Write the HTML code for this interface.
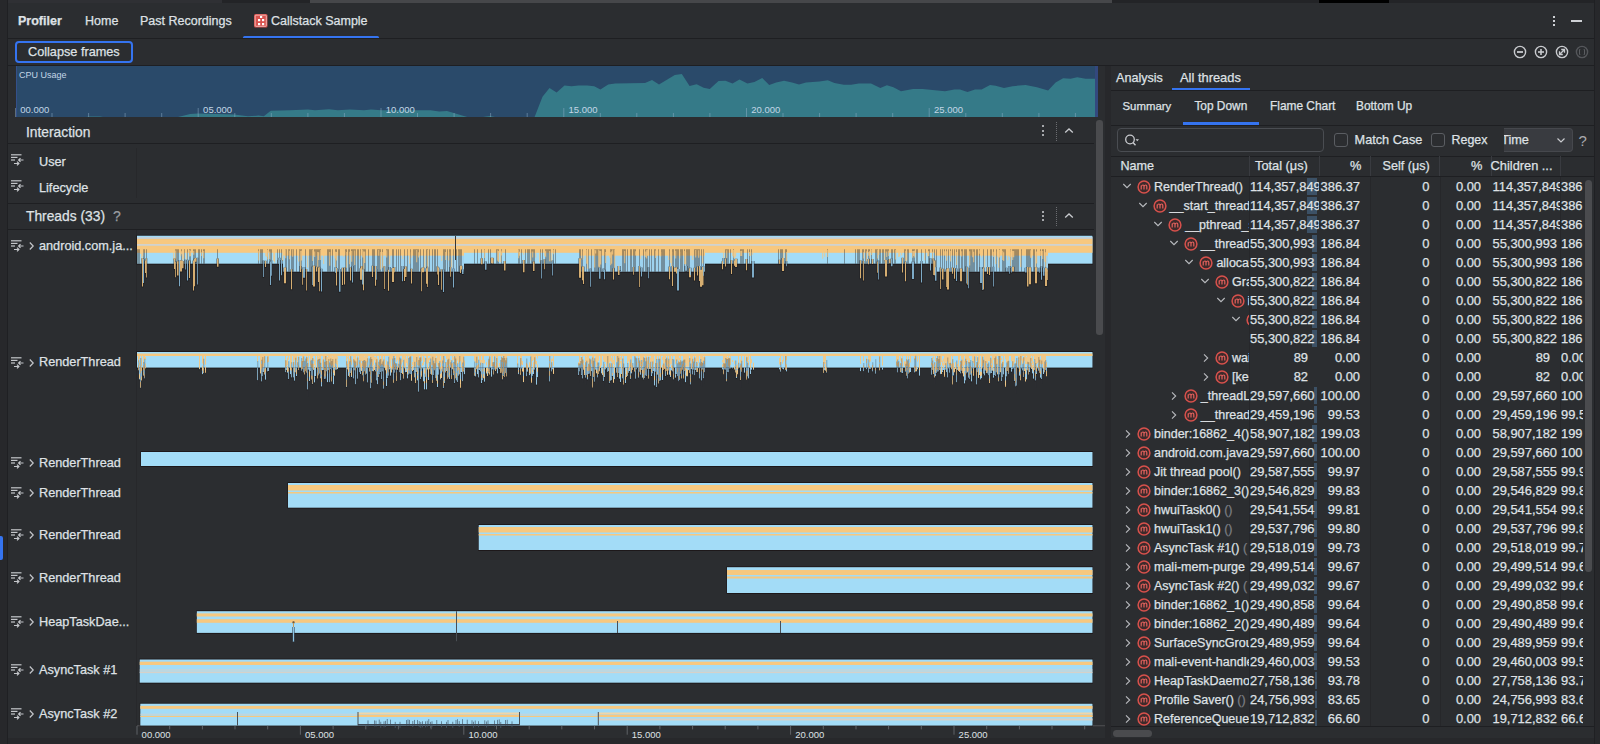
<!DOCTYPE html>
<html><head><meta charset="utf-8"><style>*{box-sizing:border-box;margin:0;padding:0}
html,body{width:1600px;height:744px;overflow:hidden;background:#2b2d30;font-family:"Liberation Sans",sans-serif;color:#dfe1e5;-webkit-text-stroke:0.25px currentColor}
.a{position:absolute}
.t{position:absolute;white-space:nowrap;line-height:1}
.hl{position:absolute;height:1px;background:#1e1f22}
.vl{position:absolute;width:1px;background:#1e1f22}
</style></head><body>
<div class="a" style="left:0;top:0;width:7px;height:744px;background:#27282b"></div>
<div class="vl" style="left:7px;top:0;height:744px;background:#1f2023"></div>
<div class="vl" style="left:1594px;top:0;height:744px;background:#1f2023"></div>
<div class="a" style="left:1595px;top:0;width:5px;height:744px;background:#27282b"></div>
<div class="a" style="left:8px;top:0;width:214px;height:3px;background:#2f3034"></div>
<div class="a" style="left:222px;top:0;width:88px;height:3px;background:#232427"></div>
<div class="a" style="left:310px;top:0;width:802px;height:3px;background:#46474a"></div>
<div class="a" style="left:1112px;top:0;width:207px;height:3px;background:#232427"></div>
<div class="a" style="left:1319px;top:0;width:70px;height:3px;background:#000"></div>
<div class="a" style="left:1389px;top:0;width:205px;height:3px;background:#232427"></div>
<div class="a" style="left:8px;top:738px;width:1586px;height:6px;background:#27282b"></div>
<div class="a" style="left:0;top:536px;width:2.5px;height:24px;background:#3574f0;border-radius:0 2px 2px 0"></div>
<div class="t" style="left:18px;top:15.3px;font-size:12.5px;font-weight:bold">Profiler</div>
<div class="t" style="left:85px;top:15.3px;font-size:12.5px">Home</div>
<div class="t" style="left:140px;top:15.3px;font-size:12.5px">Past Recordings</div>
<svg class="a" style="left:253px;top:13px" width="16" height="16" viewBox="0 0 16 16">
<rect x="1" y="1" width="13.5" height="13.5" rx="1.5" fill="#d9534f"/>
<rect x="2.2" y="2.2" width="11.1" height="11.1" rx="0.8" fill="none" stroke="#f4c6c4" stroke-width="0.8"/>
<rect x="5" y="6" width="2.2" height="2.2" fill="#fff"/><rect x="9" y="6" width="2.2" height="2.2" fill="#fff"/>
<rect x="5" y="10" width="2.2" height="2.2" fill="#fff"/><rect x="9" y="10" width="2.2" height="2.2" fill="#fff"/>
<rect x="7" y="3" width="2.2" height="2" fill="#fff"/></svg>
<div class="t" style="left:271px;top:15.3px;font-size:12.5px">Callstack Sample</div>
<div class="a" style="left:243px;top:36px;width:136px;height:3px;border-radius:2px;background:#3574f0"></div>
<div class="hl" style="left:8px;top:38px;width:1586px"></div>
<div class="a" style="left:1553px;top:16px;width:2px;height:2px;background:#cfd1d5"></div>
<div class="a" style="left:1553px;top:20px;width:2px;height:2px;background:#cfd1d5"></div>
<div class="a" style="left:1553px;top:24px;width:2px;height:2px;background:#cfd1d5"></div>
<div class="a" style="left:1571px;top:20px;width:11px;height:1.5px;background:#cfd1d5"></div>
<div class="a" style="left:15px;top:41px;width:118px;height:22px;border:2px solid #3574f0;border-radius:4px"></div>
<div class="t" style="left:28px;top:46px;font-size:12.7px">Collapse frames</div>
<div class="hl" style="left:8px;top:65px;width:1586px"></div>
<svg class="a" style="left:1512px;top:44px" width="16" height="16" viewBox="0 0 16 16"><circle cx="8" cy="8" r="5.6" fill="none" stroke="#c9cbcf" stroke-width="1.4"/><line x1="5" y1="8" x2="11" y2="8" stroke="#c9cbcf" stroke-width="1.8"/></svg>
<svg class="a" style="left:1533px;top:44px" width="16" height="16" viewBox="0 0 16 16"><circle cx="8" cy="8" r="5.6" fill="none" stroke="#c9cbcf" stroke-width="1.4"/><line x1="5" y1="8" x2="11" y2="8" stroke="#c9cbcf" stroke-width="1.6"/><line x1="8" y1="5" x2="8" y2="11" stroke="#c9cbcf" stroke-width="1.6"/></svg>
<svg class="a" style="left:1554px;top:44px" width="16" height="16" viewBox="0 0 16 16"><circle cx="8" cy="8" r="5.6" fill="none" stroke="#c9cbcf" stroke-width="1.4"/><path d="M5.5 10.5 L10.5 5.5 M7.2 5.5 H10.5 V8.8 M5.5 7.2 V10.5 H8.8" fill="none" stroke="#c9cbcf" stroke-width="1.3"/></svg>
<svg class="a" style="left:1574px;top:44px" width="16" height="16" viewBox="0 0 16 16"><circle cx="8" cy="8" r="5.6" fill="none" stroke="#55575b" stroke-width="1.4"/><path d="M6.3 5.5 H5.5 V10.5 H6.3 M9.7 5.5 H10.5 V10.5 H9.7" fill="none" stroke="#5b5d61" stroke-width="1"/></svg>
<svg class="a" style="left:0;top:0" width="1100" height="120" viewBox="0 0 1100 120">
<rect x="16" y="66" width="1082" height="51" fill="#2a4a6a"/>
<rect x="16" y="66" width="1" height="51" fill="#34508a"/>
<polygon fill="#357a88" points="16.0,117.0 86.0,117.0 89.0,116.5 100.0,116.5 103.0,117.0 178.0,117.0 190.2,113.9 198.0,113.4 234.0,114.6 248.0,116.3 258.5,115.6 263.8,116.3 270.8,110.8 290.0,110.2 308.0,109.5 315.0,110.2 329.0,109.3 337.8,110.2 350.0,109.5 364.0,110.2 371.0,109.5 381.5,110.2 430.5,110.2 439.2,111.6 447.0,111.1 467.2,116.9 483.0,116.9 490.0,116.0 495.0,116.9 534.6,116.9 542.5,96.8 549.5,88.0 556.6,92.4 564.5,85.4 571.5,86.2 578.5,85.4 587.2,85.4 594.2,86.2 600.4,89.4 608.2,84.5 615.2,83.6 645.0,83.1 652.0,80.1 659.0,84.5 674.8,74.9 681.8,74.0 689.6,85.9 696.6,84.2 703.6,87.7 709.8,88.9 718.5,81.0 725.5,80.7 732.5,83.6 739.5,79.6 747.4,83.6 754.4,81.9 762.2,78.0 769.2,85.0 776.2,82.4 784.1,80.7 792.0,82.4 799.0,84.5 806.0,82.4 819.4,81.6 827.8,80.2 834.4,82.9 843.8,84.8 851.2,84.8 858.8,83.4 871.0,83.4 880.3,88.1 886.9,85.3 893.4,87.2 901.0,91.3 913.0,89.0 922.5,89.0 945.0,91.3 954.4,89.4 960.0,89.4 967.5,91.9 975.0,89.4 981.6,89.6 990.0,84.9 995.6,85.7 1004.0,88.1 1012.5,86.2 1025.6,84.9 1036.9,87.2 1048.1,90.4 1055.6,82.5 1063.1,78.2 1070.6,78.8 1077.2,77.2 1085.6,78.8 1095.0,78.8 1095.0,117.0"/>
<rect x="1095" y="66" width="3" height="51" fill="#33487e"/>
<g stroke="#8fb0c8" stroke-opacity="0.5" stroke-width="1"><line x1="15.5" y1="108" x2="15.5" y2="117"/><line x1="52.0" y1="113" x2="52.0" y2="117"/><line x1="88.6" y1="113" x2="88.6" y2="117"/><line x1="125.1" y1="113" x2="125.1" y2="117"/><line x1="161.7" y1="113" x2="161.7" y2="117"/><line x1="198.2" y1="108" x2="198.2" y2="117"/><line x1="234.8" y1="113" x2="234.8" y2="117"/><line x1="271.3" y1="113" x2="271.3" y2="117"/><line x1="307.9" y1="113" x2="307.9" y2="117"/><line x1="344.4" y1="113" x2="344.4" y2="117"/><line x1="381.0" y1="108" x2="381.0" y2="117"/><line x1="417.5" y1="113" x2="417.5" y2="117"/><line x1="454.1" y1="113" x2="454.1" y2="117"/><line x1="490.6" y1="113" x2="490.6" y2="117"/><line x1="527.2" y1="113" x2="527.2" y2="117"/><line x1="563.8" y1="108" x2="563.8" y2="117"/><line x1="600.3" y1="113" x2="600.3" y2="117"/><line x1="636.8" y1="113" x2="636.8" y2="117"/><line x1="673.4" y1="113" x2="673.4" y2="117"/><line x1="709.9" y1="113" x2="709.9" y2="117"/><line x1="746.5" y1="108" x2="746.5" y2="117"/><line x1="783.0" y1="113" x2="783.0" y2="117"/><line x1="819.6" y1="113" x2="819.6" y2="117"/><line x1="856.1" y1="113" x2="856.1" y2="117"/><line x1="892.7" y1="113" x2="892.7" y2="117"/><line x1="929.2" y1="108" x2="929.2" y2="117"/><line x1="965.8" y1="113" x2="965.8" y2="117"/><line x1="1002.3" y1="113" x2="1002.3" y2="117"/><line x1="1038.9" y1="113" x2="1038.9" y2="117"/><line x1="1075.4" y1="113" x2="1075.4" y2="117"/></g>
<g font-family="Liberation Sans" font-size="9.5" fill="#c3d6e6"><text x="20.3" y="113.4">00.000</text><text x="203.1" y="113.4">05.000</text><text x="385.8" y="113.4">10.000</text><text x="568.5" y="113.4">15.000</text><text x="751.3" y="113.4">20.000</text><text x="934.0" y="113.4">25.000</text><text x="19" y="78" font-size="9">CPU Usage</text></g>
</svg>
<div class="t" style="left:26px;top:126px;font-size:13.8px">Interaction</div>
<div class="a" style="left:1042px;top:125.2px;width:2px;height:2px;background:#d0d2d6;border-radius:1px"></div><div class="a" style="left:1042px;top:129.5px;width:2px;height:2px;background:#d0d2d6;border-radius:1px"></div><div class="a" style="left:1042px;top:133.8px;width:2px;height:2px;background:#d0d2d6;border-radius:1px"></div><div class="a" style="left:1056px;top:121.5px;width:1px;height:19px;border-left:1px dotted #6b6d71"></div><svg class="a" style="left:1063px;top:126.5px" width="12" height="8" viewBox="0 0 12 8"><path d="M2.2 5.5 L6 2 L9.8 5.5" fill="none" stroke="#c9cbcf" stroke-width="1.3"/></svg>
<div class="hl" style="left:8px;top:143px;width:1086px"></div>
<svg class="a" style="left:10px;top:153px" width="15" height="14" viewBox="0 0 15 14">
<g stroke="#c4c6ca" stroke-width="1.2" fill="none">
<line x1="1" y1="1.8" x2="11.5" y2="1.8"/><line x1="1" y1="4.4" x2="7.5" y2="4.4"/><line x1="1" y1="7" x2="5" y2="7"/>
<path d="M13.5 7 H8.6 M10.5 5.1 L8.6 7 L10.5 8.9"/>
<path d="M4 10.5 H8.9 M7 8.6 L8.9 10.5 L7 12.4"/></g></svg>
<div class="t" style="left:39px;top:155.5px;font-size:12.7px">User</div>
<svg class="a" style="left:10px;top:179px" width="15" height="14" viewBox="0 0 15 14">
<g stroke="#c4c6ca" stroke-width="1.2" fill="none">
<line x1="1" y1="1.8" x2="11.5" y2="1.8"/><line x1="1" y1="4.4" x2="7.5" y2="4.4"/><line x1="1" y1="7" x2="5" y2="7"/>
<path d="M13.5 7 H8.6 M10.5 5.1 L8.6 7 L10.5 8.9"/>
<path d="M4 10.5 H8.9 M7 8.6 L8.9 10.5 L7 12.4"/></g></svg>
<div class="t" style="left:39px;top:181.5px;font-size:12.7px">Lifecycle</div>
<div class="vl" style="left:136px;top:148px;height:50px;background:#27282b"></div>
<div class="hl" style="left:8px;top:203px;width:1086px"></div>
<div class="t" style="left:26px;top:210px;font-size:13.8px">Threads (33)</div>
<div class="t" style="left:113px;top:209px;font-size:14px;color:#9a9da1">?</div>
<div class="a" style="left:1042px;top:210.7px;width:2px;height:2px;background:#d0d2d6;border-radius:1px"></div><div class="a" style="left:1042px;top:215.0px;width:2px;height:2px;background:#d0d2d6;border-radius:1px"></div><div class="a" style="left:1042px;top:219.3px;width:2px;height:2px;background:#d0d2d6;border-radius:1px"></div><div class="a" style="left:1056px;top:207px;width:1px;height:19px;border-left:1px dotted #6b6d71"></div><svg class="a" style="left:1063px;top:212px" width="12" height="8" viewBox="0 0 12 8"><path d="M2.2 5.5 L6 2 L9.8 5.5" fill="none" stroke="#c9cbcf" stroke-width="1.3"/></svg>
<div class="hl" style="left:8px;top:229px;width:1086px"></div>
<div class="vl" style="left:136px;top:230px;height:496px;background:#27282b"></div>
<svg class="a" style="left:10px;top:239px" width="15" height="14" viewBox="0 0 15 14">
<g stroke="#c4c6ca" stroke-width="1.2" fill="none">
<line x1="1" y1="1.8" x2="11.5" y2="1.8"/><line x1="1" y1="4.4" x2="7.5" y2="4.4"/><line x1="1" y1="7" x2="5" y2="7"/>
<path d="M13.5 7 H8.6 M10.5 5.1 L8.6 7 L10.5 8.9"/>
<path d="M4 10.5 H8.9 M7 8.6 L8.9 10.5 L7 12.4"/></g></svg>
<svg class="a" style="left:27.5px;top:241.0px" width="7" height="10" viewBox="0 0 7 10"><path d="M1.8 1.5 L5.2 5 L1.8 8.5" fill="none" stroke="#c4c6ca" stroke-width="1.2"/></svg>
<div class="t" style="left:39px;top:239.5px;font-size:12.7px">android.com.ja...</div>
<svg class="a" style="left:10px;top:356px" width="15" height="14" viewBox="0 0 15 14">
<g stroke="#c4c6ca" stroke-width="1.2" fill="none">
<line x1="1" y1="1.8" x2="11.5" y2="1.8"/><line x1="1" y1="4.4" x2="7.5" y2="4.4"/><line x1="1" y1="7" x2="5" y2="7"/>
<path d="M13.5 7 H8.6 M10.5 5.1 L8.6 7 L10.5 8.9"/>
<path d="M4 10.5 H8.9 M7 8.6 L8.9 10.5 L7 12.4"/></g></svg>
<svg class="a" style="left:27.5px;top:357.7px" width="7" height="10" viewBox="0 0 7 10"><path d="M1.8 1.5 L5.2 5 L1.8 8.5" fill="none" stroke="#c4c6ca" stroke-width="1.2"/></svg>
<div class="t" style="left:39px;top:356.2px;font-size:12.7px">RenderThread</div>
<svg class="a" style="left:10px;top:456px" width="15" height="14" viewBox="0 0 15 14">
<g stroke="#c4c6ca" stroke-width="1.2" fill="none">
<line x1="1" y1="1.8" x2="11.5" y2="1.8"/><line x1="1" y1="4.4" x2="7.5" y2="4.4"/><line x1="1" y1="7" x2="5" y2="7"/>
<path d="M13.5 7 H8.6 M10.5 5.1 L8.6 7 L10.5 8.9"/>
<path d="M4 10.5 H8.9 M7 8.6 L8.9 10.5 L7 12.4"/></g></svg>
<svg class="a" style="left:27.5px;top:458.0px" width="7" height="10" viewBox="0 0 7 10"><path d="M1.8 1.5 L5.2 5 L1.8 8.5" fill="none" stroke="#c4c6ca" stroke-width="1.2"/></svg>
<div class="t" style="left:39px;top:456.5px;font-size:12.7px">RenderThread</div>
<svg class="a" style="left:10px;top:486px" width="15" height="14" viewBox="0 0 15 14">
<g stroke="#c4c6ca" stroke-width="1.2" fill="none">
<line x1="1" y1="1.8" x2="11.5" y2="1.8"/><line x1="1" y1="4.4" x2="7.5" y2="4.4"/><line x1="1" y1="7" x2="5" y2="7"/>
<path d="M13.5 7 H8.6 M10.5 5.1 L8.6 7 L10.5 8.9"/>
<path d="M4 10.5 H8.9 M7 8.6 L8.9 10.5 L7 12.4"/></g></svg>
<svg class="a" style="left:27.5px;top:488.0px" width="7" height="10" viewBox="0 0 7 10"><path d="M1.8 1.5 L5.2 5 L1.8 8.5" fill="none" stroke="#c4c6ca" stroke-width="1.2"/></svg>
<div class="t" style="left:39px;top:486.5px;font-size:12.7px">RenderThread</div>
<svg class="a" style="left:10px;top:528px" width="15" height="14" viewBox="0 0 15 14">
<g stroke="#c4c6ca" stroke-width="1.2" fill="none">
<line x1="1" y1="1.8" x2="11.5" y2="1.8"/><line x1="1" y1="4.4" x2="7.5" y2="4.4"/><line x1="1" y1="7" x2="5" y2="7"/>
<path d="M13.5 7 H8.6 M10.5 5.1 L8.6 7 L10.5 8.9"/>
<path d="M4 10.5 H8.9 M7 8.6 L8.9 10.5 L7 12.4"/></g></svg>
<svg class="a" style="left:27.5px;top:530.0px" width="7" height="10" viewBox="0 0 7 10"><path d="M1.8 1.5 L5.2 5 L1.8 8.5" fill="none" stroke="#c4c6ca" stroke-width="1.2"/></svg>
<div class="t" style="left:39px;top:528.5px;font-size:12.7px">RenderThread</div>
<svg class="a" style="left:10px;top:571px" width="15" height="14" viewBox="0 0 15 14">
<g stroke="#c4c6ca" stroke-width="1.2" fill="none">
<line x1="1" y1="1.8" x2="11.5" y2="1.8"/><line x1="1" y1="4.4" x2="7.5" y2="4.4"/><line x1="1" y1="7" x2="5" y2="7"/>
<path d="M13.5 7 H8.6 M10.5 5.1 L8.6 7 L10.5 8.9"/>
<path d="M4 10.5 H8.9 M7 8.6 L8.9 10.5 L7 12.4"/></g></svg>
<svg class="a" style="left:27.5px;top:573.0px" width="7" height="10" viewBox="0 0 7 10"><path d="M1.8 1.5 L5.2 5 L1.8 8.5" fill="none" stroke="#c4c6ca" stroke-width="1.2"/></svg>
<div class="t" style="left:39px;top:571.5px;font-size:12.7px">RenderThread</div>
<svg class="a" style="left:10px;top:615px" width="15" height="14" viewBox="0 0 15 14">
<g stroke="#c4c6ca" stroke-width="1.2" fill="none">
<line x1="1" y1="1.8" x2="11.5" y2="1.8"/><line x1="1" y1="4.4" x2="7.5" y2="4.4"/><line x1="1" y1="7" x2="5" y2="7"/>
<path d="M13.5 7 H8.6 M10.5 5.1 L8.6 7 L10.5 8.9"/>
<path d="M4 10.5 H8.9 M7 8.6 L8.9 10.5 L7 12.4"/></g></svg>
<svg class="a" style="left:27.5px;top:617.0px" width="7" height="10" viewBox="0 0 7 10"><path d="M1.8 1.5 L5.2 5 L1.8 8.5" fill="none" stroke="#c4c6ca" stroke-width="1.2"/></svg>
<div class="t" style="left:39px;top:615.5px;font-size:12.7px">HeapTaskDae...</div>
<svg class="a" style="left:10px;top:663px" width="15" height="14" viewBox="0 0 15 14">
<g stroke="#c4c6ca" stroke-width="1.2" fill="none">
<line x1="1" y1="1.8" x2="11.5" y2="1.8"/><line x1="1" y1="4.4" x2="7.5" y2="4.4"/><line x1="1" y1="7" x2="5" y2="7"/>
<path d="M13.5 7 H8.6 M10.5 5.1 L8.6 7 L10.5 8.9"/>
<path d="M4 10.5 H8.9 M7 8.6 L8.9 10.5 L7 12.4"/></g></svg>
<svg class="a" style="left:27.5px;top:665.0px" width="7" height="10" viewBox="0 0 7 10"><path d="M1.8 1.5 L5.2 5 L1.8 8.5" fill="none" stroke="#c4c6ca" stroke-width="1.2"/></svg>
<div class="t" style="left:39px;top:663.5px;font-size:12.7px">AsyncTask #1</div>
<svg class="a" style="left:10px;top:707px" width="15" height="14" viewBox="0 0 15 14">
<g stroke="#c4c6ca" stroke-width="1.2" fill="none">
<line x1="1" y1="1.8" x2="11.5" y2="1.8"/><line x1="1" y1="4.4" x2="7.5" y2="4.4"/><line x1="1" y1="7" x2="5" y2="7"/>
<path d="M13.5 7 H8.6 M10.5 5.1 L8.6 7 L10.5 8.9"/>
<path d="M4 10.5 H8.9 M7 8.6 L8.9 10.5 L7 12.4"/></g></svg>
<svg class="a" style="left:27.5px;top:709.0px" width="7" height="10" viewBox="0 0 7 10"><path d="M1.8 1.5 L5.2 5 L1.8 8.5" fill="none" stroke="#c4c6ca" stroke-width="1.2"/></svg>
<div class="t" style="left:39px;top:707.5px;font-size:12.7px">AsyncTask #2</div>
<svg class="a" style="left:0;top:0" width="1110" height="744" viewBox="0 0 1110 744"><rect x="137.00" y="725.10" width="968.00" height="1.20" fill="#4a4b4e"/><rect x="136.50" y="234.90" width="956.50" height="29.60" fill="#1b1516"/><rect x="137.00" y="235.70" width="955.50" height="28.00" fill="#a3dcf7"/><rect x="137.00" y="237.10" width="955.50" height="1.70" fill="#c7d2da"/><rect x="137.00" y="238.80" width="955.50" height="5.30" fill="#f7c87f"/><rect x="137.00" y="244.10" width="955.50" height="1.70" fill="#d5d1ca"/><rect x="137.00" y="245.80" width="955.50" height="7.00" fill="#f7c87f"/><rect x="283.00" y="263.70" width="181.00" height="8.80" fill="#1b1516"/><rect x="283.00" y="249.30" width="181.00" height="6.50" fill="#f7c87f"/><rect x="283.00" y="255.80" width="181.00" height="15.90" fill="#9ed3f0"/><rect x="580.00" y="263.70" width="125.00" height="8.80" fill="#1b1516"/><rect x="580.00" y="249.30" width="125.00" height="6.50" fill="#f7c87f"/><rect x="580.00" y="255.80" width="125.00" height="15.90" fill="#9ed3f0"/><rect x="935.00" y="263.70" width="113.00" height="8.80" fill="#1b1516"/><rect x="935.00" y="249.30" width="113.00" height="6.50" fill="#f7c87f"/><rect x="935.00" y="255.80" width="113.00" height="15.90" fill="#9ed3f0"/><path fill="#3a3936" opacity="0.55" d="M137.0 249.3h0.8v14.4h-0.8zM138.0 249.3h0.8v14.4h-0.8zM139.0 249.3h0.8v14.4h-0.8zM143.0 249.3h0.8v14.4h-0.8zM144.0 249.3h0.8v14.4h-0.8zM146.0 249.3h0.8v14.4h-0.8zM175.0 249.3h0.8v14.4h-0.8zM176.0 249.3h0.8v14.4h-0.8zM177.0 249.3h0.8v14.4h-0.8zM178.0 249.3h0.8v14.4h-0.8zM181.0 249.3h0.8v14.4h-0.8zM184.0 249.3h0.8v14.4h-0.8zM187.0 249.3h0.8v14.4h-0.8zM189.0 249.3h0.8v14.4h-0.8zM190.0 249.3h0.8v14.4h-0.8zM193.0 249.3h0.8v14.4h-0.8zM194.0 249.3h0.8v14.4h-0.8zM195.0 249.3h0.8v14.4h-0.8zM198.0 249.3h0.8v14.4h-0.8zM199.0 249.3h0.8v14.4h-0.8zM201.0 249.3h0.8v14.4h-0.8zM203.0 249.3h0.8v14.4h-0.8zM204.0 249.3h0.8v14.4h-0.8zM217.0 249.3h0.8v14.4h-0.8zM258.0 249.3h0.8v14.4h-0.8zM260.0 249.3h0.8v14.4h-0.8zM261.0 249.3h0.8v14.4h-0.8zM262.0 249.3h0.8v14.4h-0.8zM267.0 249.3h0.8v14.4h-0.8zM269.0 249.3h0.8v14.4h-0.8zM270.0 249.3h0.8v14.4h-0.8zM271.0 249.3h0.8v14.4h-0.8zM277.0 249.3h0.8v14.4h-0.8zM279.0 249.3h0.8v14.4h-0.8zM281.0 249.3h0.8v14.4h-0.8zM285.0 249.3h0.8v22.4h-0.8zM286.0 249.3h0.8v22.4h-0.8zM288.0 249.3h0.8v22.4h-0.8zM289.0 249.3h0.8v22.4h-0.8zM291.0 249.3h0.8v22.4h-0.8zM292.0 249.3h0.8v22.4h-0.8zM293.0 249.3h0.8v22.4h-0.8zM296.0 249.3h0.8v22.4h-0.8zM299.0 249.3h0.8v22.4h-0.8zM300.0 249.3h0.8v22.4h-0.8zM301.0 249.3h0.8v22.4h-0.8zM305.0 249.3h0.8v22.4h-0.8zM309.0 249.3h0.8v22.4h-0.8zM310.0 249.3h0.8v22.4h-0.8zM311.0 249.3h0.8v22.4h-0.8zM312.0 249.3h0.8v22.4h-0.8zM314.0 249.3h0.8v22.4h-0.8zM315.0 249.3h0.8v22.4h-0.8zM316.0 249.3h0.8v22.4h-0.8zM317.0 249.3h0.8v22.4h-0.8zM318.0 249.3h0.8v22.4h-0.8zM319.0 249.3h0.8v22.4h-0.8zM320.0 249.3h0.8v22.4h-0.8zM327.0 249.3h0.8v22.4h-0.8zM328.0 249.3h0.8v22.4h-0.8zM329.0 249.3h0.8v22.4h-0.8zM330.0 249.3h0.8v22.4h-0.8zM332.0 249.3h0.8v22.4h-0.8zM335.0 249.3h0.8v22.4h-0.8zM336.0 249.3h0.8v22.4h-0.8zM338.0 249.3h0.8v22.4h-0.8zM339.0 249.3h0.8v22.4h-0.8zM345.0 249.3h0.8v22.4h-0.8zM346.0 249.3h0.8v22.4h-0.8zM348.0 249.3h0.8v22.4h-0.8zM349.0 249.3h0.8v22.4h-0.8zM351.0 249.3h0.8v22.4h-0.8zM352.0 249.3h0.8v22.4h-0.8zM353.0 249.3h0.8v22.4h-0.8zM354.0 249.3h0.8v22.4h-0.8zM355.0 249.3h0.8v22.4h-0.8zM357.0 249.3h0.8v22.4h-0.8zM358.0 249.3h0.8v22.4h-0.8zM360.0 249.3h0.8v22.4h-0.8zM362.0 249.3h0.8v22.4h-0.8zM363.0 249.3h0.8v22.4h-0.8zM364.0 249.3h0.8v22.4h-0.8zM365.0 249.3h0.8v22.4h-0.8zM368.0 249.3h0.8v22.4h-0.8zM372.0 249.3h0.8v22.4h-0.8zM373.0 249.3h0.8v22.4h-0.8zM374.0 249.3h0.8v22.4h-0.8zM377.0 249.3h0.8v22.4h-0.8zM378.0 249.3h0.8v22.4h-0.8zM379.0 249.3h0.8v22.4h-0.8zM380.0 249.3h0.8v22.4h-0.8zM382.0 249.3h0.8v22.4h-0.8zM386.0 249.3h0.8v22.4h-0.8zM387.0 249.3h0.8v22.4h-0.8zM388.0 249.3h0.8v22.4h-0.8zM392.0 249.3h0.8v22.4h-0.8zM393.0 249.3h0.8v22.4h-0.8zM396.0 249.3h0.8v22.4h-0.8zM398.0 249.3h0.8v22.4h-0.8zM400.0 249.3h0.8v22.4h-0.8zM404.0 249.3h0.8v22.4h-0.8zM407.0 249.3h0.8v22.4h-0.8zM410.0 249.3h0.8v22.4h-0.8zM413.0 249.3h0.8v22.4h-0.8zM414.0 249.3h0.8v22.4h-0.8zM415.0 249.3h0.8v22.4h-0.8zM416.0 249.3h0.8v22.4h-0.8zM417.0 249.3h0.8v22.4h-0.8zM418.0 249.3h0.8v22.4h-0.8zM420.0 249.3h0.8v22.4h-0.8zM423.0 249.3h0.8v22.4h-0.8zM426.0 249.3h0.8v22.4h-0.8zM427.0 249.3h0.8v22.4h-0.8zM429.0 249.3h0.8v22.4h-0.8zM432.0 249.3h0.8v22.4h-0.8zM434.0 249.3h0.8v22.4h-0.8zM435.0 249.3h0.8v22.4h-0.8zM437.0 249.3h0.8v22.4h-0.8zM443.0 249.3h0.8v22.4h-0.8zM444.0 249.3h0.8v22.4h-0.8zM445.0 249.3h0.8v22.4h-0.8zM447.0 249.3h0.8v22.4h-0.8zM449.0 249.3h0.8v22.4h-0.8zM450.0 249.3h0.8v22.4h-0.8zM453.0 249.3h0.8v22.4h-0.8zM456.0 249.3h0.8v22.4h-0.8zM458.0 249.3h0.8v22.4h-0.8zM459.0 249.3h0.8v22.4h-0.8zM460.0 249.3h0.8v22.4h-0.8zM461.0 249.3h0.8v22.4h-0.8zM474.0 249.3h0.8v14.4h-0.8zM477.0 249.3h0.8v14.4h-0.8zM481.0 249.3h0.8v14.4h-0.8zM484.0 249.3h0.8v14.4h-0.8zM488.0 249.3h0.8v14.4h-0.8zM490.0 249.3h0.8v14.4h-0.8zM496.0 249.3h0.8v14.4h-0.8zM497.0 249.3h0.8v14.4h-0.8zM498.0 249.3h0.8v14.4h-0.8zM501.0 249.3h0.8v14.4h-0.8zM505.0 249.3h0.8v14.4h-0.8zM518.0 249.3h0.8v14.4h-0.8zM519.0 249.3h0.8v14.4h-0.8zM521.0 249.3h0.8v14.4h-0.8zM525.0 249.3h0.8v14.4h-0.8zM527.0 249.3h0.8v14.4h-0.8zM528.0 249.3h0.8v14.4h-0.8zM529.0 249.3h0.8v14.4h-0.8zM531.0 249.3h0.8v14.4h-0.8zM532.0 249.3h0.8v14.4h-0.8zM533.0 249.3h0.8v14.4h-0.8zM534.0 249.3h0.8v14.4h-0.8zM540.0 249.3h0.8v14.4h-0.8zM542.0 249.3h0.8v14.4h-0.8zM545.0 249.3h0.8v14.4h-0.8zM546.0 249.3h0.8v14.4h-0.8zM547.0 249.3h0.8v14.4h-0.8zM548.0 249.3h0.8v14.4h-0.8zM549.0 249.3h0.8v14.4h-0.8zM550.0 249.3h0.8v14.4h-0.8zM553.0 249.3h0.8v14.4h-0.8zM555.0 249.3h0.8v14.4h-0.8zM579.0 249.3h0.8v14.4h-0.8zM580.0 249.3h0.8v22.4h-0.8zM582.0 249.3h0.8v22.4h-0.8zM586.0 249.3h0.8v22.4h-0.8zM588.0 249.3h0.8v22.4h-0.8zM591.0 249.3h0.8v22.4h-0.8zM594.0 249.3h0.8v22.4h-0.8zM595.0 249.3h0.8v22.4h-0.8zM596.0 249.3h0.8v22.4h-0.8zM597.0 249.3h0.8v22.4h-0.8zM598.0 249.3h0.8v22.4h-0.8zM599.0 249.3h0.8v22.4h-0.8zM600.0 249.3h0.8v22.4h-0.8zM601.0 249.3h0.8v22.4h-0.8zM604.0 249.3h0.8v22.4h-0.8zM605.0 249.3h0.8v22.4h-0.8zM610.0 249.3h0.8v22.4h-0.8zM611.0 249.3h0.8v22.4h-0.8zM612.0 249.3h0.8v22.4h-0.8zM613.0 249.3h0.8v22.4h-0.8zM614.0 249.3h0.8v22.4h-0.8zM622.0 249.3h0.8v22.4h-0.8zM623.0 249.3h0.8v22.4h-0.8zM624.0 249.3h0.8v22.4h-0.8zM625.0 249.3h0.8v22.4h-0.8zM627.0 249.3h0.8v22.4h-0.8zM630.0 249.3h0.8v22.4h-0.8zM631.0 249.3h0.8v22.4h-0.8zM633.0 249.3h0.8v22.4h-0.8zM634.0 249.3h0.8v22.4h-0.8zM635.0 249.3h0.8v22.4h-0.8zM639.0 249.3h0.8v22.4h-0.8zM643.0 249.3h0.8v22.4h-0.8zM645.0 249.3h0.8v22.4h-0.8zM646.0 249.3h0.8v22.4h-0.8zM647.0 249.3h0.8v22.4h-0.8zM649.0 249.3h0.8v22.4h-0.8zM651.0 249.3h0.8v22.4h-0.8zM654.0 249.3h0.8v22.4h-0.8zM655.0 249.3h0.8v22.4h-0.8zM658.0 249.3h0.8v22.4h-0.8zM661.0 249.3h0.8v22.4h-0.8zM662.0 249.3h0.8v22.4h-0.8zM663.0 249.3h0.8v22.4h-0.8zM664.0 249.3h0.8v22.4h-0.8zM669.0 249.3h0.8v22.4h-0.8zM672.0 249.3h0.8v22.4h-0.8zM673.0 249.3h0.8v22.4h-0.8zM675.0 249.3h0.8v22.4h-0.8zM676.0 249.3h0.8v22.4h-0.8zM677.0 249.3h0.8v22.4h-0.8zM678.0 249.3h0.8v22.4h-0.8zM680.0 249.3h0.8v22.4h-0.8zM681.0 249.3h0.8v22.4h-0.8zM682.0 249.3h0.8v22.4h-0.8zM684.0 249.3h0.8v22.4h-0.8zM686.0 249.3h0.8v22.4h-0.8zM687.0 249.3h0.8v22.4h-0.8zM688.0 249.3h0.8v22.4h-0.8zM689.0 249.3h0.8v22.4h-0.8zM694.0 249.3h0.8v22.4h-0.8zM695.0 249.3h0.8v22.4h-0.8zM696.0 249.3h0.8v22.4h-0.8zM697.0 249.3h0.8v22.4h-0.8zM698.0 249.3h0.8v22.4h-0.8zM699.0 249.3h0.8v22.4h-0.8zM701.0 249.3h0.8v22.4h-0.8zM703.0 249.3h0.8v22.4h-0.8zM725.0 249.3h0.8v14.4h-0.8zM726.0 249.3h0.8v14.4h-0.8zM727.0 249.3h0.8v14.4h-0.8zM728.0 249.3h0.8v14.4h-0.8zM730.0 249.3h0.8v14.4h-0.8zM733.0 249.3h0.8v14.4h-0.8zM740.0 249.3h0.8v14.4h-0.8zM741.0 249.3h0.8v14.4h-0.8zM742.0 249.3h0.8v14.4h-0.8zM743.0 249.3h0.8v14.4h-0.8zM747.0 249.3h0.8v14.4h-0.8zM749.0 249.3h0.8v14.4h-0.8zM751.0 249.3h0.8v14.4h-0.8zM778.0 249.3h0.8v14.4h-0.8zM780.0 249.3h0.8v14.4h-0.8zM781.0 249.3h0.8v14.4h-0.8zM782.0 249.3h0.8v14.4h-0.8zM785.0 249.3h0.8v14.4h-0.8zM786.0 249.3h0.8v14.4h-0.8zM827.0 249.3h0.8v14.4h-0.8zM844.0 249.3h0.8v14.4h-0.8zM855.0 249.3h0.8v14.4h-0.8zM857.0 249.3h0.8v14.4h-0.8zM858.0 249.3h0.8v14.4h-0.8zM859.0 249.3h0.8v14.4h-0.8zM862.0 249.3h0.8v14.4h-0.8zM863.0 249.3h0.8v14.4h-0.8zM865.0 249.3h0.8v14.4h-0.8zM866.0 249.3h0.8v14.4h-0.8zM868.0 249.3h0.8v14.4h-0.8zM869.0 249.3h0.8v14.4h-0.8zM871.0 249.3h0.8v14.4h-0.8zM875.0 249.3h0.8v14.4h-0.8zM876.0 249.3h0.8v14.4h-0.8zM877.0 249.3h0.8v14.4h-0.8zM879.0 249.3h0.8v14.4h-0.8zM880.0 249.3h0.8v14.4h-0.8zM882.0 249.3h0.8v14.4h-0.8zM883.0 249.3h0.8v14.4h-0.8zM885.0 249.3h0.8v14.4h-0.8zM886.0 249.3h0.8v14.4h-0.8zM887.0 249.3h0.8v14.4h-0.8zM888.0 249.3h0.8v14.4h-0.8zM891.0 249.3h0.8v14.4h-0.8zM892.0 249.3h0.8v14.4h-0.8zM894.0 249.3h0.8v14.4h-0.8zM895.0 249.3h0.8v14.4h-0.8zM904.0 249.3h0.8v14.4h-0.8zM905.0 249.3h0.8v14.4h-0.8zM907.0 249.3h0.8v14.4h-0.8zM908.0 249.3h0.8v14.4h-0.8zM912.0 249.3h0.8v14.4h-0.8zM913.0 249.3h0.8v14.4h-0.8zM914.0 249.3h0.8v14.4h-0.8zM916.0 249.3h0.8v14.4h-0.8zM917.0 249.3h0.8v14.4h-0.8zM921.0 249.3h0.8v14.4h-0.8zM925.0 249.3h0.8v14.4h-0.8zM928.0 249.3h0.8v14.4h-0.8zM929.0 249.3h0.8v14.4h-0.8zM932.0 249.3h0.8v14.4h-0.8zM934.0 249.3h0.8v14.4h-0.8zM936.0 249.3h0.8v22.4h-0.8zM940.0 249.3h0.8v22.4h-0.8zM942.0 249.3h0.8v22.4h-0.8zM944.0 249.3h0.8v22.4h-0.8zM946.0 249.3h0.8v22.4h-0.8zM948.0 249.3h0.8v22.4h-0.8zM950.0 249.3h0.8v22.4h-0.8zM952.0 249.3h0.8v22.4h-0.8zM954.0 249.3h0.8v22.4h-0.8zM956.0 249.3h0.8v22.4h-0.8zM958.0 249.3h0.8v22.4h-0.8zM959.0 249.3h0.8v22.4h-0.8zM961.0 249.3h0.8v22.4h-0.8zM962.0 249.3h0.8v22.4h-0.8zM964.0 249.3h0.8v22.4h-0.8zM965.0 249.3h0.8v22.4h-0.8zM966.0 249.3h0.8v22.4h-0.8zM969.0 249.3h0.8v22.4h-0.8zM970.0 249.3h0.8v22.4h-0.8zM971.0 249.3h0.8v22.4h-0.8zM972.0 249.3h0.8v22.4h-0.8zM973.0 249.3h0.8v22.4h-0.8zM974.0 249.3h0.8v22.4h-0.8zM976.0 249.3h0.8v22.4h-0.8zM977.0 249.3h0.8v22.4h-0.8zM979.0 249.3h0.8v22.4h-0.8zM983.0 249.3h0.8v22.4h-0.8zM987.0 249.3h0.8v22.4h-0.8zM990.0 249.3h0.8v22.4h-0.8zM991.0 249.3h0.8v22.4h-0.8zM993.0 249.3h0.8v22.4h-0.8zM996.0 249.3h0.8v22.4h-0.8zM999.0 249.3h0.8v22.4h-0.8zM1002.0 249.3h0.8v22.4h-0.8zM1003.0 249.3h0.8v22.4h-0.8zM1004.0 249.3h0.8v22.4h-0.8zM1005.0 249.3h0.8v22.4h-0.8zM1010.0 249.3h0.8v22.4h-0.8zM1012.0 249.3h0.8v22.4h-0.8zM1013.0 249.3h0.8v22.4h-0.8zM1014.0 249.3h0.8v22.4h-0.8zM1015.0 249.3h0.8v22.4h-0.8zM1016.0 249.3h0.8v22.4h-0.8zM1017.0 249.3h0.8v22.4h-0.8zM1018.0 249.3h0.8v22.4h-0.8zM1021.0 249.3h0.8v22.4h-0.8zM1026.0 249.3h0.8v22.4h-0.8zM1027.0 249.3h0.8v22.4h-0.8zM1028.0 249.3h0.8v22.4h-0.8zM1029.0 249.3h0.8v22.4h-0.8zM1030.0 249.3h0.8v22.4h-0.8zM1033.0 249.3h0.8v22.4h-0.8zM1034.0 249.3h0.8v22.4h-0.8zM1036.0 249.3h0.8v22.4h-0.8zM1040.0 249.3h0.8v22.4h-0.8zM1042.0 249.3h0.8v22.4h-0.8zM1043.0 249.3h0.8v22.4h-0.8zM1045.0 249.3h0.8v22.4h-0.8z"/><path fill="#f7c87f" opacity="0.9" d="M140.3 250.2h0.9v3.7h-0.9zM141.3 252.2h0.9v10.6h-0.9zM142.3 249.3h0.9v7.2h-0.9zM173.3 249.9h0.9v10.2h-0.9zM175.3 250.5h0.9v10.3h-0.9zM180.3 249.7h0.9v6.5h-0.9zM181.3 251.2h0.9v3.1h-0.9zM182.3 251.1h0.9v9.6h-0.9zM183.3 249.9h0.9v8.8h-0.9zM186.3 251.8h0.9v7.7h-0.9zM189.3 250.1h0.9v6.5h-0.9zM190.3 250.7h0.9v5.6h-0.9zM193.3 251.1h0.9v3.6h-0.9zM201.3 252.2h0.9v3.9h-0.9zM203.3 251.1h0.9v7.1h-0.9zM258.3 250.8h0.9v9.6h-0.9zM265.3 249.7h0.9v6.6h-0.9zM266.3 249.6h0.9v7.2h-0.9zM267.3 249.9h0.9v9.5h-0.9zM269.3 251.6h0.9v7.3h-0.9zM273.3 251.5h0.9v9.5h-0.9zM274.3 252.0h0.9v10.7h-0.9zM282.3 250.8h0.9v10.2h-0.9zM285.3 249.3h0.9v9.0h-0.9zM287.3 249.6h0.9v5.7h-0.9zM289.3 250.8h0.9v8.4h-0.9zM292.3 249.3h0.9v7.5h-0.9zM298.3 249.9h0.9v11.6h-0.9zM300.3 251.1h0.9v17.2h-0.9zM301.3 250.5h0.9v9.9h-0.9zM307.3 249.5h0.9v18.1h-0.9zM312.3 249.8h0.9v11.1h-0.9zM314.3 251.5h0.9v5.5h-0.9zM317.3 252.0h0.9v18.8h-0.9zM318.3 252.2h0.9v7.8h-0.9zM320.3 250.0h0.9v10.1h-0.9zM323.3 250.6h0.9v13.3h-0.9zM329.3 252.1h0.9v13.6h-0.9zM334.3 251.5h0.9v7.0h-0.9zM335.3 251.7h0.9v17.5h-0.9zM336.3 251.9h0.9v8.7h-0.9zM343.3 249.5h0.9v7.3h-0.9zM344.3 250.9h0.9v4.2h-0.9zM346.3 251.9h0.9v15.8h-0.9zM349.3 251.8h0.9v12.5h-0.9zM351.3 251.0h0.9v10.7h-0.9zM354.3 250.4h0.9v14.5h-0.9zM359.3 250.4h0.9v8.8h-0.9zM362.3 249.8h0.9v7.7h-0.9zM363.3 251.5h0.9v17.3h-0.9zM364.3 251.6h0.9v11.3h-0.9zM378.3 250.1h0.9v5.7h-0.9zM380.3 252.0h0.9v17.5h-0.9zM382.3 252.1h0.9v15.7h-0.9zM386.3 250.3h0.9v7.1h-0.9zM389.3 250.1h0.9v14.4h-0.9zM402.3 249.9h0.9v9.0h-0.9zM405.3 250.0h0.9v5.5h-0.9zM406.3 249.9h0.9v5.4h-0.9zM409.3 252.3h0.9v11.4h-0.9zM411.3 250.3h0.9v7.7h-0.9zM416.3 250.0h0.9v12.2h-0.9zM418.3 252.2h0.9v5.2h-0.9zM424.3 251.6h0.9v16.5h-0.9zM427.3 250.0h0.9v17.8h-0.9zM441.3 251.2h0.9v9.7h-0.9zM445.3 252.0h0.9v7.9h-0.9zM448.3 251.8h0.9v8.6h-0.9zM451.3 250.6h0.9v17.0h-0.9zM457.3 251.2h0.9v4.4h-0.9zM484.3 249.8h0.9v8.1h-0.9zM497.3 250.2h0.9v10.5h-0.9zM498.3 251.1h0.9v10.9h-0.9zM500.3 251.9h0.9v10.4h-0.9zM501.3 250.6h0.9v4.9h-0.9zM518.3 249.5h0.9v8.8h-0.9zM519.3 251.8h0.9v3.9h-0.9zM523.3 250.8h0.9v4.0h-0.9zM530.3 251.6h0.9v8.9h-0.9zM532.3 251.6h0.9v6.0h-0.9zM535.3 251.6h0.9v5.8h-0.9zM539.3 252.0h0.9v10.2h-0.9zM544.3 251.4h0.9v4.7h-0.9zM545.3 250.7h0.9v6.6h-0.9zM549.3 250.9h0.9v10.3h-0.9zM551.3 251.8h0.9v10.0h-0.9zM553.3 249.9h0.9v4.3h-0.9zM581.3 251.2h0.9v8.8h-0.9zM583.3 251.5h0.9v7.3h-0.9zM586.3 250.1h0.9v13.6h-0.9zM587.3 249.8h0.9v18.9h-0.9zM594.3 249.6h0.9v17.8h-0.9zM595.3 250.3h0.9v3.3h-0.9zM598.3 249.5h0.9v17.2h-0.9zM599.3 250.8h0.9v18.9h-0.9zM600.3 251.0h0.9v13.4h-0.9zM603.3 249.4h0.9v5.7h-0.9zM605.3 252.1h0.9v10.9h-0.9zM609.3 249.7h0.9v8.1h-0.9zM610.3 252.3h0.9v13.0h-0.9zM611.3 251.3h0.9v12.4h-0.9zM612.3 249.4h0.9v5.1h-0.9zM614.3 249.6h0.9v18.1h-0.9zM615.3 249.8h0.9v4.1h-0.9zM624.3 251.1h0.9v12.1h-0.9zM635.3 251.2h0.9v4.2h-0.9zM640.3 249.8h0.9v9.2h-0.9zM645.3 251.6h0.9v5.7h-0.9zM646.3 250.1h0.9v8.5h-0.9zM647.3 249.5h0.9v6.3h-0.9zM655.3 250.6h0.9v7.5h-0.9zM657.3 250.5h0.9v5.1h-0.9zM660.3 252.0h0.9v4.4h-0.9zM668.3 250.7h0.9v9.4h-0.9zM670.3 249.8h0.9v13.3h-0.9zM671.3 251.7h0.9v14.6h-0.9zM675.3 250.8h0.9v7.7h-0.9zM679.3 251.8h0.9v6.6h-0.9zM684.3 250.9h0.9v13.4h-0.9zM685.3 252.3h0.9v11.9h-0.9zM692.3 251.4h0.9v8.7h-0.9zM695.3 250.1h0.9v7.3h-0.9zM698.3 250.2h0.9v7.5h-0.9zM702.3 249.6h0.9v13.9h-0.9zM723.3 251.9h0.9v6.7h-0.9zM726.3 250.3h0.9v7.7h-0.9zM732.3 249.8h0.9v6.3h-0.9zM733.3 249.9h0.9v7.9h-0.9zM734.3 252.3h0.9v5.8h-0.9zM735.3 251.7h0.9v4.7h-0.9zM740.3 250.9h0.9v5.0h-0.9zM741.3 250.8h0.9v5.2h-0.9zM749.3 252.1h0.9v3.9h-0.9zM750.3 252.0h0.9v3.8h-0.9zM752.3 251.3h0.9v3.5h-0.9zM783.3 250.8h0.9v7.7h-0.9zM786.3 251.9h0.9v10.6h-0.9zM822.3 249.5h0.9v9.3h-0.9zM824.3 251.6h0.9v5.1h-0.9zM827.3 250.1h0.9v6.8h-0.9zM863.3 252.2h0.9v6.4h-0.9zM866.3 251.3h0.9v10.0h-0.9zM868.3 252.1h0.9v3.6h-0.9zM869.3 250.9h0.9v7.3h-0.9zM871.3 249.5h0.9v5.4h-0.9zM877.3 249.8h0.9v8.8h-0.9zM878.3 249.4h0.9v5.7h-0.9zM884.3 250.8h0.9v10.8h-0.9zM886.3 251.4h0.9v5.7h-0.9zM888.3 250.8h0.9v5.1h-0.9zM895.3 249.9h0.9v9.6h-0.9zM898.3 251.7h0.9v5.4h-0.9zM899.3 250.8h0.9v5.7h-0.9zM901.3 251.3h0.9v3.9h-0.9zM905.3 250.8h0.9v10.3h-0.9zM906.3 251.3h0.9v9.1h-0.9zM912.3 250.9h0.9v6.9h-0.9zM913.3 251.0h0.9v4.9h-0.9zM914.3 250.4h0.9v7.2h-0.9zM923.3 249.5h0.9v3.5h-0.9zM924.3 250.1h0.9v10.1h-0.9zM927.3 251.7h0.9v4.9h-0.9zM928.3 251.0h0.9v4.9h-0.9zM932.3 251.8h0.9v8.7h-0.9zM944.3 251.3h0.9v4.1h-0.9zM946.3 251.3h0.9v9.5h-0.9zM950.3 251.1h0.9v10.3h-0.9zM956.3 252.0h0.9v13.1h-0.9zM961.3 251.2h0.9v5.4h-0.9zM969.3 251.3h0.9v14.1h-0.9zM972.3 249.3h0.9v7.9h-0.9zM973.3 251.8h0.9v10.5h-0.9zM979.3 250.2h0.9v3.5h-0.9zM981.3 250.8h0.9v6.6h-0.9zM984.3 251.9h0.9v15.7h-0.9zM993.3 251.7h0.9v5.2h-0.9zM995.3 251.2h0.9v12.8h-0.9zM997.3 251.4h0.9v5.9h-0.9zM998.3 250.1h0.9v17.6h-0.9zM999.3 250.0h0.9v7.6h-0.9zM1002.3 250.8h0.9v9.1h-0.9zM1003.3 252.2h0.9v8.9h-0.9zM1007.3 249.9h0.9v10.4h-0.9zM1009.3 251.8h0.9v5.3h-0.9zM1010.3 249.4h0.9v16.5h-0.9zM1011.3 249.6h0.9v7.6h-0.9zM1012.3 250.9h0.9v9.0h-0.9zM1013.3 251.1h0.9v6.1h-0.9zM1020.3 250.5h0.9v16.6h-0.9zM1030.3 250.3h0.9v7.4h-0.9zM1031.3 251.4h0.9v6.7h-0.9zM1035.3 251.6h0.9v18.4h-0.9zM1036.3 251.5h0.9v12.1h-0.9zM1037.3 249.6h0.9v3.6h-0.9zM1040.3 250.9h0.9v5.0h-0.9zM1042.3 250.9h0.9v8.2h-0.9zM1044.3 250.1h0.9v11.6h-0.9zM1045.3 252.2h0.9v14.6h-0.9z"/><path fill="#1d1b1c" opacity="0.7" d="M141.5 258.2h2v29.2h-2zM142.5 259.1h2v25.0h-2zM144.5 260.4h2v13.6h-2zM145.5 258.3h1.8v20.2h-1.8zM173.5 258.6h2v11.3h-2zM174.5 261.7h1.8v16.6h-1.8zM176.5 261.2h2.5v15.4h-2.5zM178.5 260.1h2v27.1h-2zM179.5 260.4h3v12.0h-3zM181.5 261.0h2.5v8.2h-2.5zM184.5 259.7h1.8v10.9h-1.8zM186.5 259.8h2v21.6h-2zM188.5 260.6h2v18.3h-2zM192.5 260.4h2v31.0h-2zM193.5 258.5h2v28.7h-2zM194.5 257.9h2.5v4.8h-2.5zM196.5 257.7h1.8v27.8h-1.8zM216.5 258.5h2.5v9.3h-2.5zM262.5 260.6h1.8v17.4h-1.8zM264.5 260.8h2v7.1h-2zM269.5 261.4h2v24.5h-2zM270.5 260.2h1.8v16.5h-1.8zM277.5 260.0h1.8v4.8h-1.8zM278.5 257.7h2v23.8h-2zM280.5 259.9h2v16.3h-2zM283.5 267.6h3v16.6h-3zM290.5 269.2h2v21.1h-2zM299.5 266.1h2v6.9h-2zM301.5 269.3h1.8v16.5h-1.8zM302.5 267.2h3v11.6h-3zM305.5 268.9h1.8v22.5h-1.8zM311.5 266.5h1.8v19.5h-1.8zM312.5 265.8h3v21.7h-3zM315.5 266.8h2v5.6h-2zM317.5 267.4h2.5v15.7h-2.5zM318.5 266.7h1.8v25.6h-1.8zM320.5 268.7h2v23.9h-2zM334.5 267.3h2v6.5h-2zM335.5 267.9h2v18.7h-2zM338.5 269.2h2.5v23.6h-2.5zM341.5 267.7h2v18.4h-2zM343.5 267.5h2v17.9h-2zM349.5 267.4h2v14.2h-2zM351.5 266.1h2v17.3h-2zM359.5 268.2h3v12.6h-3zM360.5 266.2h2.5v10.2h-2.5zM361.5 269.4h2.5v16.0h-2.5zM362.5 269.3h2v22.0h-2zM371.5 265.7h2v12.3h-2zM374.5 266.1h2v20.6h-2zM375.5 268.9h1.8v11.9h-1.8zM383.5 266.2h1.8v23.9h-1.8zM387.5 269.7h2v22.1h-2zM388.5 266.9h2.5v5.8h-2.5zM391.5 268.0h3v14.9h-3zM393.5 267.0h1.8v6.3h-1.8zM401.5 265.9h2v16.4h-2zM403.5 269.0h2v12.9h-2zM404.5 266.6h2.5v11.5h-2.5zM410.5 268.7h2v15.9h-2zM420.5 268.5h1.8v23.7h-1.8zM421.5 267.5h3v5.7h-3zM425.5 268.2h3v16.5h-3zM426.5 266.8h1.8v21.3h-1.8zM436.5 266.3h1.8v9.3h-1.8zM437.5 267.5h2v18.5h-2zM440.5 269.3h1.8v21.4h-1.8zM442.5 269.4h2v23.7h-2zM449.5 267.1h1.8v10.7h-1.8zM452.5 268.6h2v19.8h-2zM459.5 265.7h2v8.2h-2zM460.5 265.7h2v4.7h-2zM461.5 269.5h2.5v5.4h-2.5zM480.5 258.2h2.5v7.1h-2.5zM484.5 261.5h2.5v9.3h-2.5zM490.5 257.8h3v6.5h-3zM491.5 258.1h2.5v6.4h-2.5zM503.5 260.9h2.5v10.5h-2.5zM522.5 260.0h2.5v13.2h-2.5zM532.5 261.5h2.5v10.5h-2.5zM540.5 260.3h1.8v19.2h-1.8zM543.5 259.2h1.8v11.0h-1.8zM551.5 260.4h1.8v16.2h-1.8zM578.5 258.2h3v20.5h-3zM581.5 266.4h3v14.8h-3zM582.5 268.2h2v16.7h-2zM589.5 268.5h1.8v19.2h-1.8zM598.5 267.8h2.5v11.9h-2.5zM602.5 268.6h1.8v4.5h-1.8zM603.5 269.4h2v10.9h-2zM612.5 268.3h2v12.2h-2zM617.5 265.9h2.5v10.1h-2.5zM618.5 266.1h2.5v5.1h-2.5zM632.5 266.9h1.8v8.8h-1.8zM638.5 266.0h1.8v22.1h-1.8zM640.5 267.6h2v10.0h-2zM647.5 267.2h1.8v12.1h-1.8zM668.5 266.4h2v13.8h-2zM671.5 265.9h2v21.0h-2zM673.5 267.4h3v5.3h-3zM675.5 267.3h2v7.2h-2zM676.5 269.1h3v22.4h-3zM684.5 266.0h3v5.8h-3zM688.5 268.2h3v10.1h-3zM689.5 267.8h2v8.4h-2zM693.5 267.7h2v13.8h-2zM696.5 266.4h2v10.2h-2zM698.5 266.0h2v16.1h-2zM699.5 269.7h3v18.0h-3zM701.5 267.0h2.5v19.2h-2.5zM702.5 265.9h1.8v10.8h-1.8zM721.5 261.3h2v8.9h-2zM722.5 258.0h2.5v7.0h-2.5zM724.5 258.6h2v8.9h-2zM730.5 260.2h2v14.7h-2zM733.5 260.4h2.5v6.3h-2.5zM734.5 258.7h3v9.2h-3zM745.5 259.1h2v12.1h-2zM751.5 261.1h3v17.5h-3zM778.5 259.8h2v4.9h-2zM781.5 257.9h3v14.2h-3zM785.5 261.1h1.8v6.1h-1.8zM859.5 260.3h2v19.0h-2zM862.5 260.9h1.8v20.7h-1.8zM867.5 259.0h2v6.3h-2zM871.5 259.1h2v6.0h-2zM876.5 261.6h1.8v12.1h-1.8zM877.5 260.4h1.8v20.1h-1.8zM884.5 260.1h3v17.3h-3zM888.5 259.1h2.5v5.2h-2.5zM890.5 258.5h2.5v8.8h-2.5zM901.5 257.8h2v15.8h-2zM904.5 261.5h2v20.8h-2zM911.5 261.5h3v18.4h-3zM920.5 261.0h2v22.4h-2zM929.5 258.3h2v13.2h-2zM932.5 258.5h1.8v17.5h-1.8zM933.5 260.4h2.5v15.9h-2.5zM934.5 267.2h2.5v14.5h-2.5zM939.5 267.5h1.8v22.6h-1.8zM941.5 268.8h2.5v11.6h-2.5zM945.5 269.2h1.8v18.8h-1.8zM946.5 268.3h3v22.1h-3zM951.5 267.5h2v7.2h-2zM953.5 268.1h2v11.7h-2zM955.5 268.6h2v13.3h-2zM959.5 268.6h3v13.6h-3zM965.5 266.3h1.8v18.2h-1.8zM966.5 267.3h1.8v18.5h-1.8zM967.5 268.0h1.8v21.3h-1.8zM979.5 267.0h3v17.1h-3zM981.5 268.7h1.8v22.4h-1.8zM982.5 267.6h2v22.8h-2zM986.5 267.0h2v8.1h-2zM988.5 267.3h2v8.6h-2zM992.5 266.7h1.8v20.8h-1.8zM1005.5 267.8h2v4.8h-2zM1008.5 266.1h1.8v8.6h-1.8zM1010.5 268.0h1.8v5.4h-1.8zM1011.5 266.7h3v5.8h-3zM1024.5 267.7h2.5v5.7h-2.5zM1026.5 267.0h2.5v20.4h-2.5zM1028.5 267.3h3v17.9h-3zM1034.5 267.3h3v17.0h-3zM1038.5 267.8h1.8v5.9h-1.8zM1040.5 266.2h2v14.5h-2zM1042.5 267.8h2.5v9.0h-2.5zM1044.5 267.7h3v19.3h-3zM1046.5 269.5h1.8v11.6h-1.8z"/><path fill="#f7c87f" opacity="0.85" d="M142.0 258.2h1v28.2h-1zM145.0 260.4h1v12.6h-1zM146.0 258.3h0.8v19.2h-0.8zM174.0 258.6h1v10.3h-1zM175.0 261.7h0.8v15.6h-0.8zM177.0 261.2h1.5v14.4h-1.5zM180.0 260.4h2v11.0h-2zM182.0 261.0h1.5v7.2h-1.5zM189.0 260.6h1v17.3h-1zM193.0 260.4h1v30.0h-1zM194.0 258.5h1v27.7h-1zM195.0 257.9h1.5v3.8h-1.5zM217.0 258.5h1.5v8.3h-1.5zM265.0 260.8h1v6.1h-1zM284.0 267.6h2v15.6h-2zM291.0 269.2h1v20.1h-1zM300.0 266.1h1v5.9h-1zM302.0 269.3h0.8v15.5h-0.8zM306.0 268.9h0.8v21.5h-0.8zM313.0 265.8h2v20.7h-2zM316.0 266.8h1v4.6h-1zM318.0 267.4h1.5v14.7h-1.5zM319.0 266.7h0.8v24.6h-0.8zM336.0 267.9h1v17.7h-1zM342.0 267.7h1v17.4h-1zM344.0 267.5h1v16.9h-1zM350.0 267.4h1v13.2h-1zM360.0 268.2h2v11.6h-2zM361.0 266.2h1.5v9.2h-1.5zM363.0 269.3h1v21.0h-1zM372.0 265.7h1v11.3h-1zM375.0 266.1h1v19.6h-1zM384.0 266.2h0.8v22.9h-0.8zM388.0 269.7h1v21.1h-1zM392.0 268.0h2v13.9h-2zM394.0 267.0h0.8v5.3h-0.8zM404.0 269.0h1v11.9h-1zM405.0 266.6h1.5v10.5h-1.5zM411.0 268.7h1v14.9h-1zM421.0 268.5h0.8v22.7h-0.8zM422.0 267.5h2v4.7h-2zM426.0 268.2h2v15.5h-2zM427.0 266.8h0.8v20.3h-0.8zM437.0 266.3h0.8v8.3h-0.8zM438.0 267.5h1v17.5h-1zM441.0 269.3h0.8v20.4h-0.8zM450.0 267.1h0.8v9.7h-0.8zM460.0 265.7h1v7.2h-1zM461.0 265.7h1v3.7h-1zM481.0 258.2h1.5v6.1h-1.5zM491.0 257.8h2v5.5h-2zM492.0 258.1h1.5v5.4h-1.5zM504.0 260.9h1.5v9.5h-1.5zM523.0 260.0h1.5v12.2h-1.5zM533.0 261.5h1.5v9.5h-1.5zM544.0 259.2h0.8v10.0h-0.8zM579.0 258.2h2v19.5h-2zM582.0 266.4h2v13.8h-2zM583.0 268.2h1v15.7h-1zM613.0 268.3h1v11.2h-1zM618.0 265.9h1.5v9.1h-1.5zM633.0 266.9h0.8v7.8h-0.8zM639.0 266.0h0.8v21.1h-0.8zM669.0 266.4h1v12.8h-1zM672.0 265.9h1v20.0h-1zM674.0 267.4h2v4.3h-2zM676.0 267.3h1v6.2h-1zM689.0 268.2h2v9.1h-2zM694.0 267.7h1v12.8h-1zM697.0 266.4h1v9.2h-1zM699.0 266.0h1v15.1h-1zM700.0 269.7h2v17.0h-2zM702.0 267.0h1.5v18.2h-1.5zM722.0 261.3h1v7.9h-1zM725.0 258.6h1v7.9h-1zM731.0 260.2h1v13.7h-1zM734.0 260.4h1.5v5.3h-1.5zM735.0 258.7h2v8.2h-2zM746.0 259.1h1v11.1h-1zM779.0 259.8h1v3.9h-1zM782.0 257.9h2v13.2h-2zM860.0 260.3h1v18.0h-1zM863.0 260.9h0.8v19.7h-0.8zM868.0 259.0h1v5.3h-1zM872.0 259.1h1v5.0h-1zM877.0 261.6h0.8v11.1h-0.8zM885.0 260.1h2v16.3h-2zM889.0 259.1h1.5v4.2h-1.5zM902.0 257.8h1v14.8h-1zM905.0 261.5h1v19.8h-1zM933.0 258.5h0.8v16.5h-0.8zM934.0 260.4h1.5v14.9h-1.5zM940.0 267.5h0.8v21.6h-0.8zM942.0 268.8h1.5v10.6h-1.5zM946.0 269.2h0.8v17.8h-0.8zM947.0 268.3h2v21.1h-2zM952.0 267.5h1v6.2h-1zM954.0 268.1h1v10.7h-1zM960.0 268.6h2v12.6h-2zM967.0 267.3h0.8v17.5h-0.8zM983.0 267.6h1v21.8h-1zM987.0 267.0h1v7.1h-1zM989.0 267.3h1v7.6h-1zM1012.0 266.7h2v4.8h-2zM1027.0 267.0h1.5v19.4h-1.5zM1029.0 267.3h2v16.9h-2zM1035.0 267.3h2v16.0h-2zM1045.0 267.7h2v18.3h-2zM1047.0 269.5h0.8v10.6h-0.8z"/><path fill="#8ec3e3" opacity="0.85" d="M143.0 259.1h1v24.0h-1zM179.0 260.1h1v26.1h-1zM185.0 259.7h0.8v9.9h-0.8zM187.0 259.8h1v20.6h-1zM197.0 257.7h0.8v26.8h-0.8zM263.0 260.6h0.8v16.4h-0.8zM270.0 261.4h1v23.5h-1zM271.0 260.2h0.8v15.5h-0.8zM278.0 260.0h0.8v3.8h-0.8zM279.0 257.7h1v22.8h-1zM281.0 259.9h1v15.3h-1zM303.0 267.2h2v10.6h-2zM312.0 266.5h0.8v18.5h-0.8zM321.0 268.7h1v22.9h-1zM335.0 267.3h1v5.5h-1zM339.0 269.2h1.5v22.6h-1.5zM352.0 266.1h1v16.3h-1zM362.0 269.4h1.5v15.0h-1.5zM376.0 268.9h0.8v10.9h-0.8zM389.0 266.9h1.5v4.8h-1.5zM402.0 265.9h1v15.4h-1zM443.0 269.4h1v22.7h-1zM453.0 268.6h1v18.8h-1zM462.0 269.5h1.5v4.4h-1.5zM485.0 261.5h1.5v8.3h-1.5zM541.0 260.3h0.8v18.2h-0.8zM552.0 260.4h0.8v15.2h-0.8zM590.0 268.5h0.8v18.2h-0.8zM599.0 267.8h1.5v10.9h-1.5zM603.0 268.6h0.8v3.5h-0.8zM604.0 269.4h1v9.9h-1zM619.0 266.1h1.5v4.1h-1.5zM641.0 267.6h1v9.0h-1zM648.0 267.2h0.8v11.1h-0.8zM677.0 269.1h2v21.4h-2zM685.0 266.0h2v4.8h-2zM690.0 267.8h1v7.4h-1zM703.0 265.9h0.8v9.8h-0.8zM723.0 258.0h1.5v6.0h-1.5zM752.0 261.1h2v16.5h-2zM786.0 261.1h0.8v5.1h-0.8zM878.0 260.4h0.8v19.1h-0.8zM891.0 258.5h1.5v7.8h-1.5zM912.0 261.5h2v17.4h-2zM921.0 261.0h1v21.4h-1zM930.0 258.3h1v12.2h-1zM935.0 267.2h1.5v13.5h-1.5zM956.0 268.6h1v12.3h-1zM966.0 266.3h0.8v17.2h-0.8zM968.0 268.0h0.8v20.3h-0.8zM980.0 267.0h2v16.1h-2zM982.0 268.7h0.8v21.4h-0.8zM993.0 266.7h0.8v19.8h-0.8zM1006.0 267.8h1v3.8h-1zM1009.0 266.1h0.8v7.6h-0.8zM1011.0 268.0h0.8v4.4h-0.8zM1025.0 267.7h1.5v4.7h-1.5zM1039.0 267.8h0.8v4.9h-0.8zM1041.0 266.2h1v13.5h-1zM1043.0 267.8h1.5v8.0h-1.5z"/><rect x="455.00" y="236.00" width="1.00" height="24.00" fill="#3a3630"/><rect x="136.50" y="351.20" width="956.50" height="17.20" fill="#1b1516"/><rect x="137.00" y="352.00" width="955.50" height="15.60" fill="#a3dcf7"/><rect x="137.00" y="353.60" width="955.50" height="2.40" fill="#f7c87f"/><path fill="#9bd0ee" opacity="0.95" d="M138.0 367.6h1v0.7h-1zM139.0 367.6h1v11.8h-1zM140.0 367.6h1v20.1h-1zM141.0 367.6h1v12.5h-1zM143.0 367.6h1v7.9h-1zM144.0 367.6h1v11.0h-1zM145.0 367.6h1v0.7h-1zM199.0 367.6h1v1.7h-1zM202.0 367.6h1v6.7h-1zM203.0 367.6h1v3.0h-1zM205.0 367.6h1v2.4h-1zM257.0 367.6h1v12.6h-1zM260.0 367.6h1v5.3h-1zM261.0 367.6h1v14.0h-1zM262.0 367.6h1v8.7h-1zM263.0 367.6h1v4.4h-1zM264.0 367.6h1v6.7h-1zM265.0 367.6h1v12.1h-1zM267.0 367.6h1v3.9h-1zM268.0 367.6h1v3.5h-1zM285.0 367.6h1v4.6h-1zM286.0 367.6h1v2.3h-1zM287.0 367.6h1v5.1h-1zM288.0 367.6h1v11.5h-1zM290.0 367.6h1v6.6h-1zM291.0 367.6h1v9.9h-1zM293.0 367.6h1v9.8h-1zM294.0 367.6h1v13.1h-1zM295.0 367.6h1v4.8h-1zM296.0 367.6h1v8.5h-1zM298.0 367.6h1v0.5h-1zM301.0 367.6h1v3.2h-1zM302.0 367.6h1v0.9h-1zM303.0 367.6h1v4.9h-1zM304.0 367.6h1v6.3h-1zM305.0 367.6h1v2.0h-1zM306.0 367.6h1v3.0h-1zM307.0 367.6h1v21.9h-1zM308.0 367.6h1v2.1h-1zM309.0 367.6h1v13.4h-1zM310.0 367.6h1v3.3h-1zM311.0 367.6h1v10.9h-1zM312.0 367.6h1v16.5h-1zM313.0 367.6h1v1.4h-1zM314.0 367.6h1v14.9h-1zM315.0 367.6h1v8.5h-1zM317.0 367.6h1v10.2h-1zM318.0 367.6h1v8.0h-1zM319.0 367.6h1v6.1h-1zM320.0 367.6h1v10.8h-1zM321.0 367.6h1v19.0h-1zM322.0 367.6h1v2.7h-1zM323.0 367.6h1v2.4h-1zM324.0 367.6h1v11.5h-1zM325.0 367.6h1v11.1h-1zM326.0 367.6h1v1.0h-1zM327.0 367.6h1v14.7h-1zM328.0 367.6h1v2.7h-1zM329.0 367.6h1v14.7h-1zM330.0 367.6h1v1.7h-1zM331.0 367.6h1v13.0h-1zM332.0 367.6h1v0.6h-1zM333.0 367.6h1v16.6h-1zM334.0 367.6h1v7.4h-1zM335.0 367.6h1v1.1h-1zM336.0 367.6h1v2.1h-1zM337.0 367.6h1v1.6h-1zM346.0 367.6h1v19.3h-1zM347.0 367.6h1v1.5h-1zM348.0 367.6h1v8.5h-1zM349.0 367.6h1v7.8h-1zM350.0 367.6h1v5.3h-1zM351.0 367.6h1v9.3h-1zM353.0 367.6h1v10.9h-1zM354.0 367.6h1v2.8h-1zM355.0 367.6h1v16.7h-1zM356.0 367.6h1v0.6h-1zM357.0 367.6h1v11.2h-1zM359.0 367.6h1v4.6h-1zM360.0 367.6h1v6.5h-1zM361.0 367.6h1v2.9h-1zM362.0 367.6h1v6.3h-1zM363.0 367.6h1v12.0h-1zM364.0 367.6h1v4.0h-1zM365.0 367.6h1v7.1h-1zM366.0 367.6h1v6.1h-1zM367.0 367.6h1v14.9h-1zM369.0 367.6h1v4.1h-1zM370.0 367.6h1v20.7h-1zM371.0 367.6h1v15.0h-1zM372.0 367.6h1v3.6h-1zM373.0 367.6h1v0.6h-1zM374.0 367.6h1v2.4h-1zM375.0 367.6h1v3.9h-1zM376.0 367.6h1v13.0h-1zM377.0 367.6h1v16.6h-1zM378.0 367.6h1v9.4h-1zM379.0 367.6h1v6.7h-1zM380.0 367.6h1v4.3h-1zM381.0 367.6h1v11.3h-1zM382.0 367.6h1v3.8h-1zM383.0 367.6h1v21.2h-1zM384.0 367.6h1v0.6h-1zM385.0 367.6h1v0.9h-1zM386.0 367.6h1v18.4h-1zM387.0 367.6h1v10.4h-1zM388.0 367.6h1v8.2h-1zM389.0 367.6h1v2.0h-1zM390.0 367.6h1v8.2h-1zM391.0 367.6h1v1.1h-1zM392.0 367.6h1v2.1h-1zM393.0 367.6h1v14.6h-1zM394.0 367.6h1v5.1h-1zM395.0 367.6h1v1.3h-1zM396.0 367.6h1v12.6h-1zM397.0 367.6h1v2.2h-1zM399.0 367.6h1v4.7h-1zM400.0 367.6h1v12.6h-1zM401.0 367.6h1v5.3h-1zM402.0 367.6h1v5.4h-1zM403.0 367.6h1v10.9h-1zM404.0 367.6h1v0.8h-1zM405.0 367.6h1v4.6h-1zM406.0 367.6h1v4.5h-1zM407.0 367.6h1v10.8h-1zM408.0 367.6h1v7.1h-1zM409.0 367.6h1v6.2h-1zM410.0 367.6h1v6.3h-1zM411.0 367.6h1v13.1h-1zM412.0 367.6h1v2.6h-1zM413.0 367.6h1v2.4h-1zM414.0 367.6h1v10.0h-1zM415.0 367.6h1v13.3h-1zM416.0 367.6h1v4.4h-1zM417.0 367.6h1v12.9h-1zM418.0 367.6h1v24.2h-1zM419.0 367.6h1v1.0h-1zM420.0 367.6h1v11.3h-1zM421.0 367.6h1v7.8h-1zM422.0 367.6h1v0.8h-1zM423.0 367.6h1v13.8h-1zM424.0 367.6h1v21.8h-1zM425.0 367.6h1v6.9h-1zM426.0 367.6h1v21.9h-1zM428.0 367.6h1v12.5h-1zM429.0 367.6h1v1.8h-1zM430.0 367.6h1v6.4h-1zM431.0 367.6h1v6.2h-1zM432.0 367.6h1v15.0h-1zM433.0 367.6h1v7.3h-1zM434.0 367.6h1v2.8h-1zM435.0 367.6h1v10.6h-1zM436.0 367.6h1v10.5h-1zM437.0 367.6h1v19.4h-1zM438.0 367.6h1v7.1h-1zM439.0 367.6h1v1.0h-1zM440.0 367.6h1v11.8h-1zM441.0 367.6h1v10.5h-1zM442.0 367.6h1v2.0h-1zM443.0 367.6h1v20.5h-1zM444.0 367.6h1v15.4h-1zM445.0 367.6h1v4.1h-1zM446.0 367.6h1v3.3h-1zM447.0 367.6h1v9.2h-1zM448.0 367.6h1v9.8h-1zM449.0 367.6h1v11.5h-1zM451.0 367.6h1v9.9h-1zM452.0 367.6h1v2.0h-1zM453.0 367.6h1v7.7h-1zM454.0 367.6h1v15.4h-1zM455.0 367.6h1v10.8h-1zM456.0 367.6h1v12.8h-1zM457.0 367.6h1v14.4h-1zM458.0 367.6h1v8.1h-1zM459.0 367.6h1v6.8h-1zM460.0 367.6h1v16.5h-1zM461.0 367.6h1v4.4h-1zM462.0 367.6h1v13.7h-1zM463.0 367.6h1v1.9h-1zM464.0 367.6h1v6.7h-1zM474.0 367.6h1v8.1h-1zM475.0 367.6h1v9.0h-1zM476.0 367.6h1v1.1h-1zM477.0 367.6h1v6.6h-1zM478.0 367.6h1v9.9h-1zM479.0 367.6h1v2.4h-1zM480.0 367.6h1v3.8h-1zM481.0 367.6h1v15.5h-1zM482.0 367.6h1v12.7h-1zM483.0 367.6h1v10.0h-1zM484.0 367.6h1v14.2h-1zM486.0 367.6h1v4.9h-1zM487.0 367.6h1v8.5h-1zM488.0 367.6h1v3.6h-1zM489.0 367.6h1v3.7h-1zM491.0 367.6h1v9.1h-1zM492.0 367.6h1v1.9h-1zM493.0 367.6h1v6.6h-1zM494.0 367.6h1v2.2h-1zM495.0 367.6h1v1.1h-1zM496.0 367.6h1v1.8h-1zM497.0 367.6h1v5.8h-1zM499.0 367.6h1v1.3h-1zM500.0 367.6h1v4.8h-1zM501.0 367.6h1v3.4h-1zM502.0 367.6h1v11.9h-1zM503.0 367.6h1v8.3h-1zM504.0 367.6h1v6.6h-1zM505.0 367.6h1v5.7h-1zM506.0 367.6h1v8.5h-1zM518.0 367.6h1v6.6h-1zM520.0 367.6h1v3.7h-1zM521.0 367.6h1v0.8h-1zM522.0 367.6h1v3.6h-1zM523.0 367.6h1v14.6h-1zM526.0 367.6h1v8.7h-1zM527.0 367.6h1v4.2h-1zM529.0 367.6h1v7.6h-1zM530.0 367.6h1v5.1h-1zM531.0 367.6h1v13.9h-1zM532.0 367.6h1v8.1h-1zM533.0 367.6h1v6.5h-1zM534.0 367.6h1v2.2h-1zM536.0 367.6h1v17.1h-1zM537.0 367.6h1v9.6h-1zM549.0 367.6h1v13.8h-1zM551.0 367.6h1v4.0h-1zM552.0 367.6h1v1.8h-1zM553.0 367.6h1v5.7h-1zM578.0 367.6h1v7.4h-1zM579.0 367.6h1v3.8h-1zM580.0 367.6h1v1.0h-1zM581.0 367.6h1v7.5h-1zM582.0 367.6h1v11.0h-1zM583.0 367.6h1v0.7h-1zM584.0 367.6h1v5.4h-1zM585.0 367.6h1v10.1h-1zM586.0 367.6h1v7.7h-1zM587.0 367.6h1v11.9h-1zM588.0 367.6h1v6.3h-1zM589.0 367.6h1v6.1h-1zM590.0 367.6h1v8.3h-1zM591.0 367.6h1v3.7h-1zM592.0 367.6h1v18.8h-1zM593.0 367.6h1v9.1h-1zM594.0 367.6h1v14.2h-1zM595.0 367.6h1v2.2h-1zM596.0 367.6h1v5.9h-1zM597.0 367.6h1v9.8h-1zM598.0 367.6h1v6.5h-1zM599.0 367.6h1v2.6h-1zM601.0 367.6h1v5.8h-1zM602.0 367.6h1v7.6h-1zM603.0 367.6h1v13.5h-1zM604.0 367.6h1v9.3h-1zM605.0 367.6h1v2.0h-1zM606.0 367.6h1v0.7h-1zM607.0 367.6h1v4.3h-1zM608.0 367.6h1v3.6h-1zM609.0 367.6h1v15.4h-1zM610.0 367.6h1v13.1h-1zM611.0 367.6h1v12.6h-1zM612.0 367.6h1v8.4h-1zM613.0 367.6h1v14.9h-1zM614.0 367.6h1v11.7h-1zM616.0 367.6h1v5.1h-1zM617.0 367.6h1v8.6h-1zM618.0 367.6h1v5.3h-1zM619.0 367.6h1v11.1h-1zM620.0 367.6h1v14.3h-1zM621.0 367.6h1v6.4h-1zM622.0 367.6h1v10.8h-1zM623.0 367.6h1v14.4h-1zM625.0 367.6h1v15.5h-1zM626.0 367.6h1v6.8h-1zM627.0 367.6h1v8.5h-1zM628.0 367.6h1v5.1h-1zM629.0 367.6h1v3.5h-1zM630.0 367.6h1v11.3h-1zM631.0 367.6h1v6.0h-1zM632.0 367.6h1v1.4h-1zM634.0 367.6h1v2.5h-1zM635.0 367.6h1v11.2h-1zM636.0 367.6h1v2.0h-1zM638.0 367.6h1v10.1h-1zM639.0 367.6h1v1.1h-1zM640.0 367.6h1v7.2h-1zM641.0 367.6h1v2.4h-1zM642.0 367.6h1v10.1h-1zM643.0 367.6h1v11.8h-1zM644.0 367.6h1v10.4h-1zM645.0 367.6h1v7.8h-1zM646.0 367.6h1v8.4h-1zM647.0 367.6h1v0.8h-1zM648.0 367.6h1v10.9h-1zM649.0 367.6h1v1.5h-1zM651.0 367.6h1v8.3h-1zM652.0 367.6h1v5.9h-1zM653.0 367.6h1v3.5h-1zM654.0 367.6h1v18.0h-1zM655.0 367.6h1v4.1h-1zM656.0 367.6h1v19.4h-1zM657.0 367.6h1v7.1h-1zM658.0 367.6h1v15.1h-1zM659.0 367.6h1v13.3h-1zM660.0 367.6h1v13.0h-1zM662.0 367.6h1v12.5h-1zM663.0 367.6h1v0.7h-1zM664.0 367.6h1v1.2h-1zM665.0 367.6h1v8.4h-1zM666.0 367.6h1v2.6h-1zM667.0 367.6h1v6.9h-1zM668.0 367.6h1v1.1h-1zM669.0 367.6h1v7.1h-1zM670.0 367.6h1v9.4h-1zM671.0 367.6h1v2.9h-1zM672.0 367.6h1v3.8h-1zM673.0 367.6h1v11.8h-1zM675.0 367.6h1v10.2h-1zM676.0 367.6h1v6.5h-1zM677.0 367.6h1v8.6h-1zM678.0 367.6h1v13.6h-1zM679.0 367.6h1v12.3h-1zM680.0 367.6h1v3.1h-1zM681.0 367.6h1v10.8h-1zM682.0 367.6h1v2.0h-1zM683.0 367.6h1v9.9h-1zM684.0 367.6h1v1.0h-1zM685.0 367.6h1v14.7h-1zM686.0 367.6h1v7.8h-1zM687.0 367.6h1v8.8h-1zM688.0 367.6h1v2.7h-1zM689.0 367.6h1v4.7h-1zM690.0 367.6h1v16.9h-1zM691.0 367.6h1v1.7h-1zM692.0 367.6h1v6.8h-1zM693.0 367.6h1v2.2h-1zM694.0 367.6h1v7.6h-1zM695.0 367.6h1v2.4h-1zM696.0 367.6h1v4.4h-1zM697.0 367.6h1v2.6h-1zM698.0 367.6h1v0.7h-1zM699.0 367.6h1v11.0h-1zM700.0 367.6h1v0.7h-1zM701.0 367.6h1v12.8h-1zM702.0 367.6h1v2.2h-1zM703.0 367.6h1v10.7h-1zM704.0 367.6h1v4.7h-1zM722.0 367.6h1v1.8h-1zM723.0 367.6h1v5.7h-1zM724.0 367.6h1v2.0h-1zM725.0 367.6h1v2.2h-1zM726.0 367.6h1v13.9h-1zM727.0 367.6h1v4.3h-1zM728.0 367.6h1v4.6h-1zM729.0 367.6h1v1.2h-1zM730.0 367.6h1v0.9h-1zM732.0 367.6h1v0.9h-1zM734.0 367.6h1v0.5h-1zM735.0 367.6h1v4.7h-1zM736.0 367.6h1v10.5h-1zM737.0 367.6h1v4.9h-1zM738.0 367.6h1v0.9h-1zM740.0 367.6h1v12.3h-1zM741.0 367.6h1v1.8h-1zM744.0 367.6h1v5.1h-1zM746.0 367.6h1v10.3h-1zM747.0 367.6h1v8.9h-1zM748.0 367.6h1v11.0h-1zM750.0 367.6h1v6.5h-1zM751.0 367.6h1v2.2h-1zM753.0 367.6h1v2.2h-1zM779.0 367.6h1v1.8h-1zM780.0 367.6h1v4.2h-1zM782.0 367.6h1v1.1h-1zM783.0 367.6h1v1.8h-1zM785.0 367.6h1v1.1h-1zM786.0 367.6h1v3.9h-1zM823.0 367.6h1v4.2h-1zM824.0 367.6h1v2.6h-1zM825.0 367.6h1v3.0h-1zM826.0 367.6h1v5.2h-1zM860.0 367.6h1v3.6h-1zM863.0 367.6h1v3.6h-1zM866.0 367.6h1v1.7h-1zM868.0 367.6h1v5.1h-1zM869.0 367.6h1v1.1h-1zM870.0 367.6h1v1.2h-1zM872.0 367.6h1v3.8h-1zM875.0 367.6h1v6.1h-1zM879.0 367.6h1v1.2h-1zM882.0 367.6h1v2.1h-1zM897.0 367.6h1v4.8h-1zM900.0 367.6h1v4.7h-1zM901.0 367.6h1v5.1h-1zM902.0 367.6h1v5.3h-1zM905.0 367.6h1v4.1h-1zM906.0 367.6h1v8.2h-1zM907.0 367.6h1v11.0h-1zM908.0 367.6h1v6.1h-1zM909.0 367.6h1v4.7h-1zM910.0 367.6h1v4.4h-1zM914.0 367.6h1v4.9h-1zM915.0 367.6h1v2.1h-1zM916.0 367.6h1v3.9h-1zM917.0 367.6h1v2.0h-1zM919.0 367.6h1v8.1h-1zM931.0 367.6h1v7.1h-1zM932.0 367.6h1v1.8h-1zM933.0 367.6h1v4.7h-1zM934.0 367.6h1v9.9h-1zM935.0 367.6h1v8.6h-1zM936.0 367.6h1v5.4h-1zM937.0 367.6h1v4.2h-1zM938.0 367.6h1v3.9h-1zM939.0 367.6h1v1.8h-1zM940.0 367.6h1v6.6h-1zM941.0 367.6h1v5.8h-1zM942.0 367.6h1v4.3h-1zM943.0 367.6h1v2.5h-1zM944.0 367.6h1v7.4h-1zM945.0 367.6h1v2.1h-1zM946.0 367.6h1v4.6h-1zM947.0 367.6h1v9.9h-1zM948.0 367.6h1v0.8h-1zM949.0 367.6h1v5.1h-1zM952.0 367.6h1v16.2h-1zM953.0 367.6h1v8.0h-1zM954.0 367.6h1v3.6h-1zM955.0 367.6h1v1.0h-1zM956.0 367.6h1v14.7h-1zM957.0 367.6h1v2.4h-1zM958.0 367.6h1v2.1h-1zM959.0 367.6h1v4.4h-1zM960.0 367.6h1v5.9h-1zM961.0 367.6h1v3.2h-1zM962.0 367.6h1v3.7h-1zM963.0 367.6h1v8.5h-1zM964.0 367.6h1v16.0h-1zM965.0 367.6h1v12.8h-1zM966.0 367.6h1v5.8h-1zM967.0 367.6h1v5.0h-1zM968.0 367.6h1v10.1h-1zM969.0 367.6h1v11.3h-1zM970.0 367.6h1v7.2h-1zM971.0 367.6h1v14.0h-1zM972.0 367.6h1v0.8h-1zM973.0 367.6h1v5.7h-1zM974.0 367.6h1v0.7h-1zM976.0 367.6h1v16.9h-1zM977.0 367.6h1v4.6h-1zM978.0 367.6h1v9.6h-1zM979.0 367.6h1v7.4h-1zM980.0 367.6h1v12.0h-1zM981.0 367.6h1v10.6h-1zM982.0 367.6h1v0.9h-1zM983.0 367.6h1v6.2h-1zM984.0 367.6h1v7.8h-1zM985.0 367.6h1v3.1h-1zM986.0 367.6h1v3.7h-1zM987.0 367.6h1v5.9h-1zM988.0 367.6h1v7.6h-1zM989.0 367.6h1v14.0h-1zM990.0 367.6h1v5.8h-1zM991.0 367.6h1v5.3h-1zM992.0 367.6h1v3.2h-1zM993.0 367.6h1v10.2h-1zM994.0 367.6h1v7.3h-1zM995.0 367.6h1v8.3h-1zM996.0 367.6h1v4.9h-1zM997.0 367.6h1v7.0h-1zM998.0 367.6h1v14.0h-1zM999.0 367.6h1v6.8h-1zM1000.0 367.6h1v4.4h-1zM1001.0 367.6h1v13.5h-1zM1002.0 367.6h1v9.7h-1zM1003.0 367.6h1v6.8h-1zM1005.0 367.6h1v17.7h-1zM1006.0 367.6h1v8.8h-1zM1007.0 367.6h1v3.4h-1zM1008.0 367.6h1v6.7h-1zM1011.0 367.6h1v4.1h-1zM1012.0 367.6h1v1.6h-1zM1013.0 367.6h1v1.0h-1zM1014.0 367.6h1v13.5h-1zM1015.0 367.6h1v18.8h-1zM1016.0 367.6h1v18.1h-1zM1018.0 367.6h1v1.0h-1zM1019.0 367.6h1v8.2h-1zM1020.0 367.6h1v12.1h-1zM1021.0 367.6h1v0.8h-1zM1022.0 367.6h1v2.9h-1zM1023.0 367.6h1v9.5h-1zM1024.0 367.6h1v3.1h-1zM1025.0 367.6h1v13.6h-1zM1026.0 367.6h1v12.0h-1zM1027.0 367.6h1v2.6h-1zM1028.0 367.6h1v4.7h-1zM1029.0 367.6h1v4.5h-1zM1031.0 367.6h1v1.3h-1zM1032.0 367.6h1v6.0h-1zM1033.0 367.6h1v11.1h-1zM1034.0 367.6h1v1.3h-1zM1035.0 367.6h1v12.9h-1zM1036.0 367.6h1v6.5h-1zM1037.0 367.6h1v0.9h-1zM1038.0 367.6h1v3.1h-1zM1039.0 367.6h1v3.7h-1zM1040.0 367.6h1v10.1h-1zM1041.0 367.6h1v11.4h-1zM1042.0 367.6h1v0.8h-1zM1043.0 367.6h1v6.4h-1zM1044.0 367.6h1v1.6h-1zM1045.0 367.6h1v2.5h-1zM1046.0 367.6h1v6.5h-1z"/><path fill="#1d1b1c" opacity="0.6" d="M137.7 368.3h1.3v0.9h-1.3zM138.7 379.4h1.3v0.9h-1.3zM139.7 387.7h1.3v0.9h-1.3zM140.7 380.1h1.3v0.9h-1.3zM142.7 375.5h1.3v0.9h-1.3zM143.7 378.6h1.3v0.9h-1.3zM144.7 368.3h1.3v0.9h-1.3zM198.7 369.3h1.3v0.9h-1.3zM201.7 374.3h1.3v0.9h-1.3zM202.7 370.6h1.3v0.9h-1.3zM204.7 370.0h1.3v0.9h-1.3zM256.7 380.2h1.3v0.9h-1.3zM259.7 372.9h1.3v0.9h-1.3zM260.7 381.6h1.3v0.9h-1.3zM261.7 376.3h1.3v0.9h-1.3zM262.7 372.0h1.3v0.9h-1.3zM263.7 374.3h1.3v0.9h-1.3zM264.7 379.7h1.3v0.9h-1.3zM266.7 371.5h1.3v0.9h-1.3zM267.7 371.1h1.3v0.9h-1.3zM284.7 372.2h1.3v0.9h-1.3zM285.7 369.9h1.3v0.9h-1.3zM286.7 372.7h1.3v0.9h-1.3zM287.7 379.1h1.3v0.9h-1.3zM289.7 374.2h1.3v0.9h-1.3zM290.7 377.5h1.3v0.9h-1.3zM292.7 377.4h1.3v0.9h-1.3zM293.7 380.7h1.3v0.9h-1.3zM294.7 372.4h1.3v0.9h-1.3zM295.7 376.1h1.3v0.9h-1.3zM297.7 368.1h1.3v0.9h-1.3zM300.7 370.8h1.3v0.9h-1.3zM301.7 368.5h1.3v0.9h-1.3zM302.7 372.5h1.3v0.9h-1.3zM303.7 373.9h1.3v0.9h-1.3zM304.7 369.6h1.3v0.9h-1.3zM305.7 370.6h1.3v0.9h-1.3zM306.7 389.5h1.3v0.9h-1.3zM307.7 369.7h1.3v0.9h-1.3zM308.7 381.0h1.3v0.9h-1.3zM309.7 370.9h1.3v0.9h-1.3zM310.7 378.5h1.3v0.9h-1.3zM311.7 384.1h1.3v0.9h-1.3zM312.7 369.0h1.3v0.9h-1.3zM313.7 382.5h1.3v0.9h-1.3zM314.7 376.1h1.3v0.9h-1.3zM316.7 377.8h1.3v0.9h-1.3zM317.7 375.6h1.3v0.9h-1.3zM318.7 373.7h1.3v0.9h-1.3zM319.7 378.4h1.3v0.9h-1.3zM320.7 386.6h1.3v0.9h-1.3zM321.7 370.3h1.3v0.9h-1.3zM322.7 370.0h1.3v0.9h-1.3zM323.7 379.1h1.3v0.9h-1.3zM324.7 378.7h1.3v0.9h-1.3zM325.7 368.6h1.3v0.9h-1.3zM326.7 382.3h1.3v0.9h-1.3zM327.7 370.3h1.3v0.9h-1.3zM328.7 382.3h1.3v0.9h-1.3zM329.7 369.3h1.3v0.9h-1.3zM330.7 380.6h1.3v0.9h-1.3zM331.7 368.2h1.3v0.9h-1.3zM332.7 384.2h1.3v0.9h-1.3zM333.7 375.0h1.3v0.9h-1.3zM334.7 368.7h1.3v0.9h-1.3zM335.7 369.7h1.3v0.9h-1.3zM336.7 369.2h1.3v0.9h-1.3zM345.7 386.9h1.3v0.9h-1.3zM346.7 369.1h1.3v0.9h-1.3zM347.7 376.1h1.3v0.9h-1.3zM348.7 375.4h1.3v0.9h-1.3zM349.7 372.9h1.3v0.9h-1.3zM350.7 376.9h1.3v0.9h-1.3zM352.7 378.5h1.3v0.9h-1.3zM353.7 370.4h1.3v0.9h-1.3zM354.7 384.3h1.3v0.9h-1.3zM355.7 368.2h1.3v0.9h-1.3zM356.7 378.8h1.3v0.9h-1.3zM358.7 372.2h1.3v0.9h-1.3zM359.7 374.1h1.3v0.9h-1.3zM360.7 370.5h1.3v0.9h-1.3zM361.7 373.9h1.3v0.9h-1.3zM362.7 379.6h1.3v0.9h-1.3zM363.7 371.6h1.3v0.9h-1.3zM364.7 374.7h1.3v0.9h-1.3zM365.7 373.7h1.3v0.9h-1.3zM366.7 382.5h1.3v0.9h-1.3zM368.7 371.7h1.3v0.9h-1.3zM369.7 388.3h1.3v0.9h-1.3zM370.7 382.6h1.3v0.9h-1.3zM371.7 371.2h1.3v0.9h-1.3zM372.7 368.2h1.3v0.9h-1.3zM373.7 370.0h1.3v0.9h-1.3zM374.7 371.5h1.3v0.9h-1.3zM375.7 380.6h1.3v0.9h-1.3zM376.7 384.2h1.3v0.9h-1.3zM377.7 377.0h1.3v0.9h-1.3zM378.7 374.3h1.3v0.9h-1.3zM379.7 371.9h1.3v0.9h-1.3zM380.7 378.9h1.3v0.9h-1.3zM381.7 371.4h1.3v0.9h-1.3zM382.7 388.8h1.3v0.9h-1.3zM383.7 368.2h1.3v0.9h-1.3zM384.7 368.5h1.3v0.9h-1.3zM385.7 386.0h1.3v0.9h-1.3zM386.7 378.0h1.3v0.9h-1.3zM387.7 375.8h1.3v0.9h-1.3zM388.7 369.6h1.3v0.9h-1.3zM389.7 375.8h1.3v0.9h-1.3zM390.7 368.7h1.3v0.9h-1.3zM391.7 369.7h1.3v0.9h-1.3zM392.7 382.2h1.3v0.9h-1.3zM393.7 372.7h1.3v0.9h-1.3zM394.7 368.9h1.3v0.9h-1.3zM395.7 380.2h1.3v0.9h-1.3zM396.7 369.8h1.3v0.9h-1.3zM398.7 372.3h1.3v0.9h-1.3zM399.7 380.2h1.3v0.9h-1.3zM400.7 372.9h1.3v0.9h-1.3zM401.7 373.0h1.3v0.9h-1.3zM402.7 378.5h1.3v0.9h-1.3zM403.7 368.4h1.3v0.9h-1.3zM404.7 372.2h1.3v0.9h-1.3zM405.7 372.1h1.3v0.9h-1.3zM406.7 378.4h1.3v0.9h-1.3zM407.7 374.7h1.3v0.9h-1.3zM408.7 373.8h1.3v0.9h-1.3zM409.7 373.9h1.3v0.9h-1.3zM410.7 380.7h1.3v0.9h-1.3zM411.7 370.2h1.3v0.9h-1.3zM412.7 370.0h1.3v0.9h-1.3zM413.7 377.6h1.3v0.9h-1.3zM414.7 380.9h1.3v0.9h-1.3zM415.7 372.0h1.3v0.9h-1.3zM416.7 380.5h1.3v0.9h-1.3zM417.7 391.8h1.3v0.9h-1.3zM418.7 368.6h1.3v0.9h-1.3zM419.7 378.9h1.3v0.9h-1.3zM420.7 375.4h1.3v0.9h-1.3zM421.7 368.4h1.3v0.9h-1.3zM422.7 381.4h1.3v0.9h-1.3zM423.7 389.4h1.3v0.9h-1.3zM424.7 374.5h1.3v0.9h-1.3zM425.7 389.5h1.3v0.9h-1.3zM427.7 380.1h1.3v0.9h-1.3zM428.7 369.4h1.3v0.9h-1.3zM429.7 374.0h1.3v0.9h-1.3zM430.7 373.8h1.3v0.9h-1.3zM431.7 382.6h1.3v0.9h-1.3zM432.7 374.9h1.3v0.9h-1.3zM433.7 370.4h1.3v0.9h-1.3zM434.7 378.2h1.3v0.9h-1.3zM435.7 378.1h1.3v0.9h-1.3zM436.7 387.0h1.3v0.9h-1.3zM437.7 374.7h1.3v0.9h-1.3zM438.7 368.6h1.3v0.9h-1.3zM439.7 379.4h1.3v0.9h-1.3zM440.7 378.1h1.3v0.9h-1.3zM441.7 369.6h1.3v0.9h-1.3zM442.7 388.1h1.3v0.9h-1.3zM443.7 383.0h1.3v0.9h-1.3zM444.7 371.7h1.3v0.9h-1.3zM445.7 370.9h1.3v0.9h-1.3zM446.7 376.8h1.3v0.9h-1.3zM447.7 377.4h1.3v0.9h-1.3zM448.7 379.1h1.3v0.9h-1.3zM450.7 377.5h1.3v0.9h-1.3zM451.7 369.6h1.3v0.9h-1.3zM452.7 375.3h1.3v0.9h-1.3zM453.7 383.0h1.3v0.9h-1.3zM454.7 378.4h1.3v0.9h-1.3zM455.7 380.4h1.3v0.9h-1.3zM456.7 382.0h1.3v0.9h-1.3zM457.7 375.7h1.3v0.9h-1.3zM458.7 374.4h1.3v0.9h-1.3zM459.7 384.1h1.3v0.9h-1.3zM460.7 372.0h1.3v0.9h-1.3zM461.7 381.3h1.3v0.9h-1.3zM462.7 369.5h1.3v0.9h-1.3zM463.7 374.3h1.3v0.9h-1.3zM473.7 375.7h1.3v0.9h-1.3zM474.7 376.6h1.3v0.9h-1.3zM475.7 368.7h1.3v0.9h-1.3zM476.7 374.2h1.3v0.9h-1.3zM477.7 377.5h1.3v0.9h-1.3zM478.7 370.0h1.3v0.9h-1.3zM479.7 371.4h1.3v0.9h-1.3zM480.7 383.1h1.3v0.9h-1.3zM481.7 380.3h1.3v0.9h-1.3zM482.7 377.6h1.3v0.9h-1.3zM483.7 381.8h1.3v0.9h-1.3zM485.7 372.5h1.3v0.9h-1.3zM486.7 376.1h1.3v0.9h-1.3zM487.7 371.2h1.3v0.9h-1.3zM488.7 371.3h1.3v0.9h-1.3zM490.7 376.7h1.3v0.9h-1.3zM491.7 369.5h1.3v0.9h-1.3zM492.7 374.2h1.3v0.9h-1.3zM493.7 369.8h1.3v0.9h-1.3zM494.7 368.7h1.3v0.9h-1.3zM495.7 369.4h1.3v0.9h-1.3zM496.7 373.4h1.3v0.9h-1.3zM498.7 368.9h1.3v0.9h-1.3zM499.7 372.4h1.3v0.9h-1.3zM500.7 371.0h1.3v0.9h-1.3zM501.7 379.5h1.3v0.9h-1.3zM502.7 375.9h1.3v0.9h-1.3zM503.7 374.2h1.3v0.9h-1.3zM504.7 373.3h1.3v0.9h-1.3zM505.7 376.1h1.3v0.9h-1.3zM517.7 374.2h1.3v0.9h-1.3zM519.7 371.3h1.3v0.9h-1.3zM520.7 368.4h1.3v0.9h-1.3zM521.7 371.2h1.3v0.9h-1.3zM522.7 382.2h1.3v0.9h-1.3zM525.7 376.3h1.3v0.9h-1.3zM526.7 371.8h1.3v0.9h-1.3zM528.7 375.2h1.3v0.9h-1.3zM529.7 372.7h1.3v0.9h-1.3zM530.7 381.5h1.3v0.9h-1.3zM531.7 375.7h1.3v0.9h-1.3zM532.7 374.1h1.3v0.9h-1.3zM533.7 369.8h1.3v0.9h-1.3zM535.7 384.7h1.3v0.9h-1.3zM536.7 377.2h1.3v0.9h-1.3zM548.7 381.4h1.3v0.9h-1.3zM550.7 371.6h1.3v0.9h-1.3zM551.7 369.4h1.3v0.9h-1.3zM552.7 373.3h1.3v0.9h-1.3zM577.7 375.0h1.3v0.9h-1.3zM578.7 371.4h1.3v0.9h-1.3zM579.7 368.6h1.3v0.9h-1.3zM580.7 375.1h1.3v0.9h-1.3zM581.7 378.6h1.3v0.9h-1.3zM582.7 368.3h1.3v0.9h-1.3zM583.7 373.0h1.3v0.9h-1.3zM584.7 377.7h1.3v0.9h-1.3zM585.7 375.3h1.3v0.9h-1.3zM586.7 379.5h1.3v0.9h-1.3zM587.7 373.9h1.3v0.9h-1.3zM588.7 373.7h1.3v0.9h-1.3zM589.7 375.9h1.3v0.9h-1.3zM590.7 371.3h1.3v0.9h-1.3zM591.7 386.4h1.3v0.9h-1.3zM592.7 376.7h1.3v0.9h-1.3zM593.7 381.8h1.3v0.9h-1.3zM594.7 369.8h1.3v0.9h-1.3zM595.7 373.5h1.3v0.9h-1.3zM596.7 377.4h1.3v0.9h-1.3zM597.7 374.1h1.3v0.9h-1.3zM598.7 370.2h1.3v0.9h-1.3zM600.7 373.4h1.3v0.9h-1.3zM601.7 375.2h1.3v0.9h-1.3zM602.7 381.1h1.3v0.9h-1.3zM603.7 376.9h1.3v0.9h-1.3zM604.7 369.6h1.3v0.9h-1.3zM605.7 368.3h1.3v0.9h-1.3zM606.7 371.9h1.3v0.9h-1.3zM607.7 371.2h1.3v0.9h-1.3zM608.7 383.0h1.3v0.9h-1.3zM609.7 380.7h1.3v0.9h-1.3zM610.7 380.2h1.3v0.9h-1.3zM611.7 376.0h1.3v0.9h-1.3zM612.7 382.5h1.3v0.9h-1.3zM613.7 379.3h1.3v0.9h-1.3zM615.7 372.7h1.3v0.9h-1.3zM616.7 376.2h1.3v0.9h-1.3zM617.7 372.9h1.3v0.9h-1.3zM618.7 378.7h1.3v0.9h-1.3zM619.7 381.9h1.3v0.9h-1.3zM620.7 374.0h1.3v0.9h-1.3zM621.7 378.4h1.3v0.9h-1.3zM622.7 382.0h1.3v0.9h-1.3zM624.7 383.1h1.3v0.9h-1.3zM625.7 374.4h1.3v0.9h-1.3zM626.7 376.1h1.3v0.9h-1.3zM627.7 372.7h1.3v0.9h-1.3zM628.7 371.1h1.3v0.9h-1.3zM629.7 378.9h1.3v0.9h-1.3zM630.7 373.6h1.3v0.9h-1.3zM631.7 369.0h1.3v0.9h-1.3zM633.7 370.1h1.3v0.9h-1.3zM634.7 378.8h1.3v0.9h-1.3zM635.7 369.6h1.3v0.9h-1.3zM637.7 377.7h1.3v0.9h-1.3zM638.7 368.7h1.3v0.9h-1.3zM639.7 374.8h1.3v0.9h-1.3zM640.7 370.0h1.3v0.9h-1.3zM641.7 377.7h1.3v0.9h-1.3zM642.7 379.4h1.3v0.9h-1.3zM643.7 378.0h1.3v0.9h-1.3zM644.7 375.4h1.3v0.9h-1.3zM645.7 376.0h1.3v0.9h-1.3zM646.7 368.4h1.3v0.9h-1.3zM647.7 378.5h1.3v0.9h-1.3zM648.7 369.1h1.3v0.9h-1.3zM650.7 375.9h1.3v0.9h-1.3zM651.7 373.5h1.3v0.9h-1.3zM652.7 371.1h1.3v0.9h-1.3zM653.7 385.6h1.3v0.9h-1.3zM654.7 371.7h1.3v0.9h-1.3zM655.7 387.0h1.3v0.9h-1.3zM656.7 374.7h1.3v0.9h-1.3zM657.7 382.7h1.3v0.9h-1.3zM658.7 380.9h1.3v0.9h-1.3zM659.7 380.6h1.3v0.9h-1.3zM661.7 380.1h1.3v0.9h-1.3zM662.7 368.3h1.3v0.9h-1.3zM663.7 368.8h1.3v0.9h-1.3zM664.7 376.0h1.3v0.9h-1.3zM665.7 370.2h1.3v0.9h-1.3zM666.7 374.5h1.3v0.9h-1.3zM667.7 368.7h1.3v0.9h-1.3zM668.7 374.7h1.3v0.9h-1.3zM669.7 377.0h1.3v0.9h-1.3zM670.7 370.5h1.3v0.9h-1.3zM671.7 371.4h1.3v0.9h-1.3zM672.7 379.4h1.3v0.9h-1.3zM674.7 377.8h1.3v0.9h-1.3zM675.7 374.1h1.3v0.9h-1.3zM676.7 376.2h1.3v0.9h-1.3zM677.7 381.2h1.3v0.9h-1.3zM678.7 379.9h1.3v0.9h-1.3zM679.7 370.7h1.3v0.9h-1.3zM680.7 378.4h1.3v0.9h-1.3zM681.7 369.6h1.3v0.9h-1.3zM682.7 377.5h1.3v0.9h-1.3zM683.7 368.6h1.3v0.9h-1.3zM684.7 382.3h1.3v0.9h-1.3zM685.7 375.4h1.3v0.9h-1.3zM686.7 376.4h1.3v0.9h-1.3zM687.7 370.3h1.3v0.9h-1.3zM688.7 372.3h1.3v0.9h-1.3zM689.7 384.5h1.3v0.9h-1.3zM690.7 369.3h1.3v0.9h-1.3zM691.7 374.4h1.3v0.9h-1.3zM692.7 369.8h1.3v0.9h-1.3zM693.7 375.2h1.3v0.9h-1.3zM694.7 370.0h1.3v0.9h-1.3zM695.7 372.0h1.3v0.9h-1.3zM696.7 370.2h1.3v0.9h-1.3zM697.7 368.3h1.3v0.9h-1.3zM698.7 378.6h1.3v0.9h-1.3zM699.7 368.3h1.3v0.9h-1.3zM700.7 380.4h1.3v0.9h-1.3zM701.7 369.8h1.3v0.9h-1.3zM702.7 378.3h1.3v0.9h-1.3zM703.7 372.3h1.3v0.9h-1.3zM721.7 369.4h1.3v0.9h-1.3zM722.7 373.3h1.3v0.9h-1.3zM723.7 369.6h1.3v0.9h-1.3zM724.7 369.8h1.3v0.9h-1.3zM725.7 381.5h1.3v0.9h-1.3zM726.7 371.9h1.3v0.9h-1.3zM727.7 372.2h1.3v0.9h-1.3zM728.7 368.8h1.3v0.9h-1.3zM729.7 368.5h1.3v0.9h-1.3zM731.7 368.5h1.3v0.9h-1.3zM733.7 368.1h1.3v0.9h-1.3zM734.7 372.3h1.3v0.9h-1.3zM735.7 378.1h1.3v0.9h-1.3zM736.7 372.5h1.3v0.9h-1.3zM737.7 368.5h1.3v0.9h-1.3zM739.7 379.9h1.3v0.9h-1.3zM740.7 369.4h1.3v0.9h-1.3zM743.7 372.7h1.3v0.9h-1.3zM745.7 377.9h1.3v0.9h-1.3zM746.7 376.5h1.3v0.9h-1.3zM747.7 378.6h1.3v0.9h-1.3zM749.7 374.1h1.3v0.9h-1.3zM750.7 369.8h1.3v0.9h-1.3zM752.7 369.8h1.3v0.9h-1.3zM778.7 369.4h1.3v0.9h-1.3zM779.7 371.8h1.3v0.9h-1.3zM781.7 368.7h1.3v0.9h-1.3zM782.7 369.4h1.3v0.9h-1.3zM784.7 368.7h1.3v0.9h-1.3zM785.7 371.5h1.3v0.9h-1.3zM822.7 371.8h1.3v0.9h-1.3zM823.7 370.2h1.3v0.9h-1.3zM824.7 370.6h1.3v0.9h-1.3zM825.7 372.8h1.3v0.9h-1.3zM859.7 371.2h1.3v0.9h-1.3zM862.7 371.2h1.3v0.9h-1.3zM865.7 369.3h1.3v0.9h-1.3zM867.7 372.7h1.3v0.9h-1.3zM868.7 368.7h1.3v0.9h-1.3zM869.7 368.8h1.3v0.9h-1.3zM871.7 371.4h1.3v0.9h-1.3zM874.7 373.7h1.3v0.9h-1.3zM878.7 368.8h1.3v0.9h-1.3zM881.7 369.7h1.3v0.9h-1.3zM896.7 372.4h1.3v0.9h-1.3zM899.7 372.3h1.3v0.9h-1.3zM900.7 372.7h1.3v0.9h-1.3zM901.7 372.9h1.3v0.9h-1.3zM904.7 371.7h1.3v0.9h-1.3zM905.7 375.8h1.3v0.9h-1.3zM906.7 378.6h1.3v0.9h-1.3zM907.7 373.7h1.3v0.9h-1.3zM908.7 372.3h1.3v0.9h-1.3zM909.7 372.0h1.3v0.9h-1.3zM913.7 372.5h1.3v0.9h-1.3zM914.7 369.7h1.3v0.9h-1.3zM915.7 371.5h1.3v0.9h-1.3zM916.7 369.6h1.3v0.9h-1.3zM918.7 375.7h1.3v0.9h-1.3zM930.7 374.7h1.3v0.9h-1.3zM931.7 369.4h1.3v0.9h-1.3zM932.7 372.3h1.3v0.9h-1.3zM933.7 377.5h1.3v0.9h-1.3zM934.7 376.2h1.3v0.9h-1.3zM935.7 373.0h1.3v0.9h-1.3zM936.7 371.8h1.3v0.9h-1.3zM937.7 371.5h1.3v0.9h-1.3zM938.7 369.4h1.3v0.9h-1.3zM939.7 374.2h1.3v0.9h-1.3zM940.7 373.4h1.3v0.9h-1.3zM941.7 371.9h1.3v0.9h-1.3zM942.7 370.1h1.3v0.9h-1.3zM943.7 375.0h1.3v0.9h-1.3zM944.7 369.7h1.3v0.9h-1.3zM945.7 372.2h1.3v0.9h-1.3zM946.7 377.5h1.3v0.9h-1.3zM947.7 368.4h1.3v0.9h-1.3zM948.7 372.7h1.3v0.9h-1.3zM951.7 383.8h1.3v0.9h-1.3zM952.7 375.6h1.3v0.9h-1.3zM953.7 371.2h1.3v0.9h-1.3zM954.7 368.6h1.3v0.9h-1.3zM955.7 382.3h1.3v0.9h-1.3zM956.7 370.0h1.3v0.9h-1.3zM957.7 369.7h1.3v0.9h-1.3zM958.7 372.0h1.3v0.9h-1.3zM959.7 373.5h1.3v0.9h-1.3zM960.7 370.8h1.3v0.9h-1.3zM961.7 371.3h1.3v0.9h-1.3zM962.7 376.1h1.3v0.9h-1.3zM963.7 383.6h1.3v0.9h-1.3zM964.7 380.4h1.3v0.9h-1.3zM965.7 373.4h1.3v0.9h-1.3zM966.7 372.6h1.3v0.9h-1.3zM967.7 377.7h1.3v0.9h-1.3zM968.7 378.9h1.3v0.9h-1.3zM969.7 374.8h1.3v0.9h-1.3zM970.7 381.6h1.3v0.9h-1.3zM971.7 368.4h1.3v0.9h-1.3zM972.7 373.3h1.3v0.9h-1.3zM973.7 368.3h1.3v0.9h-1.3zM975.7 384.5h1.3v0.9h-1.3zM976.7 372.2h1.3v0.9h-1.3zM977.7 377.2h1.3v0.9h-1.3zM978.7 375.0h1.3v0.9h-1.3zM979.7 379.6h1.3v0.9h-1.3zM980.7 378.2h1.3v0.9h-1.3zM981.7 368.5h1.3v0.9h-1.3zM982.7 373.8h1.3v0.9h-1.3zM983.7 375.4h1.3v0.9h-1.3zM984.7 370.7h1.3v0.9h-1.3zM985.7 371.3h1.3v0.9h-1.3zM986.7 373.5h1.3v0.9h-1.3zM987.7 375.2h1.3v0.9h-1.3zM988.7 381.6h1.3v0.9h-1.3zM989.7 373.4h1.3v0.9h-1.3zM990.7 372.9h1.3v0.9h-1.3zM991.7 370.8h1.3v0.9h-1.3zM992.7 377.8h1.3v0.9h-1.3zM993.7 374.9h1.3v0.9h-1.3zM994.7 375.9h1.3v0.9h-1.3zM995.7 372.5h1.3v0.9h-1.3zM996.7 374.6h1.3v0.9h-1.3zM997.7 381.6h1.3v0.9h-1.3zM998.7 374.4h1.3v0.9h-1.3zM999.7 372.0h1.3v0.9h-1.3zM1000.7 381.1h1.3v0.9h-1.3zM1001.7 377.3h1.3v0.9h-1.3zM1002.7 374.4h1.3v0.9h-1.3zM1004.7 385.3h1.3v0.9h-1.3zM1005.7 376.4h1.3v0.9h-1.3zM1006.7 371.0h1.3v0.9h-1.3zM1007.7 374.3h1.3v0.9h-1.3zM1010.7 371.7h1.3v0.9h-1.3zM1011.7 369.2h1.3v0.9h-1.3zM1012.7 368.6h1.3v0.9h-1.3zM1013.7 381.1h1.3v0.9h-1.3zM1014.7 386.4h1.3v0.9h-1.3zM1015.7 385.7h1.3v0.9h-1.3zM1017.7 368.6h1.3v0.9h-1.3zM1018.7 375.8h1.3v0.9h-1.3zM1019.7 379.7h1.3v0.9h-1.3zM1020.7 368.4h1.3v0.9h-1.3zM1021.7 370.5h1.3v0.9h-1.3zM1022.7 377.1h1.3v0.9h-1.3zM1023.7 370.7h1.3v0.9h-1.3zM1024.7 381.2h1.3v0.9h-1.3zM1025.7 379.6h1.3v0.9h-1.3zM1026.7 370.2h1.3v0.9h-1.3zM1027.7 372.3h1.3v0.9h-1.3zM1028.7 372.1h1.3v0.9h-1.3zM1030.7 368.9h1.3v0.9h-1.3zM1031.7 373.6h1.3v0.9h-1.3zM1032.7 378.7h1.3v0.9h-1.3zM1033.7 368.9h1.3v0.9h-1.3zM1034.7 380.5h1.3v0.9h-1.3zM1035.7 374.1h1.3v0.9h-1.3zM1036.7 368.5h1.3v0.9h-1.3zM1037.7 370.7h1.3v0.9h-1.3zM1038.7 371.3h1.3v0.9h-1.3zM1039.7 377.7h1.3v0.9h-1.3zM1040.7 379.0h1.3v0.9h-1.3zM1041.7 368.4h1.3v0.9h-1.3zM1042.7 374.0h1.3v0.9h-1.3zM1043.7 369.2h1.3v0.9h-1.3zM1044.7 370.1h1.3v0.9h-1.3zM1045.7 374.1h1.3v0.9h-1.3z"/><path fill="#f7c87f" opacity="0.9" d="M138.0 355.8h1v4.0h-1zM138.0 365.0h1v5.2h-1zM138.0 356.6h1v3.1h-1zM138.0 356.3h1v5.9h-1zM139.0 355.8h1v3.2h-1zM139.0 362.5h1v2.8h-1zM139.0 374.2h1v4.3h-1zM140.0 365.8h1v2.7h-1zM140.0 367.5h1v5.6h-1zM140.0 381.8h1v5.8h-1zM141.0 355.8h1v10.2h-1zM141.0 376.4h1v4.0h-1zM141.0 367.3h1v3.6h-1zM143.0 355.8h1v7.8h-1zM143.0 365.1h1v5.0h-1zM143.0 371.7h1v3.7h-1zM143.0 357.4h1v3.8h-1zM144.0 355.8h1v3.1h-1zM144.0 374.5h1v2.7h-1zM144.0 367.2h1v3.4h-1zM145.0 363.6h1v4.6h-1zM145.0 356.9h1v2.8h-1zM145.0 357.1h1v2.6h-1zM199.0 355.8h1v5.3h-1zM199.0 364.4h1v3.9h-1zM199.0 364.2h1v4.6h-1zM199.0 359.9h1v5.1h-1zM202.0 355.8h1v4.4h-1zM202.0 365.6h1v4.8h-1zM202.0 358.7h1v2.3h-1zM202.0 358.9h1v4.7h-1zM203.0 355.8h1v9.0h-1zM203.0 361.8h1v2.8h-1zM203.0 360.2h1v4.9h-1zM203.0 367.7h1v5.3h-1zM205.0 355.8h1v9.0h-1zM205.0 360.9h1v3.0h-1zM205.0 366.6h1v2.5h-1zM205.0 367.0h1v5.7h-1zM257.0 355.8h1v4.3h-1zM257.0 356.7h1v3.9h-1zM257.0 356.5h1v5.1h-1zM260.0 355.8h1v9.9h-1zM260.0 355.9h1v3.5h-1zM260.0 365.5h1v2.7h-1zM260.0 367.9h1v5.6h-1zM261.0 355.8h1v5.2h-1zM261.0 364.1h1v5.2h-1zM262.0 355.8h1v10.0h-1zM262.0 363.0h1v4.6h-1zM263.0 355.8h1v10.8h-1zM263.0 358.6h1v3.4h-1zM264.0 355.8h1v7.1h-1zM264.0 369.1h1v5.3h-1zM265.0 368.4h1v4.1h-1zM265.0 367.8h1v3.3h-1zM267.0 359.6h1v3.0h-1zM267.0 356.6h1v5.7h-1zM267.0 359.9h1v2.1h-1zM268.0 355.8h1v6.3h-1zM268.0 357.7h1v3.6h-1zM268.0 358.9h1v2.9h-1zM285.0 355.8h1v9.6h-1zM285.0 363.8h1v3.8h-1zM285.0 359.5h1v3.0h-1zM286.0 360.4h1v5.7h-1zM287.0 362.3h1v2.8h-1zM287.0 366.0h1v5.7h-1zM287.0 357.5h1v5.4h-1zM288.0 355.8h1v4.0h-1zM288.0 368.3h1v3.2h-1zM290.0 355.8h1v6.2h-1zM290.0 364.9h1v5.3h-1zM290.0 360.1h1v5.5h-1zM291.0 355.8h1v7.8h-1zM291.0 367.8h1v3.0h-1zM293.0 355.8h1v10.7h-1zM293.0 356.7h1v4.4h-1zM294.0 355.8h1v4.0h-1zM294.0 367.3h1v5.0h-1zM294.0 356.1h1v2.7h-1zM295.0 355.8h1v8.6h-1zM295.0 361.2h1v3.9h-1zM295.0 358.4h1v2.3h-1zM296.0 355.8h1v4.8h-1zM296.0 369.4h1v4.6h-1zM297.0 362.0h1v3.3h-1zM297.0 360.1h1v4.9h-1zM298.0 355.8h1v4.2h-1zM298.0 365.4h1v4.0h-1zM298.0 365.2h1v4.8h-1zM301.0 360.9h1v3.2h-1zM301.0 363.8h1v5.2h-1zM302.0 355.8h1v9.7h-1zM302.0 358.3h1v2.3h-1zM302.0 366.4h1v2.8h-1zM303.0 355.8h1v5.2h-1zM303.0 357.0h1v3.9h-1zM303.0 359.1h1v2.8h-1zM304.0 368.8h1v5.7h-1zM305.0 366.0h1v5.3h-1zM306.0 355.8h1v4.2h-1zM306.0 367.5h1v5.1h-1zM306.0 363.7h1v4.7h-1zM306.0 357.3h1v5.5h-1zM307.0 378.2h1v3.1h-1zM307.0 358.0h1v3.2h-1zM308.0 355.8h1v10.7h-1zM308.0 358.5h1v2.2h-1zM308.0 361.6h1v4.3h-1zM308.0 357.1h1v3.7h-1zM309.0 373.2h1v3.6h-1zM309.0 371.5h1v5.0h-1zM310.0 355.8h1v9.0h-1zM310.0 358.9h1v4.2h-1zM310.0 362.4h1v2.9h-1zM311.0 355.8h1v3.2h-1zM311.0 375.3h1v4.1h-1zM311.0 363.8h1v3.4h-1zM312.0 355.8h1v4.7h-1zM312.0 376.0h1v2.4h-1zM312.0 363.6h1v4.4h-1zM312.0 378.1h1v5.4h-1zM313.0 358.8h1v2.3h-1zM313.0 364.1h1v5.9h-1zM314.0 359.7h1v3.0h-1zM314.0 360.1h1v4.8h-1zM315.0 355.8h1v10.8h-1zM315.0 357.4h1v3.4h-1zM315.0 364.6h1v4.0h-1zM317.0 355.8h1v10.9h-1zM317.0 372.8h1v5.8h-1zM317.0 363.9h1v3.0h-1zM317.0 365.3h1v4.0h-1zM318.0 367.5h1v5.0h-1zM318.0 368.6h1v5.0h-1zM318.0 356.4h1v4.7h-1zM319.0 355.8h1v4.5h-1zM319.0 361.5h1v2.2h-1zM320.0 355.8h1v9.0h-1zM320.0 358.5h1v5.1h-1zM320.0 358.5h1v2.3h-1zM320.0 366.3h1v5.4h-1zM321.0 379.3h1v2.8h-1zM321.0 370.6h1v4.2h-1zM321.0 376.6h1v2.9h-1zM322.0 360.9h1v3.5h-1zM322.0 359.5h1v4.5h-1zM322.0 364.2h1v3.0h-1zM323.0 355.8h1v10.4h-1zM323.0 364.0h1v2.5h-1zM323.0 360.7h1v4.1h-1zM323.0 364.9h1v4.1h-1zM324.0 355.8h1v3.3h-1zM324.0 374.5h1v2.1h-1zM324.0 368.1h1v5.7h-1zM324.0 371.6h1v4.3h-1zM325.0 355.8h1v4.3h-1zM325.0 361.5h1v3.2h-1zM325.0 367.8h1v2.3h-1zM325.0 371.1h1v5.2h-1zM326.0 355.8h1v10.1h-1zM326.0 363.3h1v5.0h-1zM326.0 359.4h1v4.6h-1zM326.0 366.3h1v4.9h-1zM327.0 360.9h1v3.9h-1zM327.0 356.9h1v5.9h-1zM327.0 358.4h1v3.7h-1zM328.0 355.8h1v6.9h-1zM328.0 360.8h1v4.1h-1zM328.0 358.9h1v3.2h-1zM328.0 362.4h1v4.9h-1zM329.0 355.8h1v4.9h-1zM329.0 367.6h1v5.2h-1zM329.0 356.6h1v4.5h-1zM330.0 355.8h1v6.5h-1zM330.0 357.5h1v5.4h-1zM330.0 360.7h1v4.1h-1zM331.0 355.8h1v10.5h-1zM331.0 376.5h1v5.0h-1zM332.0 356.6h1v5.7h-1zM332.0 359.8h1v2.1h-1zM332.0 360.3h1v5.0h-1zM333.0 355.8h1v8.1h-1zM333.0 362.6h1v5.1h-1zM333.0 369.4h1v3.3h-1zM333.0 365.4h1v2.5h-1zM334.0 355.8h1v8.2h-1zM334.0 364.3h1v2.8h-1zM334.0 370.6h1v5.1h-1zM335.0 355.8h1v7.5h-1zM335.0 366.6h1v3.1h-1zM336.0 355.8h1v8.4h-1zM336.0 358.2h1v4.4h-1zM336.0 360.6h1v2.3h-1zM337.0 356.6h1v3.0h-1zM337.0 360.4h1v2.3h-1zM337.0 363.1h1v5.4h-1zM346.0 355.8h1v9.8h-1zM346.0 381.4h1v5.0h-1zM346.0 379.6h1v4.1h-1zM347.0 356.4h1v2.1h-1zM347.0 363.7h1v3.2h-1zM347.0 365.6h1v3.8h-1zM348.0 355.8h1v6.9h-1zM348.0 362.2h1v5.6h-1zM348.0 367.4h1v4.7h-1zM349.0 358.7h1v5.4h-1zM349.0 373.1h1v3.8h-1zM350.0 355.8h1v6.1h-1zM350.0 356.5h1v3.1h-1zM351.0 359.6h1v5.2h-1zM351.0 370.6h1v5.2h-1zM353.0 360.2h1v2.4h-1zM353.0 356.3h1v4.7h-1zM354.0 355.8h1v3.6h-1zM354.0 357.8h1v2.5h-1zM354.0 362.9h1v4.4h-1zM354.0 359.9h1v4.5h-1zM355.0 355.8h1v7.5h-1zM355.0 364.8h1v5.6h-1zM356.0 360.9h1v5.1h-1zM356.0 358.9h1v3.9h-1zM356.0 358.4h1v2.8h-1zM357.0 355.8h1v9.3h-1zM357.0 357.5h1v2.5h-1zM359.0 355.8h1v4.2h-1zM359.0 361.9h1v2.1h-1zM360.0 355.8h1v8.2h-1zM360.0 362.6h1v3.2h-1zM360.0 364.9h1v2.9h-1zM360.0 362.1h1v3.8h-1zM361.0 356.0h1v5.1h-1zM361.0 367.0h1v3.9h-1zM361.0 363.3h1v5.2h-1zM362.0 355.8h1v10.3h-1zM362.0 356.8h1v2.3h-1zM362.0 359.1h1v4.6h-1zM362.0 371.7h1v3.5h-1zM363.0 355.8h1v10.6h-1zM363.0 376.6h1v4.6h-1zM363.0 370.5h1v2.4h-1zM363.0 362.7h1v5.2h-1zM364.0 362.2h1v4.7h-1zM364.0 366.6h1v3.3h-1zM364.0 356.6h1v4.3h-1zM365.0 355.8h1v10.0h-1zM365.0 363.0h1v4.8h-1zM365.0 370.6h1v2.8h-1zM365.0 357.4h1v3.1h-1zM366.0 355.8h1v10.3h-1zM366.0 358.1h1v5.0h-1zM367.0 355.8h1v5.6h-1zM367.0 360.1h1v2.4h-1zM367.0 358.6h1v2.4h-1zM369.0 368.1h1v3.0h-1zM369.0 364.7h1v2.6h-1zM370.0 355.8h1v8.7h-1zM370.0 357.2h1v5.9h-1zM370.0 376.0h1v3.0h-1zM370.0 370.8h1v4.5h-1zM371.0 355.8h1v6.2h-1zM371.0 378.9h1v3.9h-1zM372.0 355.8h1v10.3h-1zM372.0 362.6h1v3.8h-1zM372.0 358.2h1v4.2h-1zM373.0 355.8h1v3.8h-1zM373.0 361.7h1v3.5h-1zM373.0 358.6h1v3.2h-1zM373.0 366.2h1v5.0h-1zM374.0 356.8h1v3.4h-1zM374.0 365.1h1v4.8h-1zM375.0 357.2h1v4.6h-1zM375.0 358.5h1v4.9h-1zM376.0 355.8h1v10.4h-1zM376.0 358.3h1v3.7h-1zM376.0 371.5h1v3.2h-1zM376.0 371.4h1v2.1h-1zM377.0 366.7h1v4.3h-1zM377.0 363.3h1v5.4h-1zM377.0 358.5h1v5.6h-1zM378.0 374.7h1v2.1h-1zM378.0 365.0h1v3.4h-1zM379.0 355.8h1v3.1h-1zM379.0 358.3h1v4.5h-1zM379.0 359.6h1v4.9h-1zM379.0 366.3h1v2.4h-1zM380.0 361.1h1v4.8h-1zM380.0 358.5h1v3.2h-1zM381.0 355.8h1v8.6h-1zM381.0 355.8h1v5.7h-1zM382.0 355.8h1v9.2h-1zM382.0 359.0h1v3.8h-1zM383.0 360.7h1v5.9h-1zM383.0 362.8h1v3.7h-1zM383.0 381.4h1v3.8h-1zM384.0 355.8h1v7.2h-1zM384.0 357.6h1v4.2h-1zM384.0 360.3h1v5.9h-1zM385.0 364.7h1v5.5h-1zM386.0 368.8h1v4.6h-1zM386.0 364.4h1v5.8h-1zM386.0 360.5h1v5.5h-1zM387.0 364.8h1v4.0h-1zM388.0 367.3h1v3.3h-1zM388.0 365.3h1v2.3h-1zM388.0 368.0h1v4.0h-1zM389.0 355.8h1v8.5h-1zM389.0 357.0h1v2.3h-1zM389.0 358.7h1v2.3h-1zM390.0 355.8h1v5.3h-1zM390.0 362.4h1v5.7h-1zM390.0 360.8h1v3.2h-1zM391.0 355.8h1v3.7h-1zM391.0 366.6h1v6.0h-1zM392.0 355.8h1v10.6h-1zM392.0 363.3h1v5.0h-1zM393.0 379.5h1v3.2h-1zM393.0 364.4h1v4.8h-1zM394.0 355.8h1v3.9h-1zM394.0 361.9h1v3.2h-1zM395.0 363.9h1v2.0h-1zM395.0 364.3h1v5.4h-1zM396.0 355.8h1v5.2h-1zM396.0 375.7h1v5.2h-1zM396.0 372.3h1v5.0h-1zM396.0 356.5h1v5.3h-1zM397.0 355.8h1v4.5h-1zM397.0 366.0h1v3.4h-1zM398.0 355.8h1v9.9h-1zM398.0 356.9h1v3.9h-1zM399.0 355.8h1v4.3h-1zM399.0 365.2h1v5.4h-1zM399.0 357.6h1v3.0h-1zM400.0 364.3h1v5.6h-1zM400.0 360.0h1v5.3h-1zM401.0 359.3h1v5.3h-1zM402.0 355.8h1v6.5h-1zM402.0 369.2h1v4.9h-1zM402.0 365.5h1v5.4h-1zM402.0 368.5h1v5.3h-1zM403.0 355.8h1v3.2h-1zM403.0 372.8h1v5.8h-1zM404.0 359.9h1v4.3h-1zM404.0 356.3h1v4.2h-1zM404.0 362.1h1v4.4h-1zM405.0 355.8h1v7.7h-1zM405.0 363.8h1v3.1h-1zM405.0 361.3h1v2.7h-1zM405.0 367.5h1v2.9h-1zM406.0 358.7h1v4.4h-1zM407.0 355.8h1v7.7h-1zM407.0 360.3h1v4.9h-1zM407.0 369.3h1v4.4h-1zM408.0 365.2h1v4.7h-1zM409.0 355.8h1v3.0h-1zM409.0 367.4h1v3.3h-1zM409.0 364.8h1v4.1h-1zM409.0 363.1h1v4.9h-1zM410.0 355.8h1v6.9h-1zM410.0 359.3h1v4.4h-1zM410.0 357.4h1v2.5h-1zM410.0 364.1h1v5.1h-1zM411.0 374.6h1v5.0h-1zM411.0 375.7h1v4.7h-1zM412.0 366.5h1v4.5h-1zM412.0 362.1h1v3.0h-1zM412.0 365.9h1v4.1h-1zM413.0 355.8h1v7.2h-1zM413.0 365.5h1v2.1h-1zM413.0 361.5h1v5.8h-1zM414.0 355.8h1v10.1h-1zM414.0 361.7h1v2.7h-1zM414.0 373.2h1v3.8h-1zM415.0 355.8h1v8.5h-1zM415.0 378.0h1v5.1h-1zM415.0 362.7h1v4.4h-1zM416.0 355.8h1v5.3h-1zM416.0 358.4h1v3.6h-1zM416.0 367.7h1v3.8h-1zM417.0 355.8h1v9.1h-1zM417.0 370.8h1v3.2h-1zM417.0 375.6h1v2.9h-1zM417.0 355.9h1v4.5h-1zM418.0 355.8h1v9.7h-1zM418.0 360.7h1v5.0h-1zM419.0 358.3h1v4.0h-1zM419.0 358.2h1v5.3h-1zM419.0 359.7h1v5.7h-1zM420.0 355.8h1v6.3h-1zM420.0 365.2h1v2.1h-1zM420.0 367.1h1v2.2h-1zM421.0 355.8h1v5.3h-1zM421.0 356.9h1v3.9h-1zM421.0 370.9h1v5.8h-1zM422.0 362.7h1v3.1h-1zM423.0 355.8h1v6.4h-1zM423.0 361.0h1v4.1h-1zM424.0 369.5h1v3.7h-1zM424.0 380.9h1v2.4h-1zM424.0 357.4h1v4.5h-1zM425.0 371.0h1v5.8h-1zM425.0 370.7h1v5.5h-1zM425.0 367.9h1v5.0h-1zM426.0 355.8h1v7.9h-1zM426.0 378.3h1v4.4h-1zM427.0 355.8h1v7.2h-1zM427.0 362.2h1v2.8h-1zM427.0 364.8h1v4.6h-1zM427.0 358.9h1v4.3h-1zM428.0 368.2h1v5.5h-1zM428.0 374.3h1v2.8h-1zM428.0 357.9h1v5.3h-1zM429.0 365.7h1v3.1h-1zM429.0 357.4h1v2.9h-1zM430.0 356.4h1v2.3h-1zM430.0 365.3h1v5.2h-1zM431.0 355.8h1v9.3h-1zM431.0 361.4h1v3.0h-1zM431.0 358.5h1v2.1h-1zM431.0 369.8h1v4.9h-1zM432.0 355.8h1v8.8h-1zM432.0 359.6h1v5.7h-1zM432.0 380.0h1v2.9h-1zM433.0 355.8h1v4.8h-1zM433.0 356.5h1v2.1h-1zM433.0 356.4h1v2.4h-1zM433.0 362.8h1v5.6h-1zM434.0 355.8h1v10.4h-1zM434.0 363.2h1v3.2h-1zM434.0 365.4h1v4.3h-1zM434.0 365.5h1v2.5h-1zM435.0 355.8h1v7.8h-1zM435.0 362.6h1v5.9h-1zM436.0 375.6h1v5.1h-1zM436.0 357.8h1v4.9h-1zM437.0 355.8h1v9.6h-1zM437.0 380.6h1v2.8h-1zM438.0 355.8h1v9.9h-1zM438.0 363.4h1v3.4h-1zM439.0 355.8h1v4.9h-1zM439.0 362.9h1v4.8h-1zM439.0 366.0h1v3.5h-1zM439.0 357.3h1v2.6h-1zM440.0 359.9h1v2.5h-1zM440.0 373.9h1v4.6h-1zM440.0 366.8h1v4.0h-1zM441.0 355.8h1v8.5h-1zM441.0 362.9h1v5.7h-1zM441.0 372.8h1v4.8h-1zM442.0 355.8h1v4.5h-1zM442.0 366.0h1v3.5h-1zM442.0 359.2h1v4.3h-1zM442.0 366.3h1v5.3h-1zM443.0 355.8h1v3.4h-1zM443.0 381.0h1v5.0h-1zM443.0 370.8h1v2.4h-1zM443.0 355.8h1v3.6h-1zM444.0 358.6h1v4.3h-1zM444.0 377.1h1v3.9h-1zM445.0 367.8h1v2.6h-1zM445.0 367.7h1v4.8h-1zM446.0 355.8h1v3.3h-1zM446.0 362.3h1v5.7h-1zM447.0 355.8h1v9.1h-1zM447.0 368.4h1v4.2h-1zM447.0 374.6h1v4.2h-1zM447.0 367.5h1v5.2h-1zM448.0 355.8h1v9.0h-1zM448.0 360.3h1v5.1h-1zM448.0 362.5h1v5.4h-1zM449.0 355.8h1v4.7h-1zM449.0 365.4h1v5.1h-1zM449.0 358.3h1v5.7h-1zM449.0 372.5h1v3.0h-1zM450.0 359.7h1v2.0h-1zM450.0 361.2h1v4.1h-1zM451.0 375.2h1v3.7h-1zM451.0 363.4h1v4.5h-1zM452.0 355.8h1v4.8h-1zM452.0 356.0h1v3.3h-1zM452.0 362.9h1v5.8h-1zM453.0 357.4h1v2.3h-1zM453.0 367.6h1v5.4h-1zM454.0 355.8h1v5.4h-1zM454.0 375.9h1v3.3h-1zM454.0 370.9h1v5.9h-1zM454.0 358.7h1v5.0h-1zM455.0 359.3h1v5.6h-1zM455.0 356.7h1v6.0h-1zM456.0 355.8h1v10.5h-1zM456.0 373.0h1v4.4h-1zM456.0 361.1h1v2.6h-1zM457.0 355.8h1v4.7h-1zM457.0 357.0h1v3.4h-1zM457.0 367.6h1v3.5h-1zM457.0 366.7h1v3.0h-1zM458.0 355.8h1v8.1h-1zM458.0 361.2h1v2.6h-1zM458.0 367.0h1v2.8h-1zM459.0 367.9h1v5.9h-1zM459.0 356.5h1v5.5h-1zM460.0 355.8h1v5.5h-1zM460.0 381.9h1v5.8h-1zM460.0 379.2h1v5.7h-1zM461.0 355.8h1v7.4h-1zM461.0 364.7h1v2.9h-1zM461.0 361.5h1v5.7h-1zM462.0 355.8h1v8.7h-1zM462.0 366.1h1v5.5h-1zM462.0 358.0h1v4.1h-1zM462.0 358.7h1v4.0h-1zM463.0 355.8h1v7.0h-1zM463.0 366.6h1v5.0h-1zM463.0 356.7h1v4.5h-1zM464.0 363.0h1v3.3h-1zM464.0 360.5h1v4.0h-1zM474.0 355.8h1v4.9h-1zM474.0 372.7h1v2.7h-1zM475.0 355.8h1v6.9h-1zM475.0 368.8h1v3.3h-1zM476.0 355.8h1v3.4h-1zM476.0 365.7h1v3.6h-1zM476.0 358.0h1v4.8h-1zM477.0 355.8h1v7.4h-1zM477.0 356.5h1v4.4h-1zM477.0 365.1h1v3.7h-1zM478.0 363.9h1v3.6h-1zM479.0 355.8h1v3.9h-1zM479.0 357.2h1v3.4h-1zM480.0 355.8h1v9.4h-1zM480.0 361.9h1v3.3h-1zM481.0 374.3h1v3.7h-1zM481.0 360.0h1v2.5h-1zM482.0 355.8h1v7.8h-1zM482.0 356.2h1v5.7h-1zM482.0 369.1h1v2.3h-1zM483.0 355.8h1v7.5h-1zM483.0 373.9h1v4.3h-1zM484.0 368.2h1v3.4h-1zM484.0 376.3h1v2.1h-1zM484.0 360.1h1v3.5h-1zM486.0 362.3h1v3.2h-1zM486.0 369.6h1v3.6h-1zM486.0 367.9h1v5.5h-1zM487.0 373.8h1v2.3h-1zM487.0 367.6h1v4.0h-1zM488.0 368.4h1v4.9h-1zM488.0 362.0h1v5.1h-1zM488.0 360.3h1v2.2h-1zM489.0 355.8h1v5.7h-1zM489.0 368.8h1v5.6h-1zM489.0 361.8h1v3.3h-1zM489.0 360.7h1v3.7h-1zM491.0 355.8h1v9.3h-1zM491.0 363.1h1v3.1h-1zM491.0 359.8h1v2.9h-1zM492.0 355.8h1v10.4h-1zM492.0 357.2h1v5.4h-1zM493.0 363.7h1v2.2h-1zM493.0 370.5h1v3.9h-1zM494.0 355.8h1v5.0h-1zM494.0 361.6h1v4.2h-1zM494.0 362.6h1v4.8h-1zM495.0 366.1h1v5.0h-1zM496.0 355.8h1v5.4h-1zM496.0 363.0h1v4.1h-1zM496.0 361.9h1v4.0h-1zM496.0 364.5h1v4.2h-1zM497.0 355.8h1v6.2h-1zM497.0 362.4h1v5.1h-1zM499.0 363.0h1v3.5h-1zM499.0 363.0h1v2.4h-1zM500.0 368.1h1v4.8h-1zM501.0 355.8h1v6.7h-1zM501.0 363.4h1v5.1h-1zM501.0 358.1h1v2.5h-1zM501.0 367.9h1v4.7h-1zM502.0 375.0h1v4.1h-1zM502.0 357.9h1v4.2h-1zM502.0 369.1h1v4.7h-1zM503.0 355.8h1v8.5h-1zM503.0 366.1h1v5.7h-1zM503.0 362.4h1v2.8h-1zM503.0 364.0h1v2.0h-1zM504.0 355.8h1v6.7h-1zM504.0 371.8h1v5.0h-1zM505.0 355.8h1v10.2h-1zM505.0 367.9h1v4.8h-1zM506.0 355.8h1v7.6h-1zM506.0 372.5h1v4.1h-1zM517.0 355.8h1v9.0h-1zM517.0 360.1h1v5.1h-1zM518.0 370.0h1v2.4h-1zM520.0 355.8h1v10.2h-1zM520.0 359.7h1v5.3h-1zM520.0 369.2h1v5.5h-1zM521.0 355.8h1v8.4h-1zM521.0 360.6h1v3.9h-1zM522.0 361.0h1v3.9h-1zM522.0 368.7h1v2.9h-1zM523.0 376.0h1v3.3h-1zM523.0 367.0h1v4.9h-1zM523.0 376.5h1v5.6h-1zM526.0 362.9h1v5.6h-1zM527.0 364.5h1v5.3h-1zM529.0 369.1h1v3.7h-1zM529.0 369.6h1v3.7h-1zM529.0 362.2h1v5.0h-1zM530.0 370.2h1v3.6h-1zM530.0 366.6h1v4.8h-1zM531.0 355.8h1v10.6h-1zM531.0 378.1h1v4.6h-1zM532.0 355.8h1v5.1h-1zM532.0 369.6h1v2.6h-1zM533.0 355.8h1v4.1h-1zM533.0 364.7h1v4.0h-1zM533.0 362.2h1v2.2h-1zM534.0 355.8h1v8.2h-1zM534.0 363.0h1v3.8h-1zM534.0 356.6h1v4.7h-1zM535.0 355.8h1v8.3h-1zM535.0 357.0h1v3.3h-1zM536.0 360.9h1v3.6h-1zM537.0 356.1h1v2.4h-1zM537.0 364.3h1v4.7h-1zM537.0 367.4h1v4.4h-1zM549.0 355.8h1v5.1h-1zM549.0 370.9h1v4.8h-1zM549.0 363.4h1v5.2h-1zM551.0 358.4h1v5.1h-1zM551.0 364.3h1v3.3h-1zM552.0 358.7h1v2.3h-1zM553.0 355.8h1v9.9h-1zM553.0 370.8h1v2.7h-1zM553.0 370.5h1v3.6h-1zM553.0 368.2h1v2.3h-1zM578.0 363.1h1v2.4h-1zM578.0 362.3h1v2.2h-1zM579.0 355.8h1v9.4h-1zM579.0 360.6h1v4.4h-1zM580.0 361.8h1v3.5h-1zM580.0 360.7h1v4.1h-1zM580.0 357.3h1v3.0h-1zM581.0 357.8h1v5.5h-1zM582.0 355.8h1v8.8h-1zM582.0 356.9h1v4.9h-1zM583.0 360.4h1v3.1h-1zM583.0 363.9h1v5.9h-1zM584.0 369.6h1v5.3h-1zM584.0 365.2h1v4.9h-1zM585.0 355.8h1v10.8h-1zM585.0 357.8h1v4.1h-1zM586.0 356.5h1v5.2h-1zM587.0 355.8h1v7.5h-1zM587.0 366.8h1v3.9h-1zM587.0 374.4h1v2.8h-1zM587.0 358.5h1v4.1h-1zM588.0 355.8h1v6.6h-1zM588.0 363.4h1v4.8h-1zM588.0 368.3h1v2.6h-1zM589.0 358.6h1v5.4h-1zM589.0 364.8h1v5.7h-1zM590.0 366.2h1v5.8h-1zM590.0 368.1h1v2.7h-1zM590.0 371.6h1v4.5h-1zM591.0 358.5h1v5.3h-1zM592.0 355.8h1v3.3h-1zM592.0 378.6h1v5.9h-1zM592.0 360.6h1v6.0h-1zM592.0 384.3h1v3.2h-1zM593.0 355.8h1v8.8h-1zM593.0 362.0h1v5.1h-1zM593.0 364.0h1v3.1h-1zM593.0 372.5h1v4.4h-1zM594.0 367.3h1v5.8h-1zM594.0 371.8h1v4.8h-1zM594.0 366.7h1v4.4h-1zM595.0 356.6h1v3.6h-1zM595.0 357.9h1v3.1h-1zM595.0 358.2h1v3.5h-1zM596.0 355.8h1v10.6h-1zM596.0 369.4h1v3.7h-1zM597.0 355.8h1v9.1h-1zM597.0 370.7h1v3.8h-1zM597.0 372.6h1v2.5h-1zM598.0 355.8h1v5.0h-1zM598.0 369.5h1v4.5h-1zM599.0 366.0h1v5.2h-1zM600.0 355.8h1v9.8h-1zM600.0 358.8h1v4.3h-1zM600.0 362.9h1v4.8h-1zM601.0 355.8h1v9.7h-1zM601.0 362.1h1v2.1h-1zM601.0 360.5h1v4.7h-1zM602.0 368.6h1v5.6h-1zM603.0 355.8h1v4.5h-1zM603.0 372.7h1v3.9h-1zM604.0 355.8h1v4.1h-1zM604.0 364.1h1v4.6h-1zM604.0 356.5h1v5.3h-1zM605.0 355.8h1v4.8h-1zM605.0 357.1h1v4.9h-1zM606.0 355.8h1v6.8h-1zM606.0 358.6h1v4.7h-1zM606.0 362.4h1v4.0h-1zM606.0 363.1h1v2.6h-1zM607.0 355.8h1v6.4h-1zM607.0 360.5h1v2.9h-1zM608.0 355.8h1v10.8h-1zM608.0 362.2h1v4.9h-1zM609.0 355.8h1v6.6h-1zM609.0 371.6h1v3.7h-1zM609.0 375.7h1v5.5h-1zM609.0 366.5h1v5.0h-1zM610.0 355.8h1v5.4h-1zM610.0 363.2h1v3.2h-1zM610.0 364.5h1v2.5h-1zM610.0 356.8h1v2.7h-1zM611.0 357.7h1v4.7h-1zM612.0 355.8h1v9.6h-1zM612.0 356.6h1v4.2h-1zM612.0 361.7h1v5.6h-1zM612.0 372.9h1v2.4h-1zM613.0 377.3h1v5.4h-1zM613.0 359.9h1v4.1h-1zM614.0 355.8h1v9.1h-1zM614.0 365.4h1v2.5h-1zM614.0 368.0h1v5.3h-1zM616.0 355.8h1v6.7h-1zM616.0 356.4h1v4.3h-1zM617.0 355.8h1v5.7h-1zM617.0 372.2h1v4.9h-1zM617.0 368.2h1v4.0h-1zM617.0 368.1h1v5.3h-1zM618.0 355.8h1v4.5h-1zM618.0 359.4h1v2.0h-1zM618.0 363.3h1v3.8h-1zM619.0 355.8h1v7.8h-1zM619.0 359.2h1v6.0h-1zM620.0 373.7h1v3.4h-1zM620.0 356.9h1v2.8h-1zM620.0 360.9h1v2.5h-1zM621.0 363.3h1v5.2h-1zM621.0 360.6h1v5.5h-1zM621.0 355.9h1v4.0h-1zM622.0 370.9h1v5.5h-1zM622.0 368.3h1v5.7h-1zM623.0 355.8h1v9.3h-1zM623.0 364.4h1v3.9h-1zM623.0 379.7h1v4.9h-1zM623.0 357.3h1v4.2h-1zM625.0 376.6h1v3.1h-1zM626.0 371.5h1v5.5h-1zM626.0 367.9h1v4.2h-1zM627.0 355.8h1v7.9h-1zM627.0 370.9h1v3.9h-1zM628.0 367.4h1v2.5h-1zM628.0 356.0h1v5.4h-1zM629.0 355.8h1v7.1h-1zM629.0 359.6h1v3.7h-1zM629.0 363.0h1v5.1h-1zM629.0 362.0h1v4.9h-1zM630.0 355.8h1v3.0h-1zM630.0 362.4h1v4.6h-1zM630.0 375.6h1v2.4h-1zM631.0 355.8h1v10.4h-1zM631.0 356.0h1v3.0h-1zM631.0 369.0h1v3.3h-1zM631.0 365.0h1v5.6h-1zM632.0 365.6h1v4.4h-1zM632.0 366.4h1v2.9h-1zM634.0 367.8h1v3.7h-1zM635.0 355.8h1v4.8h-1zM635.0 357.2h1v2.1h-1zM636.0 361.5h1v4.0h-1zM638.0 355.8h1v7.1h-1zM638.0 372.5h1v4.0h-1zM639.0 362.3h1v4.9h-1zM639.0 363.3h1v4.4h-1zM639.0 366.5h1v5.2h-1zM640.0 355.8h1v10.4h-1zM640.0 368.1h1v4.4h-1zM641.0 355.8h1v4.1h-1zM641.0 364.8h1v3.4h-1zM641.0 361.7h1v2.3h-1zM642.0 355.8h1v10.4h-1zM642.0 359.8h1v3.2h-1zM642.0 369.4h1v4.2h-1zM643.0 355.8h1v6.3h-1zM643.0 372.2h1v6.0h-1zM643.0 370.8h1v4.6h-1zM643.0 370.2h1v2.7h-1zM644.0 368.0h1v5.6h-1zM645.0 355.8h1v5.0h-1zM645.0 366.1h1v3.9h-1zM646.0 355.8h1v8.1h-1zM646.0 359.8h1v3.6h-1zM646.0 364.3h1v3.4h-1zM647.0 360.5h1v5.0h-1zM647.0 364.6h1v4.2h-1zM648.0 355.8h1v8.2h-1zM648.0 374.9h1v3.5h-1zM649.0 363.2h1v5.5h-1zM649.0 364.2h1v4.1h-1zM650.0 357.7h1v5.3h-1zM650.0 365.1h1v3.8h-1zM650.0 362.9h1v4.0h-1zM651.0 355.8h1v5.9h-1zM651.0 357.3h1v2.7h-1zM651.0 369.5h1v2.8h-1zM652.0 355.8h1v10.8h-1zM652.0 357.4h1v4.6h-1zM652.0 363.0h1v5.8h-1zM653.0 355.8h1v8.4h-1zM653.0 356.2h1v3.7h-1zM653.0 355.9h1v5.0h-1zM653.0 356.8h1v4.8h-1zM654.0 376.0h1v4.3h-1zM655.0 355.8h1v9.0h-1zM655.0 363.2h1v5.2h-1zM656.0 355.8h1v3.9h-1zM656.0 372.1h1v2.5h-1zM657.0 365.1h1v4.5h-1zM657.0 366.6h1v2.4h-1zM657.0 362.7h1v3.4h-1zM658.0 355.8h1v4.3h-1zM658.0 378.3h1v5.3h-1zM659.0 374.0h1v3.0h-1zM659.0 368.8h1v4.3h-1zM659.0 361.8h1v3.7h-1zM660.0 355.8h1v10.9h-1zM660.0 365.3h1v3.8h-1zM660.0 373.2h1v2.4h-1zM660.0 374.6h1v2.5h-1zM662.0 368.4h1v5.8h-1zM662.0 357.0h1v3.1h-1zM662.0 364.7h1v4.7h-1zM663.0 355.8h1v10.7h-1zM663.0 364.9h1v5.0h-1zM663.0 357.8h1v6.0h-1zM663.0 360.6h1v3.5h-1zM664.0 355.8h1v7.4h-1zM664.0 362.8h1v2.4h-1zM664.0 365.3h1v3.5h-1zM665.0 355.8h1v5.6h-1zM665.0 358.0h1v4.4h-1zM665.0 365.7h1v5.7h-1zM666.0 360.3h1v4.9h-1zM666.0 367.8h1v3.1h-1zM667.0 355.8h1v10.7h-1zM667.0 360.6h1v4.0h-1zM667.0 369.1h1v5.6h-1zM667.0 361.9h1v4.4h-1zM668.0 365.2h1v5.3h-1zM668.0 360.6h1v3.6h-1zM669.0 355.8h1v9.0h-1zM669.0 361.2h1v5.8h-1zM670.0 355.8h1v8.6h-1zM670.0 373.1h1v2.1h-1zM670.0 360.3h1v2.7h-1zM670.0 370.6h1v5.2h-1zM671.0 358.8h1v5.5h-1zM671.0 364.8h1v3.0h-1zM671.0 365.2h1v2.9h-1zM672.0 355.8h1v3.9h-1zM672.0 365.5h1v4.7h-1zM673.0 373.6h1v5.0h-1zM673.0 367.7h1v3.7h-1zM675.0 355.8h1v8.4h-1zM675.0 360.0h1v3.8h-1zM676.0 355.8h1v5.2h-1zM676.0 356.7h1v2.6h-1zM677.0 355.8h1v3.9h-1zM677.0 368.1h1v4.2h-1zM678.0 355.8h1v8.5h-1zM678.0 361.4h1v2.0h-1zM679.0 361.8h1v2.9h-1zM679.0 376.1h1v2.9h-1zM679.0 357.7h1v2.5h-1zM680.0 355.8h1v4.8h-1zM680.0 368.1h1v5.6h-1zM680.0 359.9h1v5.0h-1zM681.0 376.1h1v2.2h-1zM681.0 367.2h1v3.9h-1zM682.0 367.0h1v2.8h-1zM682.0 364.2h1v3.4h-1zM682.0 365.2h1v4.3h-1zM683.0 355.8h1v10.3h-1zM683.0 360.2h1v3.1h-1zM683.0 374.6h1v4.0h-1zM684.0 355.8h1v4.7h-1zM684.0 366.3h1v4.8h-1zM684.0 358.7h1v3.7h-1zM685.0 355.8h1v6.1h-1zM685.0 358.0h1v5.6h-1zM685.0 364.5h1v2.6h-1zM685.0 367.9h1v2.2h-1zM686.0 355.8h1v10.6h-1zM686.0 371.5h1v4.8h-1zM686.0 368.8h1v4.3h-1zM686.0 357.0h1v5.8h-1zM687.0 355.8h1v10.8h-1zM687.0 373.2h1v2.5h-1zM687.0 369.5h1v4.4h-1zM688.0 355.8h1v9.0h-1zM688.0 363.1h1v3.4h-1zM688.0 356.9h1v2.3h-1zM688.0 357.3h1v6.0h-1zM689.0 359.8h1v2.1h-1zM689.0 369.9h1v3.0h-1zM689.0 359.7h1v2.2h-1zM690.0 355.8h1v4.9h-1zM690.0 374.2h1v2.5h-1zM690.0 377.8h1v4.5h-1zM691.0 355.8h1v7.4h-1zM691.0 359.1h1v3.3h-1zM691.0 363.0h1v5.8h-1zM692.0 355.8h1v5.6h-1zM692.0 357.6h1v5.4h-1zM693.0 363.3h1v2.9h-1zM693.0 364.3h1v4.2h-1zM694.0 355.8h1v7.3h-1zM694.0 356.0h1v5.0h-1zM694.0 358.0h1v2.9h-1zM695.0 358.4h1v2.9h-1zM696.0 355.8h1v4.9h-1zM696.0 368.3h1v2.1h-1zM696.0 363.6h1v2.0h-1zM696.0 359.6h1v3.2h-1zM697.0 355.8h1v4.7h-1zM697.0 363.0h1v2.9h-1zM697.0 368.1h1v3.9h-1zM697.0 355.8h1v5.5h-1zM698.0 355.8h1v4.1h-1zM698.0 359.8h1v3.1h-1zM699.0 368.4h1v5.4h-1zM700.0 355.8h1v3.5h-1zM700.0 363.4h1v2.1h-1zM701.0 355.8h1v10.7h-1zM701.0 368.4h1v2.9h-1zM702.0 355.8h1v9.8h-1zM702.0 360.8h1v4.5h-1zM703.0 357.1h1v3.9h-1zM703.0 368.5h1v4.0h-1zM704.0 355.8h1v7.4h-1zM704.0 360.7h1v2.9h-1zM704.0 358.8h1v5.4h-1zM722.0 364.3h1v2.9h-1zM722.0 359.9h1v2.7h-1zM723.0 355.8h1v10.4h-1zM723.0 358.9h1v2.7h-1zM723.0 369.6h1v4.7h-1zM724.0 355.8h1v3.4h-1zM724.0 362.3h1v6.0h-1zM724.0 359.1h1v5.6h-1zM724.0 360.4h1v5.2h-1zM725.0 355.8h1v3.6h-1zM725.0 363.2h1v4.5h-1zM726.0 355.8h1v6.7h-1zM726.0 379.0h1v2.1h-1zM727.0 357.0h1v3.0h-1zM728.0 355.8h1v6.1h-1zM728.0 360.2h1v5.5h-1zM729.0 357.8h1v5.1h-1zM729.0 362.3h1v3.8h-1zM729.0 362.2h1v5.3h-1zM730.0 356.2h1v3.4h-1zM730.0 358.8h1v2.3h-1zM730.0 360.8h1v4.3h-1zM732.0 360.0h1v2.0h-1zM734.0 366.0h1v3.6h-1zM734.0 360.8h1v3.5h-1zM735.0 369.4h1v3.1h-1zM736.0 370.4h1v4.6h-1zM736.0 365.3h1v3.4h-1zM736.0 374.6h1v2.3h-1zM737.0 364.8h1v4.1h-1zM737.0 364.4h1v4.1h-1zM737.0 369.5h1v4.8h-1zM738.0 355.8h1v8.4h-1zM738.0 357.5h1v3.6h-1zM738.0 355.9h1v2.6h-1zM738.0 356.0h1v5.7h-1zM740.0 376.5h1v3.6h-1zM740.0 365.5h1v4.3h-1zM740.0 359.8h1v2.9h-1zM741.0 355.8h1v5.8h-1zM741.0 366.3h1v5.5h-1zM741.0 357.9h1v5.5h-1zM741.0 362.5h1v4.5h-1zM744.0 355.8h1v10.9h-1zM744.0 363.1h1v2.9h-1zM746.0 373.9h1v5.7h-1zM746.0 371.0h1v5.2h-1zM746.0 356.0h1v5.1h-1zM747.0 370.3h1v5.1h-1zM747.0 356.4h1v5.6h-1zM748.0 355.8h1v4.4h-1zM748.0 361.1h1v4.2h-1zM750.0 355.8h1v9.1h-1zM750.0 359.6h1v2.4h-1zM750.0 356.1h1v2.2h-1zM750.0 363.6h1v4.5h-1zM751.0 359.2h1v4.0h-1zM753.0 362.7h1v3.4h-1zM753.0 365.8h1v3.5h-1zM779.0 358.1h1v3.0h-1zM779.0 360.0h1v4.6h-1zM780.0 355.8h1v9.3h-1zM780.0 367.1h1v3.2h-1zM782.0 360.1h1v3.6h-1zM783.0 355.8h1v4.5h-1zM783.0 358.3h1v3.3h-1zM785.0 355.8h1v10.2h-1zM785.0 366.6h1v3.1h-1zM786.0 355.8h1v4.5h-1zM786.0 364.3h1v5.0h-1zM823.0 355.8h1v9.7h-1zM823.0 368.3h1v4.7h-1zM823.0 362.7h1v5.4h-1zM823.0 358.6h1v2.7h-1zM824.0 355.8h1v4.1h-1zM824.0 356.6h1v5.4h-1zM824.0 360.6h1v3.1h-1zM825.0 355.8h1v5.1h-1zM825.0 364.6h1v6.0h-1zM825.0 361.7h1v2.5h-1zM826.0 367.3h1v4.6h-1zM860.0 355.8h1v8.1h-1zM860.0 357.8h1v3.7h-1zM863.0 355.8h1v5.3h-1zM863.0 365.5h1v2.6h-1zM866.0 357.7h1v5.4h-1zM868.0 355.8h1v4.0h-1zM868.0 363.7h1v3.6h-1zM869.0 355.8h1v6.2h-1zM869.0 359.7h1v2.5h-1zM869.0 366.1h1v2.3h-1zM870.0 359.2h1v2.3h-1zM870.0 357.4h1v3.1h-1zM870.0 355.9h1v2.5h-1zM872.0 364.9h1v4.9h-1zM872.0 365.7h1v3.8h-1zM875.0 368.0h1v2.4h-1zM879.0 355.8h1v5.4h-1zM879.0 356.6h1v5.7h-1zM879.0 366.8h1v3.4h-1zM879.0 364.1h1v4.3h-1zM882.0 355.8h1v8.0h-1zM882.0 359.2h1v5.5h-1zM882.0 360.4h1v5.0h-1zM882.0 356.0h1v4.3h-1zM896.0 355.8h1v6.0h-1zM896.0 361.2h1v4.3h-1zM896.0 359.3h1v3.0h-1zM897.0 355.8h1v4.5h-1zM897.0 357.0h1v4.3h-1zM897.0 362.8h1v3.5h-1zM898.0 362.0h1v4.4h-1zM898.0 362.8h1v4.0h-1zM898.0 355.9h1v3.8h-1zM900.0 356.4h1v4.2h-1zM900.0 363.0h1v2.2h-1zM900.0 368.1h1v3.8h-1zM901.0 359.1h1v2.8h-1zM902.0 355.8h1v4.6h-1zM902.0 360.4h1v6.0h-1zM902.0 368.5h1v2.1h-1zM904.0 361.3h1v4.4h-1zM905.0 365.9h1v5.1h-1zM905.0 361.6h1v5.2h-1zM905.0 366.4h1v3.2h-1zM906.0 355.8h1v10.3h-1zM906.0 372.3h1v3.3h-1zM907.0 361.3h1v2.5h-1zM907.0 363.6h1v3.0h-1zM907.0 367.8h1v2.4h-1zM908.0 364.5h1v3.9h-1zM908.0 356.1h1v4.1h-1zM908.0 356.3h1v2.1h-1zM909.0 369.2h1v3.2h-1zM909.0 364.8h1v2.0h-1zM909.0 363.1h1v3.9h-1zM910.0 355.8h1v6.1h-1zM910.0 357.5h1v5.0h-1zM914.0 355.8h1v4.0h-1zM914.0 355.8h1v2.2h-1zM914.0 365.8h1v2.4h-1zM915.0 357.0h1v2.1h-1zM915.0 367.2h1v4.3h-1zM916.0 366.4h1v4.6h-1zM917.0 355.8h1v4.8h-1zM917.0 356.5h1v3.1h-1zM917.0 358.2h1v3.4h-1zM919.0 355.8h1v9.6h-1zM919.0 365.9h1v2.8h-1zM919.0 365.2h1v4.7h-1zM931.0 362.5h1v2.8h-1zM932.0 357.3h1v4.9h-1zM932.0 363.3h1v3.5h-1zM932.0 364.1h1v5.9h-1zM933.0 368.1h1v5.9h-1zM933.0 364.2h1v3.9h-1zM933.0 356.6h1v2.0h-1zM934.0 362.5h1v2.1h-1zM934.0 374.9h1v2.4h-1zM935.0 355.8h1v5.1h-1zM935.0 356.0h1v2.4h-1zM935.0 366.6h1v5.7h-1zM936.0 359.8h1v2.8h-1zM936.0 366.1h1v3.2h-1zM936.0 363.3h1v4.7h-1zM937.0 368.0h1v2.0h-1zM937.0 358.2h1v2.8h-1zM938.0 355.8h1v4.0h-1zM938.0 359.9h1v3.6h-1zM938.0 357.6h1v4.3h-1zM939.0 355.8h1v6.9h-1zM939.0 366.2h1v2.9h-1zM939.0 366.2h1v3.7h-1zM940.0 355.8h1v9.5h-1zM940.0 356.2h1v2.2h-1zM941.0 355.8h1v6.1h-1zM941.0 366.2h1v5.8h-1zM941.0 369.6h1v4.5h-1zM942.0 361.4h1v4.3h-1zM942.0 360.4h1v4.1h-1zM943.0 358.6h1v2.8h-1zM943.0 362.7h1v5.3h-1zM944.0 355.8h1v9.4h-1zM944.0 372.3h1v4.4h-1zM944.0 369.8h1v4.8h-1zM945.0 362.3h1v2.8h-1zM945.0 358.8h1v3.3h-1zM945.0 356.1h1v3.1h-1zM946.0 355.8h1v8.1h-1zM946.0 363.5h1v5.6h-1zM947.0 355.8h1v5.7h-1zM947.0 357.2h1v2.9h-1zM948.0 355.8h1v6.3h-1zM948.0 356.3h1v2.2h-1zM948.0 359.2h1v4.8h-1zM949.0 355.8h1v5.8h-1zM949.0 357.2h1v5.8h-1zM949.0 361.8h1v3.6h-1zM950.0 355.8h1v8.9h-1zM950.0 361.8h1v3.5h-1zM951.0 364.0h1v5.2h-1zM952.0 355.8h1v6.5h-1zM952.0 362.6h1v5.3h-1zM952.0 376.1h1v5.4h-1zM952.0 379.5h1v5.0h-1zM953.0 366.4h1v5.4h-1zM953.0 366.6h1v5.9h-1zM953.0 363.0h1v4.9h-1zM954.0 368.0h1v4.3h-1zM955.0 363.4h1v5.5h-1zM955.0 361.9h1v3.3h-1zM956.0 369.6h1v5.3h-1zM956.0 367.4h1v2.2h-1zM956.0 370.6h1v4.6h-1zM957.0 364.1h1v2.3h-1zM958.0 355.8h1v9.5h-1zM958.0 359.6h1v5.3h-1zM958.0 366.4h1v4.5h-1zM958.0 364.7h1v4.8h-1zM959.0 355.8h1v4.1h-1zM959.0 366.4h1v4.9h-1zM960.0 360.5h1v2.0h-1zM960.0 366.4h1v3.0h-1zM960.0 364.2h1v4.6h-1zM961.0 355.8h1v3.5h-1zM961.0 360.9h1v5.4h-1zM961.0 361.9h1v5.8h-1zM961.0 367.2h1v3.4h-1zM962.0 355.8h1v9.9h-1zM962.0 368.3h1v4.9h-1zM962.0 358.0h1v5.2h-1zM962.0 356.5h1v4.7h-1zM963.0 355.8h1v11.0h-1zM963.0 363.8h1v5.9h-1zM963.0 374.1h1v2.4h-1zM963.0 369.9h1v4.6h-1zM964.0 360.4h1v4.6h-1zM964.0 368.1h1v3.0h-1zM965.0 371.9h1v3.2h-1zM965.0 358.4h1v4.1h-1zM965.0 356.1h1v5.6h-1zM966.0 355.8h1v4.6h-1zM966.0 367.8h1v3.1h-1zM966.0 359.3h1v4.9h-1zM967.0 355.8h1v4.3h-1zM967.0 366.2h1v3.4h-1zM967.0 369.2h1v2.9h-1zM967.0 367.2h1v4.5h-1zM968.0 355.8h1v7.4h-1zM968.0 368.1h1v2.7h-1zM969.0 372.5h1v3.1h-1zM969.0 358.2h1v5.4h-1zM970.0 366.0h1v4.2h-1zM971.0 370.7h1v2.6h-1zM972.0 355.8h1v5.4h-1zM972.0 355.8h1v2.1h-1zM973.0 355.8h1v7.2h-1zM973.0 371.3h1v4.5h-1zM973.0 367.8h1v5.4h-1zM974.0 355.8h1v6.0h-1zM974.0 360.9h1v5.5h-1zM974.0 363.5h1v2.0h-1zM976.0 355.8h1v5.1h-1zM976.0 365.1h1v2.1h-1zM976.0 370.2h1v2.5h-1zM976.0 372.1h1v3.5h-1zM977.0 362.6h1v3.0h-1zM977.0 363.3h1v4.7h-1zM978.0 355.8h1v9.1h-1zM978.0 372.2h1v5.8h-1zM978.0 370.7h1v2.5h-1zM978.0 369.0h1v4.5h-1zM979.0 355.8h1v5.1h-1zM979.0 365.0h1v3.3h-1zM979.0 358.1h1v3.2h-1zM979.0 357.9h1v5.9h-1zM980.0 371.4h1v4.9h-1zM981.0 355.8h1v8.8h-1zM981.0 363.6h1v5.6h-1zM981.0 372.1h1v3.5h-1zM981.0 364.3h1v3.5h-1zM982.0 355.8h1v6.5h-1zM982.0 362.6h1v3.4h-1zM982.0 359.0h1v4.5h-1zM983.0 360.4h1v2.6h-1zM984.0 355.8h1v9.6h-1zM984.0 363.6h1v5.7h-1zM984.0 358.4h1v2.6h-1zM985.0 355.8h1v10.9h-1zM985.0 364.1h1v2.3h-1zM985.0 365.2h1v4.8h-1zM985.0 356.4h1v4.4h-1zM986.0 355.8h1v7.2h-1zM986.0 366.5h1v2.8h-1zM986.0 366.2h1v2.9h-1zM986.0 368.1h1v5.0h-1zM987.0 355.8h1v10.3h-1zM987.0 358.3h1v2.1h-1zM987.0 368.1h1v3.6h-1zM988.0 355.8h1v3.8h-1zM988.0 359.0h1v2.1h-1zM989.0 355.8h1v5.4h-1zM989.0 367.1h1v3.1h-1zM989.0 378.5h1v4.6h-1zM990.0 357.5h1v5.9h-1zM990.0 363.4h1v3.6h-1zM991.0 359.6h1v4.0h-1zM991.0 364.9h1v5.4h-1zM992.0 355.8h1v9.4h-1zM992.0 362.3h1v5.6h-1zM992.0 360.9h1v2.3h-1zM993.0 355.8h1v4.0h-1zM993.0 368.3h1v2.7h-1zM993.0 357.4h1v2.5h-1zM994.0 355.8h1v8.8h-1zM994.0 358.4h1v2.9h-1zM994.0 358.5h1v3.3h-1zM994.0 359.3h1v3.3h-1zM995.0 355.8h1v7.0h-1zM995.0 360.4h1v5.1h-1zM995.0 364.9h1v2.9h-1zM995.0 367.7h1v3.9h-1zM996.0 355.8h1v8.8h-1zM996.0 357.4h1v2.1h-1zM997.0 368.7h1v5.3h-1zM997.0 366.6h1v4.1h-1zM997.0 359.1h1v5.7h-1zM998.0 377.6h1v3.4h-1zM999.0 355.8h1v10.3h-1zM999.0 357.4h1v5.3h-1zM999.0 356.5h1v3.7h-1zM1000.0 355.8h1v10.8h-1zM1000.0 360.4h1v3.7h-1zM1000.0 359.0h1v2.4h-1zM1000.0 366.2h1v6.0h-1zM1001.0 358.0h1v2.1h-1zM1002.0 361.1h1v4.4h-1zM1002.0 363.6h1v3.3h-1zM1002.0 363.7h1v3.7h-1zM1003.0 355.8h1v10.3h-1zM1003.0 359.0h1v4.6h-1zM1003.0 360.5h1v3.9h-1zM1005.0 355.8h1v3.5h-1zM1005.0 380.6h1v4.0h-1zM1005.0 383.3h1v3.5h-1zM1006.0 355.8h1v6.9h-1zM1006.0 367.4h1v2.0h-1zM1006.0 366.6h1v4.8h-1zM1007.0 355.8h1v10.6h-1zM1007.0 363.5h1v5.6h-1zM1007.0 362.5h1v3.4h-1zM1007.0 364.7h1v5.8h-1zM1008.0 355.8h1v8.4h-1zM1008.0 368.1h1v4.7h-1zM1008.0 363.2h1v5.2h-1zM1008.0 369.0h1v3.1h-1zM1011.0 355.8h1v5.4h-1zM1011.0 356.3h1v2.1h-1zM1012.0 355.8h1v10.9h-1zM1012.0 356.9h1v3.0h-1zM1012.0 361.1h1v3.4h-1zM1012.0 359.0h1v2.2h-1zM1013.0 355.8h1v9.8h-1zM1013.0 357.0h1v5.5h-1zM1013.0 358.4h1v3.2h-1zM1013.0 358.3h1v3.8h-1zM1014.0 355.8h1v6.7h-1zM1014.0 357.1h1v5.4h-1zM1014.0 374.0h1v5.7h-1zM1014.0 357.8h1v4.7h-1zM1015.0 377.9h1v4.8h-1zM1016.0 365.9h1v3.9h-1zM1016.0 360.4h1v4.4h-1zM1016.0 369.0h1v5.5h-1zM1018.0 355.8h1v3.7h-1zM1018.0 359.9h1v6.0h-1zM1019.0 355.8h1v5.3h-1zM1019.0 365.3h1v4.4h-1zM1019.0 360.7h1v3.9h-1zM1019.0 368.5h1v3.2h-1zM1020.0 355.8h1v9.4h-1zM1020.0 374.5h1v5.8h-1zM1020.0 374.4h1v2.7h-1zM1021.0 355.8h1v4.6h-1zM1021.0 356.6h1v2.5h-1zM1022.0 358.6h1v4.6h-1zM1022.0 360.2h1v3.5h-1zM1022.0 358.9h1v4.5h-1zM1023.0 357.0h1v3.0h-1zM1023.0 372.4h1v3.1h-1zM1023.0 358.2h1v4.5h-1zM1024.0 364.2h1v2.9h-1zM1024.0 367.7h1v3.2h-1zM1024.0 355.8h1v5.0h-1zM1025.0 355.8h1v8.3h-1zM1025.0 376.7h1v4.7h-1zM1025.0 369.1h1v4.8h-1zM1025.0 358.2h1v3.9h-1zM1026.0 359.2h1v4.7h-1zM1026.0 357.3h1v3.3h-1zM1027.0 355.8h1v8.2h-1zM1027.0 365.7h1v4.6h-1zM1027.0 357.8h1v3.4h-1zM1028.0 355.8h1v5.3h-1zM1028.0 357.7h1v3.1h-1zM1028.0 368.7h1v5.7h-1zM1028.0 361.2h1v2.9h-1zM1029.0 355.8h1v3.3h-1zM1029.0 357.5h1v2.7h-1zM1029.0 359.4h1v5.7h-1zM1030.0 355.8h1v5.0h-1zM1030.0 360.5h1v5.9h-1zM1031.0 362.7h1v4.4h-1zM1031.0 357.7h1v3.5h-1zM1031.0 364.8h1v3.7h-1zM1032.0 355.8h1v7.9h-1zM1032.0 365.1h1v3.7h-1zM1032.0 358.7h1v3.3h-1zM1033.0 367.5h1v2.2h-1zM1033.0 361.6h1v5.1h-1zM1033.0 367.5h1v3.9h-1zM1034.0 355.8h1v4.2h-1zM1034.0 366.5h1v3.5h-1zM1035.0 355.8h1v10.6h-1zM1035.0 373.1h1v3.3h-1zM1035.0 358.6h1v2.7h-1zM1036.0 355.8h1v8.2h-1zM1036.0 366.1h1v5.2h-1zM1036.0 355.8h1v3.0h-1zM1037.0 355.8h1v5.7h-1zM1037.0 360.1h1v3.1h-1zM1038.0 355.8h1v6.8h-1zM1038.0 356.8h1v3.3h-1zM1038.0 363.8h1v4.1h-1zM1038.0 365.4h1v2.7h-1zM1039.0 355.8h1v9.4h-1zM1039.0 366.8h1v6.0h-1zM1039.0 360.3h1v4.5h-1zM1040.0 360.4h1v3.4h-1zM1040.0 370.6h1v3.5h-1zM1040.0 359.6h1v2.5h-1zM1041.0 355.8h1v8.8h-1zM1041.0 358.7h1v3.6h-1zM1042.0 355.8h1v7.8h-1zM1042.0 357.7h1v2.1h-1zM1042.0 361.5h1v2.5h-1zM1042.0 360.6h1v3.1h-1zM1043.0 355.8h1v10.3h-1zM1043.0 361.3h1v3.1h-1zM1043.0 363.9h1v4.2h-1zM1043.0 357.3h1v6.0h-1zM1044.0 355.8h1v7.2h-1zM1044.0 363.7h1v3.8h-1zM1044.0 366.2h1v6.0h-1zM1044.0 360.8h1v5.2h-1zM1045.0 355.8h1v6.2h-1zM1045.0 363.6h1v2.4h-1zM1045.0 364.4h1v5.4h-1zM1046.0 363.1h1v3.9h-1zM1046.0 362.1h1v4.6h-1zM1046.0 371.1h1v5.1h-1z"/><path fill="#2f3033" opacity="0.5" d="M138.5 360.2h0.7v12.5h-0.7zM140.5 358.0h0.7v31.9h-0.7zM143.5 362.0h0.7v19.7h-0.7zM144.5 358.7h0.7v22.8h-0.7zM203.5 358.8h0.7v14.8h-0.7zM257.5 360.9h0.7v24.4h-0.7zM261.5 359.8h0.7v25.8h-0.7zM262.5 357.1h0.7v20.5h-0.7zM264.5 356.3h0.7v18.5h-0.7zM267.5 356.6h0.7v15.7h-0.7zM285.5 360.3h0.7v16.4h-0.7zM288.5 361.3h0.7v23.3h-0.7zM291.5 362.3h0.7v21.7h-0.7zM293.5 362.0h0.7v21.6h-0.7zM295.5 357.8h0.7v16.6h-0.7zM297.5 362.2h0.7v12.0h-0.7zM298.5 357.1h0.7v12.3h-0.7zM301.5 358.1h0.7v15.0h-0.7zM302.5 361.0h0.7v12.7h-0.7zM303.5 356.4h0.7v16.7h-0.7zM304.5 360.7h0.7v18.1h-0.7zM305.5 358.6h0.7v13.8h-0.7zM306.5 356.9h0.7v14.8h-0.7zM307.5 363.1h0.7v33.7h-0.7zM310.5 360.6h0.7v15.1h-0.7zM311.5 359.8h0.7v22.7h-0.7zM312.5 357.9h0.7v28.3h-0.7zM317.5 359.7h0.7v22.0h-0.7zM318.5 358.9h0.7v19.8h-0.7zM319.5 358.7h0.7v17.9h-0.7zM320.5 362.7h0.7v22.6h-0.7zM323.5 359.6h0.7v14.2h-0.7zM324.5 361.8h0.7v23.3h-0.7zM325.5 356.1h0.7v22.9h-0.7zM326.5 361.1h0.7v12.8h-0.7zM328.5 359.1h0.7v14.5h-0.7zM329.5 362.5h0.7v26.5h-0.7zM330.5 358.5h0.7v13.5h-0.7zM331.5 360.9h0.7v24.8h-0.7zM332.5 358.9h0.7v12.4h-0.7zM335.5 358.7h0.7v12.9h-0.7zM346.5 361.2h0.7v31.1h-0.7zM349.5 361.2h0.7v19.6h-0.7zM350.5 356.2h0.7v17.1h-0.7zM353.5 359.3h0.7v22.7h-0.7zM354.5 360.4h0.7v14.6h-0.7zM355.5 361.4h0.7v28.5h-0.7zM357.5 357.5h0.7v23.0h-0.7zM359.5 360.2h0.7v16.4h-0.7zM362.5 361.0h0.7v18.1h-0.7zM363.5 360.3h0.7v23.8h-0.7zM364.5 359.9h0.7v15.8h-0.7zM365.5 361.2h0.7v18.9h-0.7zM367.5 358.2h0.7v26.7h-0.7zM369.5 358.6h0.7v15.9h-0.7zM370.5 356.9h0.7v32.5h-0.7zM371.5 358.9h0.7v26.8h-0.7zM375.5 362.5h0.7v15.7h-0.7zM376.5 359.3h0.7v24.8h-0.7zM378.5 361.7h0.7v21.2h-0.7zM379.5 359.8h0.7v18.5h-0.7zM380.5 359.1h0.7v16.1h-0.7zM381.5 363.7h0.7v23.1h-0.7zM382.5 361.4h0.7v15.6h-0.7zM383.5 359.4h0.7v33.0h-0.7zM387.5 361.6h0.7v22.2h-0.7zM388.5 356.7h0.7v20.0h-0.7zM392.5 358.4h0.7v13.9h-0.7zM393.5 356.1h0.7v26.4h-0.7zM394.5 358.1h0.7v16.9h-0.7zM395.5 363.0h0.7v13.1h-0.7zM396.5 363.6h0.7v24.4h-0.7zM398.5 363.7h0.7v12.2h-0.7zM399.5 357.4h0.7v16.5h-0.7zM400.5 358.4h0.7v24.4h-0.7zM403.5 359.8h0.7v22.7h-0.7zM408.5 358.1h0.7v18.9h-0.7zM409.5 357.1h0.7v18.0h-0.7zM410.5 356.3h0.7v18.1h-0.7zM414.5 361.8h0.7v21.8h-0.7zM416.5 356.9h0.7v16.2h-0.7zM418.5 360.1h0.7v36.0h-0.7zM419.5 357.5h0.7v12.8h-0.7zM420.5 357.3h0.7v23.1h-0.7zM425.5 358.1h0.7v18.7h-0.7zM429.5 362.0h0.7v13.6h-0.7zM430.5 358.5h0.7v18.2h-0.7zM432.5 356.7h0.7v26.8h-0.7zM433.5 360.8h0.7v19.1h-0.7zM434.5 363.3h0.7v14.6h-0.7zM435.5 358.0h0.7v22.4h-0.7zM438.5 362.9h0.7v18.9h-0.7zM439.5 361.3h0.7v12.8h-0.7zM442.5 360.5h0.7v13.8h-0.7zM443.5 356.1h0.7v32.3h-0.7zM445.5 362.0h0.7v15.9h-0.7zM447.5 359.8h0.7v21.0h-0.7zM448.5 358.8h0.7v21.6h-0.7zM450.5 362.2h0.7v11.8h-0.7zM451.5 360.2h0.7v21.7h-0.7zM453.5 361.9h0.7v19.5h-0.7zM454.5 356.3h0.7v27.2h-0.7zM455.5 358.5h0.7v22.6h-0.7zM457.5 363.2h0.7v26.2h-0.7zM459.5 356.1h0.7v18.6h-0.7zM462.5 362.5h0.7v25.5h-0.7zM463.5 356.8h0.7v13.7h-0.7zM474.5 361.4h0.7v19.9h-0.7zM476.5 356.7h0.7v12.9h-0.7zM478.5 359.8h0.7v21.7h-0.7zM480.5 362.7h0.7v15.6h-0.7zM482.5 363.0h0.7v24.5h-0.7zM488.5 358.7h0.7v15.4h-0.7zM489.5 356.6h0.7v15.5h-0.7zM492.5 362.2h0.7v13.7h-0.7zM493.5 362.1h0.7v18.4h-0.7zM494.5 356.4h0.7v14.0h-0.7zM496.5 357.9h0.7v13.6h-0.7zM500.5 360.1h0.7v16.6h-0.7zM501.5 357.0h0.7v15.2h-0.7zM502.5 357.9h0.7v23.7h-0.7zM503.5 356.1h0.7v20.1h-0.7zM504.5 357.9h0.7v18.4h-0.7zM505.5 360.2h0.7v17.5h-0.7zM506.5 357.8h0.7v20.3h-0.7zM517.5 363.4h0.7v12.3h-0.7zM520.5 358.0h0.7v15.5h-0.7zM526.5 358.6h0.7v20.5h-0.7zM530.5 356.6h0.7v16.9h-0.7zM534.5 357.2h0.7v14.0h-0.7zM549.5 356.0h0.7v25.6h-0.7zM551.5 362.2h0.7v15.8h-0.7zM578.5 363.2h0.7v19.2h-0.7zM579.5 363.4h0.7v15.6h-0.7zM580.5 361.1h0.7v12.8h-0.7zM581.5 357.0h0.7v19.3h-0.7zM582.5 359.6h0.7v22.8h-0.7zM585.5 362.3h0.7v21.9h-0.7zM586.5 360.7h0.7v19.5h-0.7zM588.5 363.7h0.7v18.1h-0.7zM589.5 358.5h0.7v17.9h-0.7zM590.5 359.6h0.7v20.1h-0.7zM592.5 357.5h0.7v30.6h-0.7zM593.5 360.7h0.7v20.9h-0.7zM594.5 358.3h0.7v26.0h-0.7zM597.5 362.4h0.7v21.6h-0.7zM598.5 362.6h0.7v18.3h-0.7zM603.5 361.8h0.7v25.3h-0.7zM607.5 355.9h0.7v16.1h-0.7zM609.5 363.3h0.7v27.2h-0.7zM611.5 363.3h0.7v24.4h-0.7zM616.5 362.2h0.7v16.9h-0.7zM617.5 356.0h0.7v20.4h-0.7zM618.5 357.8h0.7v17.1h-0.7zM622.5 358.5h0.7v22.6h-0.7zM623.5 363.4h0.7v26.2h-0.7zM627.5 363.0h0.7v20.3h-0.7zM630.5 359.5h0.7v23.1h-0.7zM632.5 363.0h0.7v13.2h-0.7zM634.5 356.3h0.7v14.3h-0.7zM635.5 357.4h0.7v23.0h-0.7zM636.5 358.3h0.7v13.8h-0.7zM638.5 358.1h0.7v21.9h-0.7zM639.5 360.6h0.7v12.9h-0.7zM641.5 360.1h0.7v14.2h-0.7zM643.5 357.2h0.7v23.6h-0.7zM644.5 358.1h0.7v22.2h-0.7zM645.5 361.2h0.7v19.6h-0.7zM646.5 357.4h0.7v20.2h-0.7zM648.5 357.1h0.7v22.7h-0.7zM650.5 361.7h0.7v12.0h-0.7zM652.5 361.5h0.7v17.7h-0.7zM655.5 363.0h0.7v15.9h-0.7zM656.5 358.9h0.7v31.2h-0.7zM658.5 358.8h0.7v26.9h-0.7zM659.5 358.8h0.7v25.1h-0.7zM663.5 363.6h0.7v12.5h-0.7zM665.5 359.0h0.7v20.2h-0.7zM666.5 357.8h0.7v14.4h-0.7zM668.5 358.7h0.7v12.9h-0.7zM672.5 358.9h0.7v15.6h-0.7zM673.5 359.5h0.7v23.6h-0.7zM676.5 359.4h0.7v18.3h-0.7zM677.5 363.3h0.7v20.4h-0.7zM678.5 361.5h0.7v25.4h-0.7zM679.5 362.3h0.7v24.1h-0.7zM680.5 360.2h0.7v14.9h-0.7zM681.5 361.4h0.7v22.6h-0.7zM682.5 360.8h0.7v13.8h-0.7zM683.5 359.8h0.7v21.7h-0.7zM684.5 359.6h0.7v12.8h-0.7zM689.5 358.0h0.7v16.5h-0.7zM690.5 363.4h0.7v28.7h-0.7zM692.5 358.8h0.7v18.6h-0.7zM693.5 361.5h0.7v14.0h-0.7zM694.5 357.4h0.7v19.4h-0.7zM696.5 362.1h0.7v16.2h-0.7zM699.5 362.5h0.7v22.8h-0.7zM700.5 358.9h0.7v12.5h-0.7zM701.5 362.1h0.7v24.6h-0.7zM702.5 363.1h0.7v14.0h-0.7zM703.5 360.8h0.7v22.5h-0.7zM704.5 357.2h0.7v16.5h-0.7zM723.5 363.3h0.7v17.5h-0.7zM724.5 363.4h0.7v13.8h-0.7zM725.5 357.9h0.7v14.0h-0.7zM726.5 358.7h0.7v25.7h-0.7zM727.5 359.0h0.7v16.1h-0.7zM728.5 358.0h0.7v16.4h-0.7zM729.5 358.3h0.7v13.0h-0.7zM735.5 360.4h0.7v16.5h-0.7zM738.5 362.8h0.7v12.7h-0.7zM740.5 363.6h0.7v24.1h-0.7zM741.5 360.7h0.7v13.6h-0.7zM746.5 357.2h0.7v22.1h-0.7zM747.5 362.8h0.7v20.7h-0.7zM780.5 362.1h0.7v16.0h-0.7zM785.5 356.0h0.7v12.9h-0.7zM823.5 361.9h0.7v16.0h-0.7zM826.5 360.1h0.7v17.0h-0.7zM863.5 362.9h0.7v15.4h-0.7zM866.5 358.9h0.7v13.5h-0.7zM868.5 359.4h0.7v16.9h-0.7zM872.5 362.3h0.7v15.6h-0.7zM875.5 359.3h0.7v17.9h-0.7zM879.5 356.5h0.7v13.0h-0.7zM896.5 361.4h0.7v12.0h-0.7zM897.5 359.6h0.7v16.6h-0.7zM898.5 361.2h0.7v11.9h-0.7zM900.5 363.3h0.7v16.5h-0.7zM901.5 358.2h0.7v16.9h-0.7zM905.5 363.7h0.7v15.9h-0.7zM906.5 359.2h0.7v20.0h-0.7zM907.5 360.3h0.7v22.8h-0.7zM908.5 359.0h0.7v17.9h-0.7zM914.5 358.6h0.7v16.7h-0.7zM915.5 355.8h0.7v13.9h-0.7zM931.5 357.9h0.7v18.9h-0.7zM932.5 360.4h0.7v13.6h-0.7zM934.5 362.2h0.7v21.7h-0.7zM936.5 358.1h0.7v17.2h-0.7zM937.5 355.9h0.7v16.0h-0.7zM938.5 359.1h0.7v15.7h-0.7zM939.5 355.9h0.7v13.6h-0.7zM945.5 363.2h0.7v13.9h-0.7zM947.5 357.4h0.7v21.7h-0.7zM949.5 363.1h0.7v16.9h-0.7zM950.5 362.7h0.7v12.0h-0.7zM952.5 359.2h0.7v28.0h-0.7zM956.5 360.6h0.7v26.5h-0.7zM960.5 361.3h0.7v17.7h-0.7zM961.5 359.8h0.7v15.0h-0.7zM965.5 358.8h0.7v24.6h-0.7zM966.5 361.0h0.7v17.6h-0.7zM968.5 361.9h0.7v21.9h-0.7zM969.5 362.3h0.7v23.1h-0.7zM970.5 360.0h0.7v19.0h-0.7zM972.5 360.9h0.7v12.6h-0.7zM974.5 356.6h0.7v12.5h-0.7zM976.5 362.0h0.7v28.7h-0.7zM977.5 357.3h0.7v16.4h-0.7zM982.5 356.8h0.7v12.7h-0.7zM983.5 359.8h0.7v18.0h-0.7zM985.5 361.1h0.7v14.9h-0.7zM987.5 363.7h0.7v17.7h-0.7zM988.5 362.6h0.7v19.4h-0.7zM990.5 357.7h0.7v17.6h-0.7zM994.5 358.0h0.7v19.1h-0.7zM995.5 356.6h0.7v20.1h-0.7zM996.5 363.7h0.7v16.7h-0.7zM998.5 356.0h0.7v25.8h-0.7zM999.5 356.1h0.7v18.6h-0.7zM1001.5 363.5h0.7v25.3h-0.7zM1002.5 361.9h0.7v21.5h-0.7zM1006.5 362.4h0.7v20.6h-0.7zM1007.5 361.3h0.7v15.2h-0.7zM1008.5 360.8h0.7v18.5h-0.7zM1012.5 361.2h0.7v13.4h-0.7zM1014.5 363.5h0.7v25.3h-0.7zM1015.5 363.2h0.7v30.6h-0.7zM1016.5 358.1h0.7v29.9h-0.7zM1018.5 357.2h0.7v12.8h-0.7zM1020.5 355.9h0.7v23.9h-0.7zM1022.5 363.8h0.7v14.7h-0.7zM1023.5 357.3h0.7v21.3h-0.7zM1027.5 361.7h0.7v14.4h-0.7zM1028.5 362.3h0.7v16.5h-0.7zM1030.5 358.1h0.7v12.2h-0.7zM1034.5 359.1h0.7v13.1h-0.7zM1035.5 362.9h0.7v24.7h-0.7zM1038.5 357.1h0.7v14.9h-0.7zM1039.5 359.7h0.7v15.5h-0.7zM1041.5 360.5h0.7v23.2h-0.7zM1044.5 361.6h0.7v13.4h-0.7zM1045.5 360.0h0.7v14.3h-0.7z"/><rect x="140.50" y="451.20" width="952.50" height="15.60" fill="#1b1516"/><rect x="141.00" y="452.00" width="951.50" height="14.00" fill="#a3dcf7"/><rect x="287.50" y="482.20" width="805.50" height="26.30" fill="#1b1516"/><rect x="288.00" y="483.00" width="804.50" height="24.70" fill="#a3dcf7"/><rect x="288.00" y="485.00" width="804.50" height="5.50" fill="#f7c87f"/><rect x="288.00" y="492.00" width="804.50" height="1.50" fill="#f7c87f"/><rect x="478.20" y="524.20" width="614.80" height="26.60" fill="#1b1516"/><rect x="478.70" y="525.00" width="613.80" height="25.00" fill="#a3dcf7"/><rect x="478.70" y="527.00" width="613.80" height="5.50" fill="#f7c87f"/><rect x="478.70" y="534.00" width="613.80" height="1.50" fill="#f7c87f"/><rect x="726.50" y="566.40" width="366.50" height="27.40" fill="#1b1516"/><rect x="727.00" y="567.20" width="365.50" height="25.80" fill="#a3dcf7"/><rect x="727.00" y="570.00" width="365.50" height="5.00" fill="#f7c87f"/><rect x="727.00" y="576.50" width="365.50" height="2.00" fill="#f7c87f"/><rect x="196.30" y="610.40" width="896.70" height="23.30" fill="#1b1516"/><rect x="196.80" y="611.20" width="895.70" height="21.70" fill="#a3dcf7"/><rect x="196.80" y="613.40" width="895.70" height="3.10" fill="#f7c87f"/><rect x="196.80" y="619.20" width="895.70" height="3.60" fill="#f7c87f"/><rect x="456.00" y="611.20" width="1.00" height="30.00" fill="#4a4f55"/><rect x="617.00" y="621.00" width="1.00" height="12.00" fill="#4a4f55"/><rect x="780.00" y="621.00" width="1.00" height="12.00" fill="#4a4f55"/><rect x="292.60" y="621.50" width="1.80" height="1.80" fill="#1a1a22"/><rect x="293.00" y="622.50" width="1.00" height="4.50" fill="#c99a50"/><rect x="292.40" y="627.00" width="2.20" height="15.00" fill="#3e4f5c"/><rect x="293.00" y="627.00" width="1.00" height="14.50" fill="#8cc4e4"/><rect x="139.20" y="658.70" width="953.80" height="24.80" fill="#1b1516"/><rect x="139.70" y="659.50" width="952.80" height="23.20" fill="#a3dcf7"/><rect x="139.70" y="661.70" width="952.80" height="3.30" fill="#f7c87f"/><rect x="139.70" y="669.50" width="952.80" height="1.00" fill="#d5d1ca"/><rect x="139.70" y="671.50" width="952.80" height="1.60" fill="#d5d1ca"/><rect x="139.80" y="702.90" width="953.20" height="23.50" fill="#1b1516"/><rect x="140.30" y="703.70" width="952.20" height="21.90" fill="#a3dcf7"/><rect x="140.30" y="705.90" width="952.20" height="2.90" fill="#f7c87f"/><rect x="140.30" y="713.80" width="952.20" height="0.80" fill="#d5d1ca"/><rect x="140.30" y="715.80" width="952.20" height="1.20" fill="#f7c87f"/><rect x="357.50" y="712.50" width="161.50" height="1.50" fill="#f0d5a8"/><rect x="357.50" y="714.00" width="161.50" height="0.60" fill="#a3dcf7"/><rect x="357.50" y="714.60" width="161.50" height="2.40" fill="#f7c87f"/><rect x="357.50" y="717.00" width="161.50" height="2.00" fill="#a3dcf7"/><rect x="597.80" y="712.50" width="494.70" height="1.50" fill="#f0d5a8"/><rect x="597.80" y="714.00" width="494.70" height="0.60" fill="#a3dcf7"/><rect x="597.80" y="714.60" width="494.70" height="2.40" fill="#f7c87f"/><rect x="597.80" y="718.50" width="494.70" height="2.00" fill="#d5d1ca"/><rect x="237.00" y="712.00" width="1.00" height="13.50" fill="#4a4f55"/><rect x="357.50" y="712.00" width="1.00" height="13.50" fill="#4a4f55"/><rect x="519.00" y="712.00" width="1.00" height="13.50" fill="#4a4f55"/><rect x="597.80" y="712.00" width="1.00" height="13.50" fill="#4a4f55"/><rect x="367.60" y="720.40" width="0.80" height="6.00" fill="#4d6273" opacity="0.9"/><rect x="374.00" y="720.41" width="0.80" height="6.00" fill="#4d6273" opacity="0.9"/><rect x="375.60" y="720.63" width="0.80" height="6.00" fill="#4d6273" opacity="0.9"/><rect x="378.80" y="719.65" width="0.80" height="6.00" fill="#4d6273" opacity="0.9"/><rect x="380.40" y="721.75" width="0.80" height="6.00" fill="#4d6273" opacity="0.9"/><rect x="383.60" y="721.39" width="0.80" height="6.00" fill="#4d6273" opacity="0.9"/><rect x="385.20" y="720.85" width="0.80" height="6.00" fill="#4d6273" opacity="0.9"/><rect x="386.80" y="719.01" width="0.80" height="6.00" fill="#4d6273" opacity="0.9"/><rect x="390.00" y="719.65" width="0.80" height="6.00" fill="#4d6273" opacity="0.9"/><rect x="394.80" y="721.88" width="0.80" height="6.00" fill="#4d6273" opacity="0.9"/><rect x="399.60" y="721.82" width="0.80" height="6.00" fill="#4d6273" opacity="0.9"/><rect x="406.00" y="720.08" width="0.80" height="6.00" fill="#4d6273" opacity="0.9"/><rect x="407.60" y="719.44" width="0.80" height="6.00" fill="#4d6273" opacity="0.9"/><rect x="409.20" y="719.90" width="0.80" height="6.00" fill="#4d6273" opacity="0.9"/><rect x="412.40" y="721.03" width="0.80" height="6.00" fill="#4d6273" opacity="0.9"/><rect x="414.00" y="719.93" width="0.80" height="6.00" fill="#4d6273" opacity="0.9"/><rect x="417.20" y="719.95" width="0.80" height="6.00" fill="#4d6273" opacity="0.9"/><rect x="418.80" y="721.11" width="0.80" height="6.00" fill="#4d6273" opacity="0.9"/><rect x="420.40" y="721.93" width="0.80" height="6.00" fill="#4d6273" opacity="0.9"/><rect x="422.00" y="721.25" width="0.80" height="6.00" fill="#4d6273" opacity="0.9"/><rect x="425.20" y="721.36" width="0.80" height="6.00" fill="#4d6273" opacity="0.9"/><rect x="426.80" y="720.74" width="0.80" height="6.00" fill="#4d6273" opacity="0.9"/><rect x="428.40" y="719.14" width="0.80" height="6.00" fill="#4d6273" opacity="0.9"/><rect x="430.00" y="721.87" width="0.80" height="6.00" fill="#4d6273" opacity="0.9"/><rect x="431.60" y="721.27" width="0.80" height="6.00" fill="#4d6273" opacity="0.9"/><rect x="436.40" y="720.06" width="0.80" height="6.00" fill="#4d6273" opacity="0.9"/><rect x="441.20" y="721.25" width="0.80" height="6.00" fill="#4d6273" opacity="0.9"/><rect x="446.00" y="721.84" width="0.80" height="6.00" fill="#4d6273" opacity="0.9"/><rect x="447.60" y="720.02" width="0.80" height="6.00" fill="#4d6273" opacity="0.9"/><rect x="452.40" y="721.77" width="0.80" height="6.00" fill="#4d6273" opacity="0.9"/><rect x="455.60" y="719.95" width="0.80" height="6.00" fill="#4d6273" opacity="0.9"/><rect x="457.20" y="719.23" width="0.80" height="6.00" fill="#4d6273" opacity="0.9"/><rect x="458.80" y="721.07" width="0.80" height="6.00" fill="#4d6273" opacity="0.9"/><rect x="462.00" y="719.15" width="0.80" height="6.00" fill="#4d6273" opacity="0.9"/><rect x="466.80" y="719.71" width="0.80" height="6.00" fill="#4d6273" opacity="0.9"/><rect x="471.60" y="720.27" width="0.80" height="6.00" fill="#4d6273" opacity="0.9"/><rect x="473.20" y="721.75" width="0.80" height="6.00" fill="#4d6273" opacity="0.9"/><rect x="474.80" y="720.48" width="0.80" height="6.00" fill="#4d6273" opacity="0.9"/><rect x="478.00" y="721.19" width="0.80" height="6.00" fill="#4d6273" opacity="0.9"/><rect x="484.40" y="720.30" width="0.80" height="6.00" fill="#4d6273" opacity="0.9"/><rect x="486.00" y="721.53" width="0.80" height="6.00" fill="#4d6273" opacity="0.9"/><rect x="487.60" y="720.36" width="0.80" height="6.00" fill="#4d6273" opacity="0.9"/><rect x="494.00" y="720.46" width="0.80" height="6.00" fill="#4d6273" opacity="0.9"/><rect x="497.20" y="719.87" width="0.80" height="6.00" fill="#4d6273" opacity="0.9"/><rect x="498.80" y="719.44" width="0.80" height="6.00" fill="#4d6273" opacity="0.9"/><rect x="500.40" y="721.97" width="0.80" height="6.00" fill="#4d6273" opacity="0.9"/><rect x="505.20" y="720.02" width="0.80" height="6.00" fill="#4d6273" opacity="0.9"/><rect x="506.80" y="719.82" width="0.80" height="6.00" fill="#4d6273" opacity="0.9"/><rect x="511.60" y="721.36" width="0.80" height="6.00" fill="#4d6273" opacity="0.9"/><rect x="358.00" y="724.00" width="161.00" height="1.50" fill="#3a4450"/><g stroke="#5f6266" stroke-width="1"><line x1="137.0" y1="725.9" x2="137.0" y2="734.7"/><line x1="169.7" y1="725.9" x2="169.7" y2="729.4"/><line x1="202.4" y1="725.9" x2="202.4" y2="729.4"/><line x1="235.0" y1="725.9" x2="235.0" y2="729.4"/><line x1="267.7" y1="725.9" x2="267.7" y2="729.4"/><line x1="300.4" y1="725.9" x2="300.4" y2="734.7"/><line x1="333.1" y1="725.9" x2="333.1" y2="729.4"/><line x1="365.8" y1="725.9" x2="365.8" y2="729.4"/><line x1="398.4" y1="725.9" x2="398.4" y2="729.4"/><line x1="431.1" y1="725.9" x2="431.1" y2="729.4"/><line x1="463.8" y1="725.9" x2="463.8" y2="734.7"/><line x1="496.5" y1="725.9" x2="496.5" y2="729.4"/><line x1="529.2" y1="725.9" x2="529.2" y2="729.4"/><line x1="561.8" y1="725.9" x2="561.8" y2="729.4"/><line x1="594.5" y1="725.9" x2="594.5" y2="729.4"/><line x1="627.2" y1="725.9" x2="627.2" y2="734.7"/><line x1="659.9" y1="725.9" x2="659.9" y2="729.4"/><line x1="692.6" y1="725.9" x2="692.6" y2="729.4"/><line x1="725.2" y1="725.9" x2="725.2" y2="729.4"/><line x1="757.9" y1="725.9" x2="757.9" y2="729.4"/><line x1="790.6" y1="725.9" x2="790.6" y2="734.7"/><line x1="823.3" y1="725.9" x2="823.3" y2="729.4"/><line x1="856.0" y1="725.9" x2="856.0" y2="729.4"/><line x1="888.6" y1="725.9" x2="888.6" y2="729.4"/><line x1="921.3" y1="725.9" x2="921.3" y2="729.4"/><line x1="954.0" y1="725.9" x2="954.0" y2="734.7"/><line x1="986.7" y1="725.9" x2="986.7" y2="729.4"/><line x1="1019.4" y1="725.9" x2="1019.4" y2="729.4"/><line x1="1052.0" y1="725.9" x2="1052.0" y2="729.4"/><line x1="1084.7" y1="725.9" x2="1084.7" y2="729.4"/></g><g font-family="Liberation Sans" font-size="9.5" fill="#dfe1e5"><text x="141.6" y="737.9">00.000</text><text x="305.0" y="737.9">05.000</text><text x="468.4" y="737.9">10.000</text><text x="631.8" y="737.9">15.000</text><text x="795.2" y="737.9">20.000</text><text x="958.6" y="737.9">25.000</text></g></svg>
<div class="a" style="left:1096px;top:120px;width:6.5px;height:215px;border-radius:3.2px;background:#4a4b4e"></div>
<div class="a" style="left:1105px;top:66px;width:6px;height:672px;background:#27282b"></div>
<div class="t" style="left:1116px;top:72px;font-size:12.6px">Analysis</div>
<div class="t" style="left:1180px;top:72px;font-size:12.9px">All threads</div>
<div class="a" style="left:1172px;top:88px;width:78px;height:2px;background:#3574f0"></div>
<div class="hl" style="left:1111px;top:90px;width:483px"></div>
<div class="t" style="left:1122.5px;top:101px;font-size:11.4px">Summary</div>
<div class="t" style="left:1194.4px;top:101px;font-size:11.9px">Top Down</div>
<div class="t" style="left:1270px;top:101px;font-size:11.9px">Flame Chart</div>
<div class="t" style="left:1356px;top:101px;font-size:11.9px">Bottom Up</div>
<div class="a" style="left:1183px;top:122px;width:76px;height:3px;background:#3574f0"></div>
<div class="hl" style="left:1111px;top:124.5px;width:483px"></div>
<div class="a" style="left:1117px;top:128px;width:207px;height:24px;border:1px solid #4a4d52;border-radius:4px"></div>
<svg class="a" style="left:1123px;top:132px" width="18" height="16" viewBox="0 0 18 16"><circle cx="7" cy="7.5" r="4.3" fill="none" stroke="#c9cbcf" stroke-width="1.3"/><line x1="10" y1="10.6" x2="12.5" y2="13.2" stroke="#c9cbcf" stroke-width="1.4"/><path d="M12.5 7.2 L16 7.2 L14.25 9.2Z" fill="#c9cbcf"/></svg>
<div class="a" style="left:1334px;top:133px;width:14px;height:14px;border:1px solid #5a5d62;border-radius:3px"></div>
<div class="t" style="left:1354.6px;top:134px;font-size:12.7px">Match Case</div>
<div class="a" style="left:1430.6px;top:133px;width:14px;height:14px;border:1px solid #5a5d62;border-radius:3px"></div>
<div class="t" style="left:1451.6px;top:134px;font-size:12.4px">Regex</div>
<div class="a" style="left:1503.7px;top:128px;width:69.5px;height:24px;background:#393b40;border:1px solid #46484d;border-left:none;border-radius:0 4px 4px 0;overflow:hidden"><div class="t" style="left:-2.5px;top:5px;font-size:12.7px">Time</div></div>
<svg class="a" style="left:1556px;top:137px" width="10" height="7" viewBox="0 0 10 7"><path d="M1.5 1.5 L5 5 L8.5 1.5" fill="none" stroke="#c9cbcf" stroke-width="1.2"/></svg>
<div class="t" style="left:1578.5px;top:133px;font-size:15px;color:#a9abaf;-webkit-text-stroke:0">?</div>
<div class="hl" style="left:1111px;top:155.5px;width:483px"></div>
<div class="vl" style="left:1249px;top:156px;height:20px;background:#393b40"></div>
<div class="vl" style="left:1318.7px;top:156px;height:20px;background:#393b40"></div>
<div class="vl" style="left:1370.2px;top:156px;height:20px;background:#393b40"></div>
<div class="vl" style="left:1439.3px;top:156px;height:20px;background:#393b40"></div>
<div class="vl" style="left:1491px;top:156px;height:20px;background:#393b40"></div>
<div class="vl" style="left:1560px;top:156px;height:20px;background:#393b40"></div>
<div class="t" style="left:1120.5px;top:160px;font-size:12.6px">Name</div>
<div class="t" style="left:1255px;top:160px;font-size:12.8px">Total (μs)</div>
<div class="t" style="left:1350px;top:160px;font-size:12.8px">%</div>
<div class="t" style="left:1382.6px;top:160px;font-size:12.6px">Self (μs)</div>
<div class="t" style="left:1471px;top:160px;font-size:12.8px">%</div>
<div class="t" style="left:1490.6px;top:160px;font-size:12.8px">Children ...</div>
<div class="hl" style="left:1111px;top:176px;width:483px"></div>
<div class="vl" style="left:1248.5px;top:177px;height:549px;background:#26272a"></div>
<div class="vl" style="left:1369.5px;top:177px;height:549px;background:#26272a"></div>
<div class="vl" style="left:1439.5px;top:177px;height:549px;background:#26272a"></div>
<div class="vl" style="left:1560px;top:177px;height:549px;background:#26272a"></div>
<div class="a" style="left:1111px;top:177px;width:483px;height:549px;overflow:hidden">
<div class="a" style="left:196.0px;top:0.9px;width:10.0px;height:17.5px;background:#3c5166"></div>
<div class="a" style="left:0;top:0.0px;width:138px;height:19px;overflow:hidden">
<svg class="a" style="left:11.0px;top:5px" width="10" height="8" viewBox="0 0 10 8"><path d="M1.3 2 L5 5.7 L8.7 2" fill="none" stroke="#b9bbbf" stroke-width="1.1"/></svg>
<svg class="a" style="left:26.0px;top:2.5px" width="14" height="14" viewBox="0 0 14 14"><circle cx="7" cy="7" r="5.9" fill="#3d2a2b" stroke="#d8514c" stroke-width="1.5"/><path d="M4.2 9.6 V5.6 M4.2 6.4 Q4.9 5 5.9 5 Q7 5 7 6.4 V9.6 M7 6.4 Q7.7 5 8.7 5 Q9.8 5 9.8 6.4 V9.6" fill="none" stroke="#e2625d" stroke-width="1.2"/></svg>
<div class="t" style="left:43.0px;top:3.7px;font-size:12.5px">RenderThread()</div>
</div>
<div class="a" style="left:138.0px;top:0.0px;width:69.5px;height:19px;overflow:hidden"><div class="t" style="left:1px;top:3.5px;font-size:12.9px">114,357,849</div></div>
<div class="t" style="right:234px;top:3.5px;font-size:12.9px">386.37</div>
<div class="t" style="right:164.5px;top:3.5px;font-size:12.9px">0</div>
<div class="t" style="right:113px;top:3.5px;font-size:12.9px">0.00</div>
<div class="a" style="left:380.5px;top:0.0px;width:68.5px;height:19px;overflow:hidden"><div class="t" style="left:1px;top:3.5px;font-size:12.9px">114,357,849</div></div>
<div class="a" style="left:449.5px;top:0.0px;width:22.5px;height:19px;overflow:hidden"><div class="t" style="left:0.5px;top:3.5px;font-size:12.9px">386.37</div></div>
<div class="a" style="left:196.0px;top:19.9px;width:10.0px;height:17.5px;background:#3c5166"></div>
<div class="a" style="left:0;top:19.0px;width:138px;height:19px;overflow:hidden">
<svg class="a" style="left:26.6px;top:5px" width="10" height="8" viewBox="0 0 10 8"><path d="M1.3 2 L5 5.7 L8.7 2" fill="none" stroke="#b9bbbf" stroke-width="1.1"/></svg>
<svg class="a" style="left:41.6px;top:2.5px" width="14" height="14" viewBox="0 0 14 14"><circle cx="7" cy="7" r="5.9" fill="#3d2a2b" stroke="#d8514c" stroke-width="1.5"/><path d="M4.2 9.6 V5.6 M4.2 6.4 Q4.9 5 5.9 5 Q7 5 7 6.4 V9.6 M7 6.4 Q7.7 5 8.7 5 Q9.8 5 9.8 6.4 V9.6" fill="none" stroke="#e2625d" stroke-width="1.2"/></svg>
<div class="t" style="left:58.6px;top:3.7px;font-size:12.5px">__start_thread</div>
</div>
<div class="a" style="left:138.0px;top:19.0px;width:69.5px;height:19px;overflow:hidden"><div class="t" style="left:1px;top:3.5px;font-size:12.9px">114,357,849</div></div>
<div class="t" style="right:234px;top:22.5px;font-size:12.9px">386.37</div>
<div class="t" style="right:164.5px;top:22.5px;font-size:12.9px">0</div>
<div class="t" style="right:113px;top:22.5px;font-size:12.9px">0.00</div>
<div class="a" style="left:380.5px;top:19.0px;width:68.5px;height:19px;overflow:hidden"><div class="t" style="left:1px;top:3.5px;font-size:12.9px">114,357,849</div></div>
<div class="a" style="left:449.5px;top:19.0px;width:22.5px;height:19px;overflow:hidden"><div class="t" style="left:0.5px;top:3.5px;font-size:12.9px">386.37</div></div>
<div class="a" style="left:196.0px;top:38.9px;width:10.0px;height:17.5px;background:#3c5166"></div>
<div class="a" style="left:0;top:38.0px;width:138px;height:19px;overflow:hidden">
<svg class="a" style="left:42.2px;top:5px" width="10" height="8" viewBox="0 0 10 8"><path d="M1.3 2 L5 5.7 L8.7 2" fill="none" stroke="#b9bbbf" stroke-width="1.1"/></svg>
<svg class="a" style="left:57.2px;top:2.5px" width="14" height="14" viewBox="0 0 14 14"><circle cx="7" cy="7" r="5.9" fill="#3d2a2b" stroke="#d8514c" stroke-width="1.5"/><path d="M4.2 9.6 V5.6 M4.2 6.4 Q4.9 5 5.9 5 Q7 5 7 6.4 V9.6 M7 6.4 Q7.7 5 8.7 5 Q9.8 5 9.8 6.4 V9.6" fill="none" stroke="#e2625d" stroke-width="1.2"/></svg>
<div class="t" style="left:74.2px;top:3.7px;font-size:12.5px">__pthread_start</div>
</div>
<div class="a" style="left:138.0px;top:38.0px;width:69.5px;height:19px;overflow:hidden"><div class="t" style="left:1px;top:3.5px;font-size:12.9px">114,357,849</div></div>
<div class="t" style="right:234px;top:41.5px;font-size:12.9px">386.37</div>
<div class="t" style="right:164.5px;top:41.5px;font-size:12.9px">0</div>
<div class="t" style="right:113px;top:41.5px;font-size:12.9px">0.00</div>
<div class="a" style="left:380.5px;top:38.0px;width:68.5px;height:19px;overflow:hidden"><div class="t" style="left:1px;top:3.5px;font-size:12.9px">114,357,849</div></div>
<div class="a" style="left:449.5px;top:38.0px;width:22.5px;height:19px;overflow:hidden"><div class="t" style="left:0.5px;top:3.5px;font-size:12.9px">386.37</div></div>
<div class="a" style="left:201.2px;top:57.9px;width:4.8px;height:17.5px;background:#3c5166"></div>
<div class="a" style="left:0;top:57.0px;width:138px;height:19px;overflow:hidden">
<svg class="a" style="left:57.8px;top:5px" width="10" height="8" viewBox="0 0 10 8"><path d="M1.3 2 L5 5.7 L8.7 2" fill="none" stroke="#b9bbbf" stroke-width="1.1"/></svg>
<svg class="a" style="left:72.8px;top:2.5px" width="14" height="14" viewBox="0 0 14 14"><circle cx="7" cy="7" r="5.9" fill="#3d2a2b" stroke="#d8514c" stroke-width="1.5"/><path d="M4.2 9.6 V5.6 M4.2 6.4 Q4.9 5 5.9 5 Q7 5 7 6.4 V9.6 M7 6.4 Q7.7 5 8.7 5 Q9.8 5 9.8 6.4 V9.6" fill="none" stroke="#e2625d" stroke-width="1.2"/></svg>
<div class="t" style="left:89.8px;top:3.7px;font-size:12.5px">__thread</div>
</div>
<div class="a" style="left:138.0px;top:57.0px;width:69.5px;height:19px;overflow:hidden"><div class="t" style="left:1px;top:3.5px;font-size:12.9px">55,300,993</div></div>
<div class="t" style="right:234px;top:60.5px;font-size:12.9px">186.84</div>
<div class="t" style="right:164.5px;top:60.5px;font-size:12.9px">0</div>
<div class="t" style="right:113px;top:60.5px;font-size:12.9px">0.00</div>
<div class="a" style="left:380.5px;top:57.0px;width:68.5px;height:19px;overflow:hidden"><div class="t" style="left:1px;top:3.5px;font-size:12.9px">55,300,993</div></div>
<div class="a" style="left:449.5px;top:57.0px;width:22.5px;height:19px;overflow:hidden"><div class="t" style="left:0.5px;top:3.5px;font-size:12.9px">186.84</div></div>
<div class="a" style="left:201.2px;top:76.9px;width:4.8px;height:17.5px;background:#3c5166"></div>
<div class="a" style="left:0;top:76.0px;width:138px;height:19px;overflow:hidden">
<svg class="a" style="left:73.4px;top:5px" width="10" height="8" viewBox="0 0 10 8"><path d="M1.3 2 L5 5.7 L8.7 2" fill="none" stroke="#b9bbbf" stroke-width="1.1"/></svg>
<svg class="a" style="left:88.4px;top:2.5px" width="14" height="14" viewBox="0 0 14 14"><circle cx="7" cy="7" r="5.9" fill="#3d2a2b" stroke="#d8514c" stroke-width="1.5"/><path d="M4.2 9.6 V5.6 M4.2 6.4 Q4.9 5 5.9 5 Q7 5 7 6.4 V9.6 M7 6.4 Q7.7 5 8.7 5 Q9.8 5 9.8 6.4 V9.6" fill="none" stroke="#e2625d" stroke-width="1.2"/></svg>
<div class="t" style="left:105.4px;top:3.7px;font-size:12.5px">allocate</div>
</div>
<div class="a" style="left:138.0px;top:76.0px;width:69.5px;height:19px;overflow:hidden"><div class="t" style="left:1px;top:3.5px;font-size:12.9px">55,300,993</div></div>
<div class="t" style="right:234px;top:79.5px;font-size:12.9px">186.84</div>
<div class="t" style="right:164.5px;top:79.5px;font-size:12.9px">0</div>
<div class="t" style="right:113px;top:79.5px;font-size:12.9px">0.00</div>
<div class="a" style="left:380.5px;top:76.0px;width:68.5px;height:19px;overflow:hidden"><div class="t" style="left:1px;top:3.5px;font-size:12.9px">55,300,993</div></div>
<div class="a" style="left:449.5px;top:76.0px;width:22.5px;height:19px;overflow:hidden"><div class="t" style="left:0.5px;top:3.5px;font-size:12.9px">186.84</div></div>
<div class="a" style="left:201.2px;top:95.9px;width:4.8px;height:17.5px;background:#3c5166"></div>
<div class="a" style="left:0;top:95.0px;width:138px;height:19px;overflow:hidden">
<svg class="a" style="left:89.0px;top:5px" width="10" height="8" viewBox="0 0 10 8"><path d="M1.3 2 L5 5.7 L8.7 2" fill="none" stroke="#b9bbbf" stroke-width="1.1"/></svg>
<svg class="a" style="left:104.0px;top:2.5px" width="14" height="14" viewBox="0 0 14 14"><circle cx="7" cy="7" r="5.9" fill="#3d2a2b" stroke="#d8514c" stroke-width="1.5"/><path d="M4.2 9.6 V5.6 M4.2 6.4 Q4.9 5 5.9 5 Q7 5 7 6.4 V9.6 M7 6.4 Q7.7 5 8.7 5 Q9.8 5 9.8 6.4 V9.6" fill="none" stroke="#e2625d" stroke-width="1.2"/></svg>
<div class="t" style="left:121.0px;top:3.7px;font-size:12.5px">Graphics</div>
</div>
<div class="a" style="left:138.0px;top:95.0px;width:69.5px;height:19px;overflow:hidden"><div class="t" style="left:1px;top:3.5px;font-size:12.9px">55,300,822</div></div>
<div class="t" style="right:234px;top:98.5px;font-size:12.9px">186.84</div>
<div class="t" style="right:164.5px;top:98.5px;font-size:12.9px">0</div>
<div class="t" style="right:113px;top:98.5px;font-size:12.9px">0.00</div>
<div class="a" style="left:380.5px;top:95.0px;width:68.5px;height:19px;overflow:hidden"><div class="t" style="left:1px;top:3.5px;font-size:12.9px">55,300,822</div></div>
<div class="a" style="left:449.5px;top:95.0px;width:22.5px;height:19px;overflow:hidden"><div class="t" style="left:0.5px;top:3.5px;font-size:12.9px">186.84</div></div>
<div class="a" style="left:201.2px;top:114.9px;width:4.8px;height:17.5px;background:#3c5166"></div>
<div class="a" style="left:0;top:114.0px;width:138px;height:19px;overflow:hidden">
<svg class="a" style="left:104.6px;top:5px" width="10" height="8" viewBox="0 0 10 8"><path d="M1.3 2 L5 5.7 L8.7 2" fill="none" stroke="#b9bbbf" stroke-width="1.1"/></svg>
<svg class="a" style="left:119.6px;top:2.5px" width="14" height="14" viewBox="0 0 14 14"><circle cx="7" cy="7" r="5.9" fill="#3d2a2b" stroke="#d8514c" stroke-width="1.5"/><path d="M4.2 9.6 V5.6 M4.2 6.4 Q4.9 5 5.9 5 Q7 5 7 6.4 V9.6 M7 6.4 Q7.7 5 8.7 5 Q9.8 5 9.8 6.4 V9.6" fill="none" stroke="#e2625d" stroke-width="1.2"/></svg>
<div class="t" style="left:136.6px;top:3.7px;font-size:12.5px">i</div>
</div>
<div class="a" style="left:138.0px;top:114.0px;width:69.5px;height:19px;overflow:hidden"><div class="t" style="left:1px;top:3.5px;font-size:12.9px">55,300,822</div></div>
<div class="t" style="right:234px;top:117.5px;font-size:12.9px">186.84</div>
<div class="t" style="right:164.5px;top:117.5px;font-size:12.9px">0</div>
<div class="t" style="right:113px;top:117.5px;font-size:12.9px">0.00</div>
<div class="a" style="left:380.5px;top:114.0px;width:68.5px;height:19px;overflow:hidden"><div class="t" style="left:1px;top:3.5px;font-size:12.9px">55,300,822</div></div>
<div class="a" style="left:449.5px;top:114.0px;width:22.5px;height:19px;overflow:hidden"><div class="t" style="left:0.5px;top:3.5px;font-size:12.9px">186.84</div></div>
<div class="a" style="left:201.2px;top:133.9px;width:4.8px;height:17.5px;background:#3c5166"></div>
<div class="a" style="left:0;top:133.0px;width:138px;height:19px;overflow:hidden">
<svg class="a" style="left:120.2px;top:5px" width="10" height="8" viewBox="0 0 10 8"><path d="M1.3 2 L5 5.7 L8.7 2" fill="none" stroke="#b9bbbf" stroke-width="1.1"/></svg>
<svg class="a" style="left:135.2px;top:2.5px" width="14" height="14" viewBox="0 0 14 14"><circle cx="7" cy="7" r="5.9" fill="#3d2a2b" stroke="#d8514c" stroke-width="1.5"/><path d="M4.2 9.6 V5.6 M4.2 6.4 Q4.9 5 5.9 5 Q7 5 7 6.4 V9.6 M7 6.4 Q7.7 5 8.7 5 Q9.8 5 9.8 6.4 V9.6" fill="none" stroke="#e2625d" stroke-width="1.2"/></svg>
<div class="t" style="left:152.2px;top:3.7px;font-size:12.5px">(</div>
</div>
<div class="a" style="left:138.0px;top:133.0px;width:69.5px;height:19px;overflow:hidden"><div class="t" style="left:1px;top:3.5px;font-size:12.9px">55,300,822</div></div>
<div class="t" style="right:234px;top:136.5px;font-size:12.9px">186.84</div>
<div class="t" style="right:164.5px;top:136.5px;font-size:12.9px">0</div>
<div class="t" style="right:113px;top:136.5px;font-size:12.9px">0.00</div>
<div class="a" style="left:380.5px;top:133.0px;width:68.5px;height:19px;overflow:hidden"><div class="t" style="left:1px;top:3.5px;font-size:12.9px">55,300,822</div></div>
<div class="a" style="left:449.5px;top:133.0px;width:22.5px;height:19px;overflow:hidden"><div class="t" style="left:0.5px;top:3.5px;font-size:12.9px">186.84</div></div>
<div class="a" style="left:201.2px;top:152.9px;width:4.8px;height:17.5px;background:#3c5166"></div>
<div class="a" style="left:0;top:152.0px;width:138px;height:19px;overflow:hidden">
</div>
<div class="a" style="left:138.0px;top:152.0px;width:69.5px;height:19px;overflow:hidden"><div class="t" style="left:1px;top:3.5px;font-size:12.9px">55,300,822</div></div>
<div class="t" style="right:234px;top:155.5px;font-size:12.9px">186.84</div>
<div class="t" style="right:164.5px;top:155.5px;font-size:12.9px">0</div>
<div class="t" style="right:113px;top:155.5px;font-size:12.9px">0.00</div>
<div class="a" style="left:380.5px;top:152.0px;width:68.5px;height:19px;overflow:hidden"><div class="t" style="left:1px;top:3.5px;font-size:12.9px">55,300,822</div></div>
<div class="a" style="left:449.5px;top:152.0px;width:22.5px;height:19px;overflow:hidden"><div class="t" style="left:0.5px;top:3.5px;font-size:12.9px">186.84</div></div>
<div class="a" style="left:0;top:171.0px;width:138px;height:19px;overflow:hidden">
<svg class="a" style="left:90.5px;top:5px" width="8" height="10" viewBox="0 0 8 10"><path d="M2 1.3 L5.7 5 L2 8.7" fill="none" stroke="#b9bbbf" stroke-width="1.1"/></svg>
<svg class="a" style="left:104.0px;top:2.5px" width="14" height="14" viewBox="0 0 14 14"><circle cx="7" cy="7" r="5.9" fill="#3d2a2b" stroke="#d8514c" stroke-width="1.5"/><path d="M4.2 9.6 V5.6 M4.2 6.4 Q4.9 5 5.9 5 Q7 5 7 6.4 V9.6 M7 6.4 Q7.7 5 8.7 5 Q9.8 5 9.8 6.4 V9.6" fill="none" stroke="#e2625d" stroke-width="1.2"/></svg>
<div class="t" style="left:121.0px;top:3.7px;font-size:12.5px">wait</div>
</div>
<div class="t" style="right:286.0px;top:174.5px;font-size:12.9px">89</div>
<div class="t" style="right:234px;top:174.5px;font-size:12.9px">0.00</div>
<div class="t" style="right:164.5px;top:174.5px;font-size:12.9px">0</div>
<div class="t" style="right:113px;top:174.5px;font-size:12.9px">0.00</div>
<div class="t" style="right:44.0px;top:174.5px;font-size:12.9px">89</div>
<div class="a" style="left:449.5px;top:171.0px;width:22.5px;height:19px;overflow:hidden"><div class="t" style="left:0.5px;top:3.5px;font-size:12.9px">0.00</div></div>
<div class="a" style="left:0;top:190.0px;width:138px;height:19px;overflow:hidden">
<svg class="a" style="left:90.5px;top:5px" width="8" height="10" viewBox="0 0 8 10"><path d="M2 1.3 L5.7 5 L2 8.7" fill="none" stroke="#b9bbbf" stroke-width="1.1"/></svg>
<svg class="a" style="left:104.0px;top:2.5px" width="14" height="14" viewBox="0 0 14 14"><circle cx="7" cy="7" r="5.9" fill="#3d2a2b" stroke="#d8514c" stroke-width="1.5"/><path d="M4.2 9.6 V5.6 M4.2 6.4 Q4.9 5 5.9 5 Q7 5 7 6.4 V9.6 M7 6.4 Q7.7 5 8.7 5 Q9.8 5 9.8 6.4 V9.6" fill="none" stroke="#e2625d" stroke-width="1.2"/></svg>
<div class="t" style="left:121.0px;top:3.7px;font-size:12.5px">[kernel]</div>
</div>
<div class="t" style="right:286.0px;top:193.5px;font-size:12.9px">82</div>
<div class="t" style="right:234px;top:193.5px;font-size:12.9px">0.00</div>
<div class="t" style="right:164.5px;top:193.5px;font-size:12.9px">0</div>
<div class="t" style="right:113px;top:193.5px;font-size:12.9px">0.00</div>
<div class="t" style="right:44.0px;top:193.5px;font-size:12.9px">82</div>
<div class="a" style="left:449.5px;top:190.0px;width:22.5px;height:19px;overflow:hidden"><div class="t" style="left:0.5px;top:3.5px;font-size:12.9px">0.00</div></div>
<div class="a" style="left:203.4px;top:209.9px;width:2.6px;height:17.5px;background:#3c5166"></div>
<div class="a" style="left:0;top:209.0px;width:138px;height:19px;overflow:hidden">
<svg class="a" style="left:59.3px;top:5px" width="8" height="10" viewBox="0 0 8 10"><path d="M2 1.3 L5.7 5 L2 8.7" fill="none" stroke="#b9bbbf" stroke-width="1.1"/></svg>
<svg class="a" style="left:72.8px;top:2.5px" width="14" height="14" viewBox="0 0 14 14"><circle cx="7" cy="7" r="5.9" fill="#3d2a2b" stroke="#d8514c" stroke-width="1.5"/><path d="M4.2 9.6 V5.6 M4.2 6.4 Q4.9 5 5.9 5 Q7 5 7 6.4 V9.6 M7 6.4 Q7.7 5 8.7 5 Q9.8 5 9.8 6.4 V9.6" fill="none" stroke="#e2625d" stroke-width="1.2"/></svg>
<div class="t" style="left:89.8px;top:3.7px;font-size:12.5px">_threadLoop</div>
</div>
<div class="a" style="left:138.0px;top:209.0px;width:69.5px;height:19px;overflow:hidden"><div class="t" style="left:1px;top:3.5px;font-size:12.9px">29,597,660</div></div>
<div class="t" style="right:234px;top:212.5px;font-size:12.9px">100.00</div>
<div class="t" style="right:164.5px;top:212.5px;font-size:12.9px">0</div>
<div class="t" style="right:113px;top:212.5px;font-size:12.9px">0.00</div>
<div class="a" style="left:380.5px;top:209.0px;width:68.5px;height:19px;overflow:hidden"><div class="t" style="left:1px;top:3.5px;font-size:12.9px">29,597,660</div></div>
<div class="a" style="left:449.5px;top:209.0px;width:22.5px;height:19px;overflow:hidden"><div class="t" style="left:0.5px;top:3.5px;font-size:12.9px">100.00</div></div>
<div class="a" style="left:203.4px;top:228.9px;width:2.6px;height:17.5px;background:#3c5166"></div>
<div class="a" style="left:0;top:228.0px;width:138px;height:19px;overflow:hidden">
<svg class="a" style="left:59.3px;top:5px" width="8" height="10" viewBox="0 0 8 10"><path d="M2 1.3 L5.7 5 L2 8.7" fill="none" stroke="#b9bbbf" stroke-width="1.1"/></svg>
<svg class="a" style="left:72.8px;top:2.5px" width="14" height="14" viewBox="0 0 14 14"><circle cx="7" cy="7" r="5.9" fill="#3d2a2b" stroke="#d8514c" stroke-width="1.5"/><path d="M4.2 9.6 V5.6 M4.2 6.4 Q4.9 5 5.9 5 Q7 5 7 6.4 V9.6 M7 6.4 Q7.7 5 8.7 5 Q9.8 5 9.8 6.4 V9.6" fill="none" stroke="#e2625d" stroke-width="1.2"/></svg>
<div class="t" style="left:89.8px;top:3.7px;font-size:12.5px">__thread</div>
</div>
<div class="a" style="left:138.0px;top:228.0px;width:69.5px;height:19px;overflow:hidden"><div class="t" style="left:1px;top:3.5px;font-size:12.9px">29,459,196</div></div>
<div class="t" style="right:234px;top:231.5px;font-size:12.9px">99.53</div>
<div class="t" style="right:164.5px;top:231.5px;font-size:12.9px">0</div>
<div class="t" style="right:113px;top:231.5px;font-size:12.9px">0.00</div>
<div class="a" style="left:380.5px;top:228.0px;width:68.5px;height:19px;overflow:hidden"><div class="t" style="left:1px;top:3.5px;font-size:12.9px">29,459,196</div></div>
<div class="a" style="left:449.5px;top:228.0px;width:22.5px;height:19px;overflow:hidden"><div class="t" style="left:0.5px;top:3.5px;font-size:12.9px">99.53</div></div>
<div class="a" style="left:200.8px;top:247.9px;width:5.2px;height:17.5px;background:#3c5166"></div>
<div class="a" style="left:0;top:247.0px;width:138px;height:19px;overflow:hidden">
<svg class="a" style="left:12.5px;top:5px" width="8" height="10" viewBox="0 0 8 10"><path d="M2 1.3 L5.7 5 L2 8.7" fill="none" stroke="#b9bbbf" stroke-width="1.1"/></svg>
<svg class="a" style="left:26.0px;top:2.5px" width="14" height="14" viewBox="0 0 14 14"><circle cx="7" cy="7" r="5.9" fill="#3d2a2b" stroke="#d8514c" stroke-width="1.5"/><path d="M4.2 9.6 V5.6 M4.2 6.4 Q4.9 5 5.9 5 Q7 5 7 6.4 V9.6 M7 6.4 Q7.7 5 8.7 5 Q9.8 5 9.8 6.4 V9.6" fill="none" stroke="#e2625d" stroke-width="1.2"/></svg>
<div class="t" style="left:43.0px;top:3.7px;font-size:12.5px">binder:16862_4()</div>
</div>
<div class="a" style="left:138.0px;top:247.0px;width:69.5px;height:19px;overflow:hidden"><div class="t" style="left:1px;top:3.5px;font-size:12.9px">58,907,182</div></div>
<div class="t" style="right:234px;top:250.5px;font-size:12.9px">199.03</div>
<div class="t" style="right:164.5px;top:250.5px;font-size:12.9px">0</div>
<div class="t" style="right:113px;top:250.5px;font-size:12.9px">0.00</div>
<div class="a" style="left:380.5px;top:247.0px;width:68.5px;height:19px;overflow:hidden"><div class="t" style="left:1px;top:3.5px;font-size:12.9px">58,907,182</div></div>
<div class="a" style="left:449.5px;top:247.0px;width:22.5px;height:19px;overflow:hidden"><div class="t" style="left:0.5px;top:3.5px;font-size:12.9px">199.03</div></div>
<div class="a" style="left:203.4px;top:266.9px;width:2.6px;height:17.5px;background:#3c5166"></div>
<div class="a" style="left:0;top:266.0px;width:138px;height:19px;overflow:hidden">
<svg class="a" style="left:12.5px;top:5px" width="8" height="10" viewBox="0 0 8 10"><path d="M2 1.3 L5.7 5 L2 8.7" fill="none" stroke="#b9bbbf" stroke-width="1.1"/></svg>
<svg class="a" style="left:26.0px;top:2.5px" width="14" height="14" viewBox="0 0 14 14"><circle cx="7" cy="7" r="5.9" fill="#3d2a2b" stroke="#d8514c" stroke-width="1.5"/><path d="M4.2 9.6 V5.6 M4.2 6.4 Q4.9 5 5.9 5 Q7 5 7 6.4 V9.6 M7 6.4 Q7.7 5 8.7 5 Q9.8 5 9.8 6.4 V9.6" fill="none" stroke="#e2625d" stroke-width="1.2"/></svg>
<div class="t" style="left:43.0px;top:3.7px;font-size:12.5px">android.com.java</div>
</div>
<div class="a" style="left:138.0px;top:266.0px;width:69.5px;height:19px;overflow:hidden"><div class="t" style="left:1px;top:3.5px;font-size:12.9px">29,597,660</div></div>
<div class="t" style="right:234px;top:269.5px;font-size:12.9px">100.00</div>
<div class="t" style="right:164.5px;top:269.5px;font-size:12.9px">0</div>
<div class="t" style="right:113px;top:269.5px;font-size:12.9px">0.00</div>
<div class="a" style="left:380.5px;top:266.0px;width:68.5px;height:19px;overflow:hidden"><div class="t" style="left:1px;top:3.5px;font-size:12.9px">29,597,660</div></div>
<div class="a" style="left:449.5px;top:266.0px;width:22.5px;height:19px;overflow:hidden"><div class="t" style="left:0.5px;top:3.5px;font-size:12.9px">100.00</div></div>
<div class="a" style="left:203.4px;top:285.9px;width:2.6px;height:17.5px;background:#3c5166"></div>
<div class="a" style="left:0;top:285.0px;width:138px;height:19px;overflow:hidden">
<svg class="a" style="left:12.5px;top:5px" width="8" height="10" viewBox="0 0 8 10"><path d="M2 1.3 L5.7 5 L2 8.7" fill="none" stroke="#b9bbbf" stroke-width="1.1"/></svg>
<svg class="a" style="left:26.0px;top:2.5px" width="14" height="14" viewBox="0 0 14 14"><circle cx="7" cy="7" r="5.9" fill="#3d2a2b" stroke="#d8514c" stroke-width="1.5"/><path d="M4.2 9.6 V5.6 M4.2 6.4 Q4.9 5 5.9 5 Q7 5 7 6.4 V9.6 M7 6.4 Q7.7 5 8.7 5 Q9.8 5 9.8 6.4 V9.6" fill="none" stroke="#e2625d" stroke-width="1.2"/></svg>
<div class="t" style="left:43.0px;top:3.7px;font-size:12.5px">Jit thread pool()</div>
</div>
<div class="a" style="left:138.0px;top:285.0px;width:69.5px;height:19px;overflow:hidden"><div class="t" style="left:1px;top:3.5px;font-size:12.9px">29,587,555</div></div>
<div class="t" style="right:234px;top:288.5px;font-size:12.9px">99.97</div>
<div class="t" style="right:164.5px;top:288.5px;font-size:12.9px">0</div>
<div class="t" style="right:113px;top:288.5px;font-size:12.9px">0.00</div>
<div class="a" style="left:380.5px;top:285.0px;width:68.5px;height:19px;overflow:hidden"><div class="t" style="left:1px;top:3.5px;font-size:12.9px">29,587,555</div></div>
<div class="a" style="left:449.5px;top:285.0px;width:22.5px;height:19px;overflow:hidden"><div class="t" style="left:0.5px;top:3.5px;font-size:12.9px">99.97</div></div>
<div class="a" style="left:203.4px;top:304.9px;width:2.6px;height:17.5px;background:#3c5166"></div>
<div class="a" style="left:0;top:304.0px;width:138px;height:19px;overflow:hidden">
<svg class="a" style="left:12.5px;top:5px" width="8" height="10" viewBox="0 0 8 10"><path d="M2 1.3 L5.7 5 L2 8.7" fill="none" stroke="#b9bbbf" stroke-width="1.1"/></svg>
<svg class="a" style="left:26.0px;top:2.5px" width="14" height="14" viewBox="0 0 14 14"><circle cx="7" cy="7" r="5.9" fill="#3d2a2b" stroke="#d8514c" stroke-width="1.5"/><path d="M4.2 9.6 V5.6 M4.2 6.4 Q4.9 5 5.9 5 Q7 5 7 6.4 V9.6 M7 6.4 Q7.7 5 8.7 5 Q9.8 5 9.8 6.4 V9.6" fill="none" stroke="#e2625d" stroke-width="1.2"/></svg>
<div class="t" style="left:43.0px;top:3.7px;font-size:12.5px">binder:16862_3()</div>
</div>
<div class="a" style="left:138.0px;top:304.0px;width:69.5px;height:19px;overflow:hidden"><div class="t" style="left:1px;top:3.5px;font-size:12.9px">29,546,829</div></div>
<div class="t" style="right:234px;top:307.5px;font-size:12.9px">99.83</div>
<div class="t" style="right:164.5px;top:307.5px;font-size:12.9px">0</div>
<div class="t" style="right:113px;top:307.5px;font-size:12.9px">0.00</div>
<div class="a" style="left:380.5px;top:304.0px;width:68.5px;height:19px;overflow:hidden"><div class="t" style="left:1px;top:3.5px;font-size:12.9px">29,546,829</div></div>
<div class="a" style="left:449.5px;top:304.0px;width:22.5px;height:19px;overflow:hidden"><div class="t" style="left:0.5px;top:3.5px;font-size:12.9px">99.83</div></div>
<div class="a" style="left:203.4px;top:323.9px;width:2.6px;height:17.5px;background:#3c5166"></div>
<div class="a" style="left:0;top:323.0px;width:138px;height:19px;overflow:hidden">
<svg class="a" style="left:12.5px;top:5px" width="8" height="10" viewBox="0 0 8 10"><path d="M2 1.3 L5.7 5 L2 8.7" fill="none" stroke="#b9bbbf" stroke-width="1.1"/></svg>
<svg class="a" style="left:26.0px;top:2.5px" width="14" height="14" viewBox="0 0 14 14"><circle cx="7" cy="7" r="5.9" fill="#3d2a2b" stroke="#d8514c" stroke-width="1.5"/><path d="M4.2 9.6 V5.6 M4.2 6.4 Q4.9 5 5.9 5 Q7 5 7 6.4 V9.6 M7 6.4 Q7.7 5 8.7 5 Q9.8 5 9.8 6.4 V9.6" fill="none" stroke="#e2625d" stroke-width="1.2"/></svg>
<div class="t" style="left:43.0px;top:3.7px;font-size:12.5px">hwuiTask0() <span style="color:#7b7e83">()</span></div>
</div>
<div class="a" style="left:138.0px;top:323.0px;width:69.5px;height:19px;overflow:hidden"><div class="t" style="left:1px;top:3.5px;font-size:12.9px">29,541,554</div></div>
<div class="t" style="right:234px;top:326.5px;font-size:12.9px">99.81</div>
<div class="t" style="right:164.5px;top:326.5px;font-size:12.9px">0</div>
<div class="t" style="right:113px;top:326.5px;font-size:12.9px">0.00</div>
<div class="a" style="left:380.5px;top:323.0px;width:68.5px;height:19px;overflow:hidden"><div class="t" style="left:1px;top:3.5px;font-size:12.9px">29,541,554</div></div>
<div class="a" style="left:449.5px;top:323.0px;width:22.5px;height:19px;overflow:hidden"><div class="t" style="left:0.5px;top:3.5px;font-size:12.9px">99.81</div></div>
<div class="a" style="left:203.4px;top:342.9px;width:2.6px;height:17.5px;background:#3c5166"></div>
<div class="a" style="left:0;top:342.0px;width:138px;height:19px;overflow:hidden">
<svg class="a" style="left:12.5px;top:5px" width="8" height="10" viewBox="0 0 8 10"><path d="M2 1.3 L5.7 5 L2 8.7" fill="none" stroke="#b9bbbf" stroke-width="1.1"/></svg>
<svg class="a" style="left:26.0px;top:2.5px" width="14" height="14" viewBox="0 0 14 14"><circle cx="7" cy="7" r="5.9" fill="#3d2a2b" stroke="#d8514c" stroke-width="1.5"/><path d="M4.2 9.6 V5.6 M4.2 6.4 Q4.9 5 5.9 5 Q7 5 7 6.4 V9.6 M7 6.4 Q7.7 5 8.7 5 Q9.8 5 9.8 6.4 V9.6" fill="none" stroke="#e2625d" stroke-width="1.2"/></svg>
<div class="t" style="left:43.0px;top:3.7px;font-size:12.5px">hwuiTask1() <span style="color:#7b7e83">()</span></div>
</div>
<div class="a" style="left:138.0px;top:342.0px;width:69.5px;height:19px;overflow:hidden"><div class="t" style="left:1px;top:3.5px;font-size:12.9px">29,537,796</div></div>
<div class="t" style="right:234px;top:345.5px;font-size:12.9px">99.80</div>
<div class="t" style="right:164.5px;top:345.5px;font-size:12.9px">0</div>
<div class="t" style="right:113px;top:345.5px;font-size:12.9px">0.00</div>
<div class="a" style="left:380.5px;top:342.0px;width:68.5px;height:19px;overflow:hidden"><div class="t" style="left:1px;top:3.5px;font-size:12.9px">29,537,796</div></div>
<div class="a" style="left:449.5px;top:342.0px;width:22.5px;height:19px;overflow:hidden"><div class="t" style="left:0.5px;top:3.5px;font-size:12.9px">99.80</div></div>
<div class="a" style="left:203.4px;top:361.9px;width:2.6px;height:17.5px;background:#3c5166"></div>
<div class="a" style="left:0;top:361.0px;width:138px;height:19px;overflow:hidden">
<svg class="a" style="left:12.5px;top:5px" width="8" height="10" viewBox="0 0 8 10"><path d="M2 1.3 L5.7 5 L2 8.7" fill="none" stroke="#b9bbbf" stroke-width="1.1"/></svg>
<svg class="a" style="left:26.0px;top:2.5px" width="14" height="14" viewBox="0 0 14 14"><circle cx="7" cy="7" r="5.9" fill="#3d2a2b" stroke="#d8514c" stroke-width="1.5"/><path d="M4.2 9.6 V5.6 M4.2 6.4 Q4.9 5 5.9 5 Q7 5 7 6.4 V9.6 M7 6.4 Q7.7 5 8.7 5 Q9.8 5 9.8 6.4 V9.6" fill="none" stroke="#e2625d" stroke-width="1.2"/></svg>
<div class="t" style="left:43.0px;top:3.7px;font-size:12.5px">AsyncTask #1() <span style="color:#7b7e83">(</span></div>
</div>
<div class="a" style="left:138.0px;top:361.0px;width:69.5px;height:19px;overflow:hidden"><div class="t" style="left:1px;top:3.5px;font-size:12.9px">29,518,019</div></div>
<div class="t" style="right:234px;top:364.5px;font-size:12.9px">99.73</div>
<div class="t" style="right:164.5px;top:364.5px;font-size:12.9px">0</div>
<div class="t" style="right:113px;top:364.5px;font-size:12.9px">0.00</div>
<div class="a" style="left:380.5px;top:361.0px;width:68.5px;height:19px;overflow:hidden"><div class="t" style="left:1px;top:3.5px;font-size:12.9px">29,518,019</div></div>
<div class="a" style="left:449.5px;top:361.0px;width:22.5px;height:19px;overflow:hidden"><div class="t" style="left:0.5px;top:3.5px;font-size:12.9px">99.73</div></div>
<div class="a" style="left:203.4px;top:380.9px;width:2.6px;height:17.5px;background:#3c5166"></div>
<div class="a" style="left:0;top:380.0px;width:138px;height:19px;overflow:hidden">
<svg class="a" style="left:12.5px;top:5px" width="8" height="10" viewBox="0 0 8 10"><path d="M2 1.3 L5.7 5 L2 8.7" fill="none" stroke="#b9bbbf" stroke-width="1.1"/></svg>
<svg class="a" style="left:26.0px;top:2.5px" width="14" height="14" viewBox="0 0 14 14"><circle cx="7" cy="7" r="5.9" fill="#3d2a2b" stroke="#d8514c" stroke-width="1.5"/><path d="M4.2 9.6 V5.6 M4.2 6.4 Q4.9 5 5.9 5 Q7 5 7 6.4 V9.6 M7 6.4 Q7.7 5 8.7 5 Q9.8 5 9.8 6.4 V9.6" fill="none" stroke="#e2625d" stroke-width="1.2"/></svg>
<div class="t" style="left:43.0px;top:3.7px;font-size:12.5px">mali-mem-purge</div>
</div>
<div class="a" style="left:138.0px;top:380.0px;width:69.5px;height:19px;overflow:hidden"><div class="t" style="left:1px;top:3.5px;font-size:12.9px">29,499,514</div></div>
<div class="t" style="right:234px;top:383.5px;font-size:12.9px">99.67</div>
<div class="t" style="right:164.5px;top:383.5px;font-size:12.9px">0</div>
<div class="t" style="right:113px;top:383.5px;font-size:12.9px">0.00</div>
<div class="a" style="left:380.5px;top:380.0px;width:68.5px;height:19px;overflow:hidden"><div class="t" style="left:1px;top:3.5px;font-size:12.9px">29,499,514</div></div>
<div class="a" style="left:449.5px;top:380.0px;width:22.5px;height:19px;overflow:hidden"><div class="t" style="left:0.5px;top:3.5px;font-size:12.9px">99.67</div></div>
<div class="a" style="left:203.4px;top:399.9px;width:2.6px;height:17.5px;background:#3c5166"></div>
<div class="a" style="left:0;top:399.0px;width:138px;height:19px;overflow:hidden">
<svg class="a" style="left:12.5px;top:5px" width="8" height="10" viewBox="0 0 8 10"><path d="M2 1.3 L5.7 5 L2 8.7" fill="none" stroke="#b9bbbf" stroke-width="1.1"/></svg>
<svg class="a" style="left:26.0px;top:2.5px" width="14" height="14" viewBox="0 0 14 14"><circle cx="7" cy="7" r="5.9" fill="#3d2a2b" stroke="#d8514c" stroke-width="1.5"/><path d="M4.2 9.6 V5.6 M4.2 6.4 Q4.9 5 5.9 5 Q7 5 7 6.4 V9.6 M7 6.4 Q7.7 5 8.7 5 Q9.8 5 9.8 6.4 V9.6" fill="none" stroke="#e2625d" stroke-width="1.2"/></svg>
<div class="t" style="left:43.0px;top:3.7px;font-size:12.5px">AsyncTask #2() <span style="color:#7b7e83">(</span></div>
</div>
<div class="a" style="left:138.0px;top:399.0px;width:69.5px;height:19px;overflow:hidden"><div class="t" style="left:1px;top:3.5px;font-size:12.9px">29,499,032</div></div>
<div class="t" style="right:234px;top:402.5px;font-size:12.9px">99.67</div>
<div class="t" style="right:164.5px;top:402.5px;font-size:12.9px">0</div>
<div class="t" style="right:113px;top:402.5px;font-size:12.9px">0.00</div>
<div class="a" style="left:380.5px;top:399.0px;width:68.5px;height:19px;overflow:hidden"><div class="t" style="left:1px;top:3.5px;font-size:12.9px">29,499,032</div></div>
<div class="a" style="left:449.5px;top:399.0px;width:22.5px;height:19px;overflow:hidden"><div class="t" style="left:0.5px;top:3.5px;font-size:12.9px">99.67</div></div>
<div class="a" style="left:203.4px;top:418.9px;width:2.6px;height:17.5px;background:#3c5166"></div>
<div class="a" style="left:0;top:418.0px;width:138px;height:19px;overflow:hidden">
<svg class="a" style="left:12.5px;top:5px" width="8" height="10" viewBox="0 0 8 10"><path d="M2 1.3 L5.7 5 L2 8.7" fill="none" stroke="#b9bbbf" stroke-width="1.1"/></svg>
<svg class="a" style="left:26.0px;top:2.5px" width="14" height="14" viewBox="0 0 14 14"><circle cx="7" cy="7" r="5.9" fill="#3d2a2b" stroke="#d8514c" stroke-width="1.5"/><path d="M4.2 9.6 V5.6 M4.2 6.4 Q4.9 5 5.9 5 Q7 5 7 6.4 V9.6 M7 6.4 Q7.7 5 8.7 5 Q9.8 5 9.8 6.4 V9.6" fill="none" stroke="#e2625d" stroke-width="1.2"/></svg>
<div class="t" style="left:43.0px;top:3.7px;font-size:12.5px">binder:16862_1()</div>
</div>
<div class="a" style="left:138.0px;top:418.0px;width:69.5px;height:19px;overflow:hidden"><div class="t" style="left:1px;top:3.5px;font-size:12.9px">29,490,858</div></div>
<div class="t" style="right:234px;top:421.5px;font-size:12.9px">99.64</div>
<div class="t" style="right:164.5px;top:421.5px;font-size:12.9px">0</div>
<div class="t" style="right:113px;top:421.5px;font-size:12.9px">0.00</div>
<div class="a" style="left:380.5px;top:418.0px;width:68.5px;height:19px;overflow:hidden"><div class="t" style="left:1px;top:3.5px;font-size:12.9px">29,490,858</div></div>
<div class="a" style="left:449.5px;top:418.0px;width:22.5px;height:19px;overflow:hidden"><div class="t" style="left:0.5px;top:3.5px;font-size:12.9px">99.64</div></div>
<div class="a" style="left:203.4px;top:437.9px;width:2.6px;height:17.5px;background:#3c5166"></div>
<div class="a" style="left:0;top:437.0px;width:138px;height:19px;overflow:hidden">
<svg class="a" style="left:12.5px;top:5px" width="8" height="10" viewBox="0 0 8 10"><path d="M2 1.3 L5.7 5 L2 8.7" fill="none" stroke="#b9bbbf" stroke-width="1.1"/></svg>
<svg class="a" style="left:26.0px;top:2.5px" width="14" height="14" viewBox="0 0 14 14"><circle cx="7" cy="7" r="5.9" fill="#3d2a2b" stroke="#d8514c" stroke-width="1.5"/><path d="M4.2 9.6 V5.6 M4.2 6.4 Q4.9 5 5.9 5 Q7 5 7 6.4 V9.6 M7 6.4 Q7.7 5 8.7 5 Q9.8 5 9.8 6.4 V9.6" fill="none" stroke="#e2625d" stroke-width="1.2"/></svg>
<div class="t" style="left:43.0px;top:3.7px;font-size:12.5px">binder:16862_2()</div>
</div>
<div class="a" style="left:138.0px;top:437.0px;width:69.5px;height:19px;overflow:hidden"><div class="t" style="left:1px;top:3.5px;font-size:12.9px">29,490,489</div></div>
<div class="t" style="right:234px;top:440.5px;font-size:12.9px">99.64</div>
<div class="t" style="right:164.5px;top:440.5px;font-size:12.9px">0</div>
<div class="t" style="right:113px;top:440.5px;font-size:12.9px">0.00</div>
<div class="a" style="left:380.5px;top:437.0px;width:68.5px;height:19px;overflow:hidden"><div class="t" style="left:1px;top:3.5px;font-size:12.9px">29,490,489</div></div>
<div class="a" style="left:449.5px;top:437.0px;width:22.5px;height:19px;overflow:hidden"><div class="t" style="left:0.5px;top:3.5px;font-size:12.9px">99.64</div></div>
<div class="a" style="left:203.4px;top:456.9px;width:2.6px;height:17.5px;background:#3c5166"></div>
<div class="a" style="left:0;top:456.0px;width:138px;height:19px;overflow:hidden">
<svg class="a" style="left:12.5px;top:5px" width="8" height="10" viewBox="0 0 8 10"><path d="M2 1.3 L5.7 5 L2 8.7" fill="none" stroke="#b9bbbf" stroke-width="1.1"/></svg>
<svg class="a" style="left:26.0px;top:2.5px" width="14" height="14" viewBox="0 0 14 14"><circle cx="7" cy="7" r="5.9" fill="#3d2a2b" stroke="#d8514c" stroke-width="1.5"/><path d="M4.2 9.6 V5.6 M4.2 6.4 Q4.9 5 5.9 5 Q7 5 7 6.4 V9.6 M7 6.4 Q7.7 5 8.7 5 Q9.8 5 9.8 6.4 V9.6" fill="none" stroke="#e2625d" stroke-width="1.2"/></svg>
<div class="t" style="left:43.0px;top:3.7px;font-size:12.5px">SurfaceSyncGroup</div>
</div>
<div class="a" style="left:138.0px;top:456.0px;width:69.5px;height:19px;overflow:hidden"><div class="t" style="left:1px;top:3.5px;font-size:12.9px">29,489,959</div></div>
<div class="t" style="right:234px;top:459.5px;font-size:12.9px">99.64</div>
<div class="t" style="right:164.5px;top:459.5px;font-size:12.9px">0</div>
<div class="t" style="right:113px;top:459.5px;font-size:12.9px">0.00</div>
<div class="a" style="left:380.5px;top:456.0px;width:68.5px;height:19px;overflow:hidden"><div class="t" style="left:1px;top:3.5px;font-size:12.9px">29,489,959</div></div>
<div class="a" style="left:449.5px;top:456.0px;width:22.5px;height:19px;overflow:hidden"><div class="t" style="left:0.5px;top:3.5px;font-size:12.9px">99.64</div></div>
<div class="a" style="left:203.4px;top:475.9px;width:2.6px;height:17.5px;background:#3c5166"></div>
<div class="a" style="left:0;top:475.0px;width:138px;height:19px;overflow:hidden">
<svg class="a" style="left:12.5px;top:5px" width="8" height="10" viewBox="0 0 8 10"><path d="M2 1.3 L5.7 5 L2 8.7" fill="none" stroke="#b9bbbf" stroke-width="1.1"/></svg>
<svg class="a" style="left:26.0px;top:2.5px" width="14" height="14" viewBox="0 0 14 14"><circle cx="7" cy="7" r="5.9" fill="#3d2a2b" stroke="#d8514c" stroke-width="1.5"/><path d="M4.2 9.6 V5.6 M4.2 6.4 Q4.9 5 5.9 5 Q7 5 7 6.4 V9.6 M7 6.4 Q7.7 5 8.7 5 Q9.8 5 9.8 6.4 V9.6" fill="none" stroke="#e2625d" stroke-width="1.2"/></svg>
<div class="t" style="left:43.0px;top:3.7px;font-size:12.5px">mali-event-handler</div>
</div>
<div class="a" style="left:138.0px;top:475.0px;width:69.5px;height:19px;overflow:hidden"><div class="t" style="left:1px;top:3.5px;font-size:12.9px">29,460,003</div></div>
<div class="t" style="right:234px;top:478.5px;font-size:12.9px">99.53</div>
<div class="t" style="right:164.5px;top:478.5px;font-size:12.9px">0</div>
<div class="t" style="right:113px;top:478.5px;font-size:12.9px">0.00</div>
<div class="a" style="left:380.5px;top:475.0px;width:68.5px;height:19px;overflow:hidden"><div class="t" style="left:1px;top:3.5px;font-size:12.9px">29,460,003</div></div>
<div class="a" style="left:449.5px;top:475.0px;width:22.5px;height:19px;overflow:hidden"><div class="t" style="left:0.5px;top:3.5px;font-size:12.9px">99.53</div></div>
<div class="a" style="left:203.6px;top:494.9px;width:2.4px;height:17.5px;background:#3c5166"></div>
<div class="a" style="left:0;top:494.0px;width:138px;height:19px;overflow:hidden">
<svg class="a" style="left:12.5px;top:5px" width="8" height="10" viewBox="0 0 8 10"><path d="M2 1.3 L5.7 5 L2 8.7" fill="none" stroke="#b9bbbf" stroke-width="1.1"/></svg>
<svg class="a" style="left:26.0px;top:2.5px" width="14" height="14" viewBox="0 0 14 14"><circle cx="7" cy="7" r="5.9" fill="#3d2a2b" stroke="#d8514c" stroke-width="1.5"/><path d="M4.2 9.6 V5.6 M4.2 6.4 Q4.9 5 5.9 5 Q7 5 7 6.4 V9.6 M7 6.4 Q7.7 5 8.7 5 Q9.8 5 9.8 6.4 V9.6" fill="none" stroke="#e2625d" stroke-width="1.2"/></svg>
<div class="t" style="left:43.0px;top:3.7px;font-size:12.5px">HeapTaskDaemon</div>
</div>
<div class="a" style="left:138.0px;top:494.0px;width:69.5px;height:19px;overflow:hidden"><div class="t" style="left:1px;top:3.5px;font-size:12.9px">27,758,136</div></div>
<div class="t" style="right:234px;top:497.5px;font-size:12.9px">93.78</div>
<div class="t" style="right:164.5px;top:497.5px;font-size:12.9px">0</div>
<div class="t" style="right:113px;top:497.5px;font-size:12.9px">0.00</div>
<div class="a" style="left:380.5px;top:494.0px;width:68.5px;height:19px;overflow:hidden"><div class="t" style="left:1px;top:3.5px;font-size:12.9px">27,758,136</div></div>
<div class="a" style="left:449.5px;top:494.0px;width:22.5px;height:19px;overflow:hidden"><div class="t" style="left:0.5px;top:3.5px;font-size:12.9px">93.78</div></div>
<div class="a" style="left:203.8px;top:513.9px;width:2.2px;height:17.5px;background:#3c5166"></div>
<div class="a" style="left:0;top:513.0px;width:138px;height:19px;overflow:hidden">
<svg class="a" style="left:12.5px;top:5px" width="8" height="10" viewBox="0 0 8 10"><path d="M2 1.3 L5.7 5 L2 8.7" fill="none" stroke="#b9bbbf" stroke-width="1.1"/></svg>
<svg class="a" style="left:26.0px;top:2.5px" width="14" height="14" viewBox="0 0 14 14"><circle cx="7" cy="7" r="5.9" fill="#3d2a2b" stroke="#d8514c" stroke-width="1.5"/><path d="M4.2 9.6 V5.6 M4.2 6.4 Q4.9 5 5.9 5 Q7 5 7 6.4 V9.6 M7 6.4 Q7.7 5 8.7 5 Q9.8 5 9.8 6.4 V9.6" fill="none" stroke="#e2625d" stroke-width="1.2"/></svg>
<div class="t" style="left:43.0px;top:3.7px;font-size:12.5px">Profile Saver() <span style="color:#7b7e83">()</span></div>
</div>
<div class="a" style="left:138.0px;top:513.0px;width:69.5px;height:19px;overflow:hidden"><div class="t" style="left:1px;top:3.5px;font-size:12.9px">24,756,993</div></div>
<div class="t" style="right:234px;top:516.5px;font-size:12.9px">83.65</div>
<div class="t" style="right:164.5px;top:516.5px;font-size:12.9px">0</div>
<div class="t" style="right:113px;top:516.5px;font-size:12.9px">0.00</div>
<div class="a" style="left:380.5px;top:513.0px;width:68.5px;height:19px;overflow:hidden"><div class="t" style="left:1px;top:3.5px;font-size:12.9px">24,756,993</div></div>
<div class="a" style="left:449.5px;top:513.0px;width:22.5px;height:19px;overflow:hidden"><div class="t" style="left:0.5px;top:3.5px;font-size:12.9px">83.65</div></div>
<div class="a" style="left:204.3px;top:532.9px;width:1.7px;height:17.5px;background:#3c5166"></div>
<div class="a" style="left:0;top:532.0px;width:138px;height:19px;overflow:hidden">
<svg class="a" style="left:12.5px;top:5px" width="8" height="10" viewBox="0 0 8 10"><path d="M2 1.3 L5.7 5 L2 8.7" fill="none" stroke="#b9bbbf" stroke-width="1.1"/></svg>
<svg class="a" style="left:26.0px;top:2.5px" width="14" height="14" viewBox="0 0 14 14"><circle cx="7" cy="7" r="5.9" fill="#3d2a2b" stroke="#d8514c" stroke-width="1.5"/><path d="M4.2 9.6 V5.6 M4.2 6.4 Q4.9 5 5.9 5 Q7 5 7 6.4 V9.6 M7 6.4 Q7.7 5 8.7 5 Q9.8 5 9.8 6.4 V9.6" fill="none" stroke="#e2625d" stroke-width="1.2"/></svg>
<div class="t" style="left:43.0px;top:3.7px;font-size:12.5px">ReferenceQueue</div>
</div>
<div class="a" style="left:138.0px;top:532.0px;width:69.5px;height:19px;overflow:hidden"><div class="t" style="left:1px;top:3.5px;font-size:12.9px">19,712,832</div></div>
<div class="t" style="right:234px;top:535.5px;font-size:12.9px">66.60</div>
<div class="t" style="right:164.5px;top:535.5px;font-size:12.9px">0</div>
<div class="t" style="right:113px;top:535.5px;font-size:12.9px">0.00</div>
<div class="a" style="left:380.5px;top:532.0px;width:68.5px;height:19px;overflow:hidden"><div class="t" style="left:1px;top:3.5px;font-size:12.9px">19,712,832</div></div>
<div class="a" style="left:449.5px;top:532.0px;width:22.5px;height:19px;overflow:hidden"><div class="t" style="left:0.5px;top:3.5px;font-size:12.9px">66.60</div></div>
</div>
<div class="hl" style="left:1111px;top:726px;width:483px"></div>
<div class="a" style="left:1113px;top:730px;width:39px;height:7px;border-radius:3.5px;background:#4a4b4e"></div>
<div class="a" style="left:1585px;top:180px;width:7px;height:391.5px;border-radius:3.5px;background:#4a4b4e"></div>
</body></html>
